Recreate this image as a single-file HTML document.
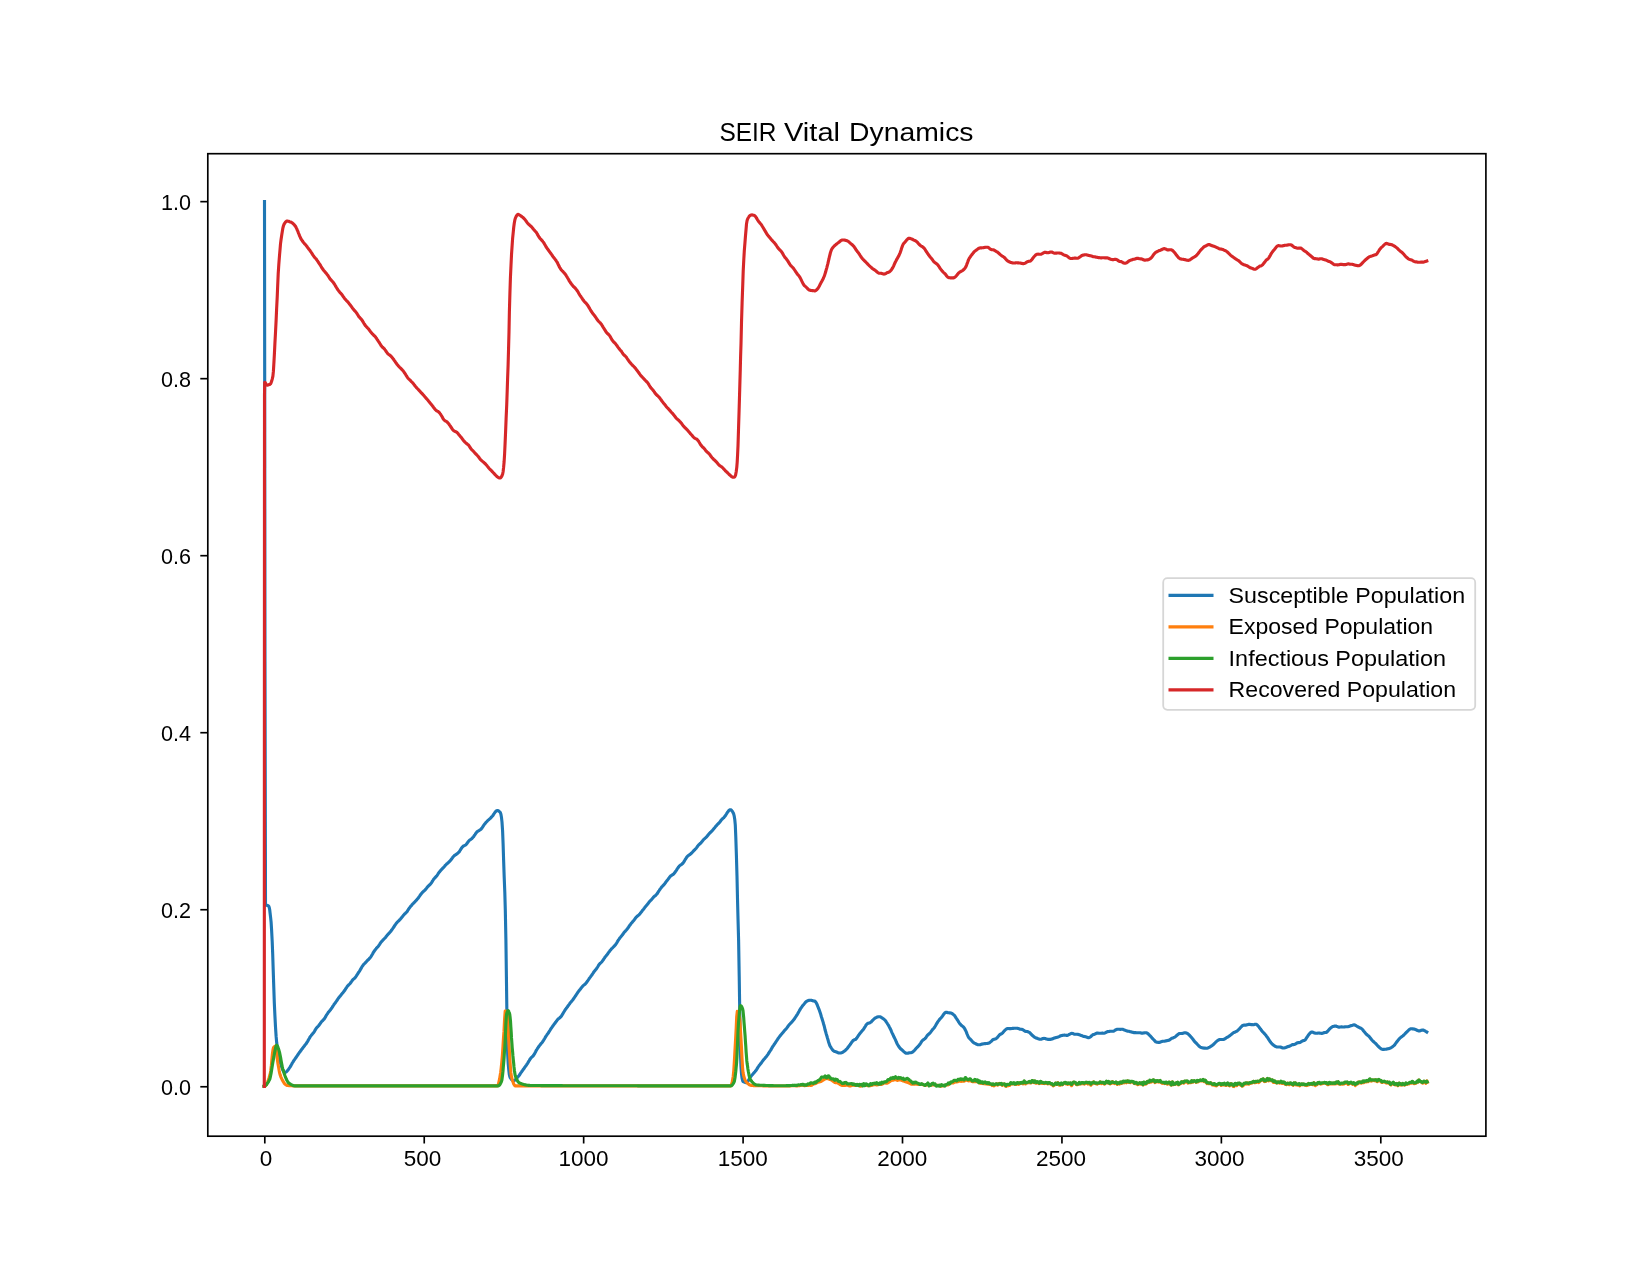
<!DOCTYPE html>
<html><head><meta charset="utf-8"><style>
html,body{margin:0;padding:0;background:#fff;}
svg{display:block;will-change:transform;}
text{font-family:"Liberation Sans",sans-serif;fill:#000;}
</style></head><body>
<svg width="1650" height="1275" viewBox="0 0 1650 1275">
<rect x="0" y="0" width="1650" height="1275" fill="#fff"/>
<g fill="none" stroke-width="3.125" stroke-linejoin="round" stroke-linecap="square">
<polyline stroke="#1f77b4" points="264.5,201.6 265.0,661.7 265.5,904.5 266.0,905.0 266.6,905.3 267.1,905.4 267.6,905.5 268.2,905.7 268.7,906.1 269.2,907.3 269.7,909.7 270.1,913.2 270.6,917.4 271.1,922.2 271.6,930.1 272.2,941.5 272.7,954.3 273.2,969.9 273.8,987.7 274.3,1002.6 274.9,1015.4 275.5,1026.8 276.1,1036.2 276.7,1042.8 277.3,1047.2 277.8,1051.1 278.4,1054.4 279.0,1057.3 279.6,1059.7 280.1,1061.8 280.7,1063.7 281.3,1065.5 281.8,1067.2 282.4,1068.8 283.0,1070.3 283.6,1071.4 284.1,1072.1 284.7,1072.4 285.3,1072.3 285.9,1072.1 286.5,1071.7 287.1,1071.1 287.6,1070.5 288.2,1069.7 288.8,1068.9 289.4,1068.0 290.0,1067.1 290.6,1066.1 291.2,1065.1 291.8,1064.0 292.3,1063.0 292.9,1062.1 293.5,1061.1 294.1,1060.2 294.7,1059.4 295.2,1058.6 295.8,1057.8 296.4,1057.0 296.9,1056.2 297.5,1055.3 298.1,1054.5 298.6,1053.7 299.2,1052.8 299.8,1052.1 300.3,1051.3 300.9,1050.6 301.4,1049.8 302.0,1049.1 302.6,1048.3 303.1,1047.5 303.7,1046.8 304.3,1046.0 304.8,1045.3 305.4,1044.6 306.0,1043.9 306.5,1043.1 307.1,1042.2 307.7,1041.3 308.2,1040.3 308.8,1039.2 309.4,1038.2 309.9,1037.2 310.5,1036.4 311.1,1035.6 311.6,1034.9 312.2,1034.3 312.8,1033.6 313.3,1032.9 313.9,1032.2 314.5,1031.3 315.0,1030.3 315.6,1029.4 316.1,1028.5 316.7,1027.8 317.3,1027.1 317.8,1026.6 318.4,1026.0 319.0,1025.3 319.5,1024.5 320.1,1023.7 320.7,1022.8 321.2,1022.1 321.8,1021.4 322.4,1020.8 322.9,1020.3 323.5,1019.7 324.1,1019.1 324.6,1018.3 325.2,1017.4 325.8,1016.4 326.3,1015.4 326.9,1014.5 327.5,1013.6 328.0,1012.8 328.6,1012.1 329.1,1011.4 329.7,1010.7 330.3,1010.0 330.8,1009.3 331.4,1008.6 332.0,1007.7 332.5,1006.9 333.1,1005.9 333.7,1005.0 334.2,1004.2 334.8,1003.4 335.4,1002.7 335.9,1001.9 336.5,1001.1 337.1,1000.3 337.6,999.4 338.2,998.5 338.8,997.8 339.3,997.0 339.9,996.4 340.5,995.7 341.0,995.0 341.6,994.3 342.1,993.6 342.7,992.9 343.3,992.2 343.8,991.6 344.4,990.8 345.0,990.0 345.5,989.1 346.1,988.2 346.7,987.3 347.2,986.4 347.8,985.7 348.4,985.2 348.9,984.6 349.5,984.1 350.1,983.5 350.6,982.8 351.2,982.0 351.8,981.1 352.3,980.3 352.9,979.7 353.5,979.1 354.0,978.7 354.6,978.2 355.2,977.6 355.7,976.9 356.3,976.1 356.8,975.2 357.4,974.3 358.0,973.4 358.5,972.5 359.1,971.7 359.7,970.8 360.2,969.9 360.8,968.9 361.4,967.9 361.9,966.9 362.5,966.0 363.1,965.2 363.6,964.5 364.2,963.9 364.8,963.4 365.3,962.8 365.9,962.2 366.5,961.5 367.0,960.9 367.6,960.3 368.2,959.8 368.7,959.3 369.3,958.7 369.8,958.1 370.4,957.4 371.0,956.6 371.5,955.7 372.1,954.7 372.7,953.7 373.2,952.7 373.8,951.8 374.4,951.0 374.9,950.2 375.5,949.4 376.1,948.7 376.6,948.0 377.2,947.4 377.8,946.8 378.3,946.2 378.9,945.4 379.5,944.6 380.0,943.7 380.6,942.8 381.2,942.1 381.7,941.4 382.3,940.8 382.8,940.2 383.4,939.6 384.0,939.0 384.5,938.5 385.1,937.9 385.7,937.2 386.2,936.5 386.8,935.8 387.4,935.1 387.9,934.4 388.5,933.8 389.1,933.2 389.6,932.6 390.2,932.0 390.8,931.3 391.3,930.5 391.9,929.7 392.5,928.9 393.0,928.2 393.6,927.3 394.2,926.5 394.7,925.6 395.3,924.7 395.9,923.9 396.4,923.2 397.0,922.5 397.5,921.9 398.1,921.4 398.7,920.8 399.2,920.3 399.8,919.7 400.4,919.1 400.9,918.5 401.5,917.8 402.1,917.1 402.6,916.4 403.2,915.6 403.8,914.9 404.3,914.3 404.9,913.7 405.5,913.2 406.0,912.7 406.6,912.1 407.2,911.4 407.7,910.5 408.3,909.6 408.9,908.7 409.4,907.9 410.0,907.2 410.5,906.5 411.1,905.9 411.7,905.2 412.2,904.5 412.8,903.9 413.4,903.3 413.9,902.7 414.5,902.2 415.1,901.6 415.6,901.0 416.2,900.4 416.8,899.7 417.3,899.1 417.9,898.4 418.5,897.7 419.0,896.9 419.6,896.1 420.2,895.2 420.7,894.5 421.3,893.7 421.9,893.0 422.4,892.4 423.0,891.8 423.5,891.3 424.1,890.9 424.7,890.4 425.2,889.8 425.8,889.2 426.4,888.4 426.9,887.7 427.5,886.9 428.1,886.3 428.6,885.8 429.2,885.3 429.8,884.8 430.3,884.2 430.9,883.5 431.5,882.8 432.0,881.9 432.6,880.9 433.2,880.0 433.7,879.2 434.3,878.5 434.9,877.9 435.4,877.3 436.0,876.8 436.6,876.1 437.1,875.4 437.7,874.5 438.2,873.6 438.8,872.8 439.4,872.1 439.9,871.3 440.5,870.7 441.1,870.0 441.6,869.4 442.2,868.8 442.8,868.2 443.3,867.7 443.9,867.1 444.5,866.4 445.0,865.7 445.6,865.1 446.2,864.5 446.7,863.9 447.3,863.5 447.9,863.0 448.4,862.5 449.0,862.0 449.6,861.4 450.1,860.8 450.7,860.2 451.2,859.5 451.8,858.7 452.4,857.9 452.9,857.1 453.5,856.5 454.1,855.9 454.6,855.4 455.2,855.0 455.8,854.7 456.3,854.3 456.9,853.9 457.5,853.5 458.0,853.0 458.6,852.4 459.2,851.8 459.7,851.0 460.3,850.1 460.9,849.2 461.4,848.3 462.0,847.5 462.6,846.8 463.1,846.3 463.7,845.9 464.2,845.7 464.8,845.4 465.4,845.1 465.9,844.7 466.5,844.1 467.1,843.3 467.6,842.5 468.2,841.7 468.8,841.0 469.3,840.4 469.9,839.9 470.5,839.6 471.0,839.2 471.6,838.8 472.2,838.2 472.7,837.6 473.3,837.0 473.9,836.2 474.4,835.4 475.0,834.6 475.6,833.7 476.1,832.9 476.7,832.2 477.2,831.7 477.8,831.2 478.4,830.9 478.9,830.6 479.5,830.2 480.1,829.9 480.6,829.5 481.2,829.0 481.8,828.3 482.3,827.5 482.9,826.6 483.5,825.7 484.0,824.9 484.6,824.1 485.2,823.4 485.7,822.8 486.3,822.1 486.9,821.5 487.4,820.9 488.0,820.4 488.6,819.9 489.1,819.4 489.7,818.9 490.3,818.4 490.8,817.8 491.4,817.2 491.9,816.6 492.5,816.0 493.1,815.2 493.6,814.4 494.2,813.5 494.8,812.6 495.3,811.9 495.9,811.3 496.5,810.8 497.0,810.5 497.6,810.5 498.2,810.7 498.7,811.0 499.3,811.5 499.8,812.0 500.4,812.6 500.9,814.2 501.5,817.6 502.0,822.2 502.6,831.1 503.1,844.0 503.6,859.7 504.2,877.1 504.8,892.2 505.3,909.6 505.9,939.5 506.4,976.4 506.9,1013.7 507.3,1038.3 507.7,1054.7 508.2,1063.5 508.8,1070.1 509.3,1074.5 509.8,1076.7 510.3,1077.8 510.9,1078.6 511.4,1079.3 511.9,1079.8 512.5,1080.3 513.0,1080.6 513.5,1080.8 514.1,1080.7 514.6,1080.4 515.2,1079.9 515.8,1079.4 516.3,1078.7 516.9,1078.1 517.4,1077.5 518.0,1076.9 518.5,1076.2 519.1,1075.5 519.7,1074.7 520.2,1073.8 520.8,1072.9 521.4,1072.1 521.9,1071.3 522.5,1070.5 523.0,1069.8 523.6,1069.0 524.2,1068.2 524.7,1067.4 525.3,1066.6 525.9,1065.8 526.4,1065.1 527.0,1064.2 527.6,1063.3 528.1,1062.4 528.7,1061.4 529.3,1060.5 529.8,1059.5 530.4,1058.7 531.0,1057.9 531.5,1057.4 532.1,1056.9 532.6,1056.4 533.2,1055.8 533.8,1055.0 534.3,1054.1 534.9,1053.1 535.5,1052.0 536.0,1050.9 536.6,1049.9 537.2,1049.0 537.7,1048.2 538.3,1047.3 538.9,1046.5 539.4,1045.7 540.0,1045.0 540.6,1044.2 541.1,1043.6 541.7,1042.9 542.3,1042.2 542.8,1041.5 543.4,1040.6 543.9,1039.7 544.5,1038.8 545.1,1037.8 545.6,1036.8 546.2,1035.9 546.8,1035.1 547.3,1034.2 547.9,1033.5 548.5,1032.7 549.0,1031.8 549.6,1030.9 550.2,1030.0 550.7,1029.1 551.3,1028.2 551.9,1027.4 552.4,1026.6 553.0,1025.8 553.5,1025.1 554.1,1024.3 554.7,1023.6 555.2,1022.8 555.8,1022.0 556.4,1021.3 556.9,1020.5 557.5,1019.8 558.1,1019.1 558.6,1018.6 559.2,1018.2 559.8,1017.7 560.3,1017.3 560.9,1016.7 561.5,1016.0 562.0,1015.1 562.6,1014.2 563.1,1013.3 563.7,1012.3 564.3,1011.3 564.8,1010.4 565.4,1009.5 566.0,1008.7 566.5,1008.0 567.1,1007.3 567.7,1006.5 568.2,1005.7 568.8,1004.9 569.4,1004.1 569.9,1003.3 570.5,1002.6 571.1,1001.9 571.6,1001.3 572.2,1000.6 572.8,999.9 573.3,999.1 573.9,998.3 574.4,997.5 575.0,996.6 575.6,995.8 576.1,995.0 576.7,994.1 577.3,993.2 577.8,992.4 578.4,991.6 579.0,990.8 579.5,990.1 580.1,989.4 580.7,988.7 581.2,987.9 581.8,987.2 582.4,986.5 582.9,985.9 583.5,985.4 584.0,985.0 584.6,984.5 585.2,984.1 585.7,983.5 586.3,982.8 586.9,982.0 587.4,981.2 588.0,980.4 588.6,979.5 589.1,978.7 589.7,977.9 590.3,977.1 590.8,976.4 591.4,975.6 592.0,974.8 592.5,974.0 593.1,973.1 593.6,972.3 594.2,971.5 594.8,970.8 595.3,970.1 595.9,969.4 596.5,968.7 597.0,967.9 597.6,967.0 598.2,966.0 598.7,965.1 599.3,964.3 599.9,963.7 600.4,963.1 601.0,962.6 601.6,962.0 602.1,961.4 602.7,960.6 603.3,959.8 603.8,959.0 604.4,958.1 604.9,957.3 605.5,956.6 606.1,955.9 606.6,955.2 607.2,954.5 607.8,953.7 608.3,952.9 608.9,952.1 609.5,951.4 610.0,950.6 610.6,949.9 611.2,949.2 611.7,948.6 612.3,948.1 612.9,947.5 613.4,947.0 614.0,946.4 614.5,945.8 615.1,945.2 615.7,944.5 616.2,943.7 616.8,942.8 617.4,941.8 617.9,940.8 618.5,939.9 619.1,939.1 619.6,938.3 620.2,937.6 620.8,936.9 621.3,936.2 621.9,935.5 622.5,934.8 623.0,934.0 623.6,933.2 624.1,932.4 624.7,931.7 625.3,931.2 625.8,930.6 626.4,930.0 627.0,929.3 627.5,928.6 628.1,927.8 628.7,926.9 629.2,926.1 629.8,925.3 630.4,924.5 630.9,923.8 631.5,923.1 632.1,922.4 632.6,921.8 633.2,921.1 633.8,920.5 634.3,919.7 634.9,919.0 635.4,918.2 636.0,917.4 636.6,916.8 637.1,916.3 637.7,915.9 638.3,915.5 638.8,915.0 639.4,914.4 640.0,913.7 640.5,913.0 641.1,912.3 641.7,911.5 642.2,910.8 642.8,910.1 643.4,909.4 643.9,908.7 644.5,907.9 645.0,907.2 645.6,906.5 646.2,905.8 646.7,905.2 647.3,904.5 647.9,903.8 648.4,903.1 649.0,902.3 649.6,901.6 650.1,901.0 650.7,900.4 651.3,899.8 651.8,899.2 652.4,898.5 653.0,897.9 653.5,897.2 654.1,896.6 654.6,896.1 655.2,895.7 655.8,895.2 656.3,894.6 656.9,894.0 657.5,893.2 658.0,892.3 658.6,891.4 659.2,890.5 659.7,889.7 660.3,888.9 660.9,888.1 661.4,887.3 662.0,886.7 662.6,886.1 663.1,885.5 663.7,885.0 664.3,884.3 664.8,883.6 665.4,882.8 665.9,882.0 666.5,881.3 667.1,880.6 667.6,879.9 668.2,879.1 668.8,878.3 669.3,877.6 669.9,876.8 670.5,876.2 671.0,875.7 671.6,875.3 672.2,875.0 672.7,874.7 673.3,874.2 673.9,873.7 674.4,873.1 675.0,872.3 675.5,871.5 676.1,870.7 676.7,869.8 677.2,868.9 677.8,868.1 678.4,867.3 678.9,866.5 679.5,865.9 680.1,865.4 680.6,865.0 681.2,864.6 681.8,864.2 682.3,863.8 682.9,863.2 683.5,862.4 684.0,861.6 684.6,860.6 685.1,859.7 685.7,858.8 686.3,857.9 686.8,857.1 687.4,856.4 688.0,855.8 688.5,855.3 689.1,855.0 689.7,854.7 690.2,854.3 690.8,853.8 691.4,853.3 691.9,852.7 692.5,852.1 693.1,851.4 693.6,850.8 694.2,850.2 694.8,849.7 695.3,849.1 695.9,848.5 696.4,847.9 697.0,847.1 697.6,846.3 698.1,845.5 698.7,844.9 699.3,844.3 699.8,843.8 700.4,843.4 701.0,842.8 701.5,842.1 702.1,841.4 702.7,840.7 703.2,840.0 703.8,839.4 704.4,838.9 704.9,838.4 705.5,837.9 706.0,837.4 706.6,836.8 707.2,836.2 707.7,835.5 708.3,834.7 708.9,834.0 709.4,833.4 710.0,832.8 710.6,832.3 711.1,831.8 711.7,831.2 712.3,830.6 712.8,830.0 713.4,829.3 714.0,828.6 714.5,827.9 715.1,827.2 715.6,826.5 716.2,825.9 716.8,825.2 717.3,824.6 717.9,824.0 718.5,823.5 719.0,822.9 719.6,822.3 720.2,821.5 720.7,820.8 721.3,820.0 721.9,819.4 722.4,818.8 723.0,818.4 723.6,817.9 724.1,817.3 724.7,816.6 725.3,815.8 725.8,815.0 726.4,814.1 726.9,813.2 727.5,812.3 728.1,811.5 728.6,810.8 729.2,810.3 729.8,809.9 730.3,809.8 730.9,809.9 731.5,810.3 732.0,810.9 732.6,811.7 733.1,812.8 733.7,814.0 734.2,816.1 734.8,819.8 735.3,825.1 735.8,837.2 736.4,855.3 737.0,876.3 737.5,899.0 738.0,918.4 738.6,940.1 739.2,975.5 739.8,1014.8 740.1,1037.5 740.5,1054.9 741.0,1067.0 741.5,1073.9 742.0,1077.8 742.6,1080.5 743.1,1081.6 743.6,1081.8 744.2,1082.0 744.7,1082.2 745.2,1082.4 745.8,1082.6 746.3,1082.7 746.9,1082.6 747.4,1082.0 748.0,1081.2 748.5,1080.3 749.1,1079.2 749.6,1078.3 750.2,1077.4 750.8,1076.6 751.4,1075.8 752.0,1075.1 752.6,1074.4 753.2,1073.7 753.7,1073.1 754.3,1072.4 754.9,1071.8 755.5,1071.1 756.1,1070.3 756.7,1069.4 757.3,1068.4 757.9,1067.4 758.5,1066.5 759.0,1065.7 759.6,1065.0 760.2,1064.3 760.8,1063.5 761.4,1062.7 762.0,1061.9 762.6,1061.0 763.2,1060.3 763.7,1059.6 764.3,1058.9 764.9,1058.3 765.5,1057.6 766.0,1056.9 766.6,1056.2 767.2,1055.4 767.8,1054.6 768.4,1053.7 768.9,1052.8 769.5,1051.9 770.1,1051.0 770.7,1050.1 771.3,1049.1 771.8,1048.1 772.4,1047.1 773.0,1046.2 773.6,1045.3 774.1,1044.5 774.7,1043.7 775.3,1042.8 775.9,1041.9 776.5,1041.0 777.1,1040.1 777.7,1039.2 778.2,1038.4 778.8,1037.6 779.4,1036.7 780.0,1036.0 780.6,1035.2 781.2,1034.5 781.8,1033.9 782.4,1033.1 783.0,1032.4 783.6,1031.7 784.1,1031.0 784.7,1030.3 785.3,1029.7 785.9,1029.1 786.5,1028.4 787.1,1027.6 787.7,1026.8 788.2,1026.0 788.8,1025.3 789.4,1024.6 789.9,1024.0 790.5,1023.4 791.0,1022.9 791.6,1022.2 792.2,1021.6 792.7,1021.0 793.3,1020.3 793.9,1019.6 794.5,1018.8 795.0,1017.9 795.6,1017.0 796.2,1016.1 796.8,1015.2 797.4,1014.3 798.0,1013.3 798.5,1012.2 799.1,1011.2 799.7,1010.1 800.3,1009.1 800.9,1008.2 801.5,1007.3 802.0,1006.6 802.6,1005.8 803.2,1005.1 803.8,1004.4 804.4,1003.6 805.0,1002.9 805.5,1002.2 806.1,1001.7 806.7,1001.2 807.3,1001.0 807.8,1000.7 808.4,1000.5 808.9,1000.4 809.5,1000.3 810.0,1000.2 810.6,1000.2 811.2,1000.3 811.7,1000.4 812.3,1000.5 812.8,1000.7 813.4,1000.9 813.9,1001.0 814.5,1001.1 815.1,1001.3 815.6,1001.9 816.2,1002.7 816.7,1003.8 817.3,1005.0 817.8,1006.4 818.4,1007.8 819.0,1009.3 819.6,1011.0 820.2,1012.8 820.8,1014.6 821.3,1016.5 821.9,1018.3 822.5,1020.2 823.1,1022.1 823.6,1024.0 824.2,1026.0 824.7,1028.1 825.2,1030.3 825.8,1032.3 826.3,1034.2 826.9,1036.0 827.4,1037.9 828.0,1039.8 828.5,1041.7 829.1,1043.5 829.6,1045.0 830.2,1046.3 830.8,1047.2 831.3,1048.1 831.9,1048.9 832.4,1049.7 833.0,1050.3 833.5,1050.8 834.1,1051.2 834.7,1051.4 835.2,1051.6 835.8,1051.8 836.4,1052.0 837.0,1052.2 837.5,1052.5 838.1,1052.7 838.7,1052.9 839.3,1053.0 839.8,1053.0 840.4,1053.0 841.0,1052.9 841.5,1052.8 842.1,1052.6 842.7,1052.3 843.2,1051.9 843.8,1051.5 844.4,1051.1 844.9,1050.7 845.5,1050.2 846.0,1049.7 846.6,1049.1 847.2,1048.5 847.7,1047.8 848.3,1047.0 848.9,1046.3 849.4,1045.5 850.0,1044.8 850.6,1044.0 851.1,1043.2 851.7,1042.3 852.3,1041.5 852.8,1040.8 853.4,1040.3 854.0,1040.0 854.5,1039.8 855.1,1039.6 855.7,1039.3 856.3,1038.7 856.8,1038.0 857.4,1037.1 858.0,1036.2 858.5,1035.4 859.1,1034.6 859.7,1033.8 860.2,1033.1 860.8,1032.4 861.4,1031.7 861.9,1031.0 862.5,1030.4 863.1,1029.7 863.7,1029.0 864.2,1028.1 864.8,1027.2 865.4,1026.2 865.9,1025.3 866.5,1024.5 867.1,1023.9 867.6,1023.5 868.2,1023.2 868.8,1023.1 869.4,1022.9 870.0,1022.7 870.6,1022.3 871.2,1021.9 871.7,1021.3 872.3,1020.7 872.9,1020.1 873.5,1019.5 874.1,1018.9 874.7,1018.4 875.3,1018.0 875.9,1017.7 876.5,1017.4 877.0,1017.1 877.6,1017.0 878.2,1016.8 878.8,1016.8 879.4,1016.8 880.0,1016.8 880.6,1017.0 881.2,1017.3 881.8,1017.7 882.3,1018.1 882.9,1018.5 883.5,1018.9 884.1,1019.4 884.7,1019.9 885.3,1020.5 885.9,1021.3 886.4,1022.1 887.0,1023.0 887.6,1024.0 888.2,1024.9 888.8,1025.8 889.3,1026.9 889.9,1028.0 890.5,1029.2 891.1,1030.5 891.6,1031.8 892.2,1033.1 892.8,1034.3 893.4,1035.6 893.9,1036.8 894.5,1037.9 895.1,1039.1 895.7,1040.4 896.2,1041.7 896.8,1043.0 897.4,1044.2 898.0,1045.2 898.6,1046.2 899.2,1047.0 899.7,1047.8 900.3,1048.5 900.9,1049.0 901.5,1049.5 902.1,1050.0 902.6,1050.5 903.2,1051.0 903.8,1051.6 904.4,1052.1 905.0,1052.6 905.6,1053.0 906.1,1053.2 906.7,1053.3 907.3,1053.3 907.9,1053.2 908.4,1053.0 909.0,1052.9 909.6,1052.8 910.2,1052.8 910.7,1052.7 911.3,1052.6 911.9,1052.4 912.5,1052.1 913.0,1051.6 913.6,1051.2 914.2,1050.6 914.8,1050.0 915.4,1049.3 916.0,1048.6 916.5,1048.0 917.1,1047.4 917.7,1046.8 918.3,1046.2 918.9,1045.5 919.5,1044.8 920.1,1044.0 920.7,1043.1 921.2,1042.2 921.8,1041.3 922.4,1040.6 923.0,1040.0 923.6,1039.6 924.2,1039.2 924.8,1038.8 925.4,1038.2 926.0,1037.5 926.5,1036.6 927.1,1035.8 927.7,1035.0 928.3,1034.5 928.9,1034.0 929.5,1033.5 930.1,1032.9 930.7,1032.1 931.2,1031.4 931.8,1030.6 932.4,1029.8 933.0,1029.1 933.6,1028.5 934.2,1027.8 934.7,1027.0 935.3,1026.1 935.8,1025.2 936.4,1024.1 937.0,1023.2 937.5,1022.2 938.1,1021.4 938.7,1020.6 939.2,1019.8 939.8,1019.2 940.3,1018.6 940.9,1018.0 941.5,1017.4 942.0,1016.7 942.6,1015.9 943.1,1015.1 943.7,1014.3 944.3,1013.5 944.8,1012.9 945.4,1012.5 946.0,1012.3 946.5,1012.3 947.1,1012.4 947.6,1012.6 948.2,1012.7 948.8,1012.8 949.4,1012.9 950.0,1012.9 950.6,1013.0 951.2,1013.1 951.8,1013.4 952.4,1013.8 953.0,1014.3 953.6,1014.7 954.1,1015.1 954.7,1015.8 955.2,1016.5 955.7,1017.3 956.2,1018.1 956.8,1019.0 957.3,1019.8 957.9,1020.6 958.4,1021.6 959.0,1022.5 959.6,1023.4 960.2,1024.1 960.7,1024.7 961.3,1025.3 961.9,1025.8 962.5,1026.2 963.0,1026.6 963.6,1027.2 964.1,1027.8 964.7,1028.7 965.2,1029.7 965.8,1030.9 966.4,1032.2 966.9,1033.6 967.5,1035.0 968.0,1036.2 968.6,1037.3 969.1,1038.0 969.7,1038.6 970.3,1039.2 970.9,1039.8 971.5,1040.5 972.0,1041.1 972.6,1041.7 973.2,1042.2 973.8,1042.7 974.4,1043.1 975.0,1043.4 975.6,1043.7 976.2,1044.0 976.7,1044.3 977.3,1044.5 977.9,1044.7 978.5,1044.8 979.1,1044.8 979.7,1044.8 980.2,1044.7 980.8,1044.5 981.4,1044.3 982.0,1044.1 982.5,1044.0 983.1,1043.9 983.7,1043.8 984.3,1043.7 984.8,1043.6 985.4,1043.6 986.0,1043.5 986.6,1043.5 987.1,1043.5 987.7,1043.4 988.3,1043.3 988.9,1043.1 989.4,1042.8 990.0,1042.4 990.6,1041.9 991.2,1041.4 991.8,1040.8 992.4,1040.2 992.9,1039.7 993.5,1039.4 994.1,1039.2 994.7,1039.1 995.3,1038.9 995.9,1038.7 996.5,1038.3 997.1,1037.8 997.6,1037.2 998.2,1036.4 998.8,1035.7 999.4,1035.0 1000.0,1034.5 1000.6,1034.2 1001.1,1034.0 1001.7,1033.6 1002.3,1033.2 1002.9,1032.6 1003.4,1031.9 1004.0,1031.2 1004.6,1030.6 1005.2,1030.0 1005.7,1029.5 1006.3,1029.1 1006.9,1028.7 1007.5,1028.5 1008.0,1028.5 1008.6,1028.5 1009.2,1028.6 1009.8,1028.6 1010.3,1028.7 1010.9,1028.6 1011.5,1028.5 1012.1,1028.5 1012.6,1028.4 1013.2,1028.4 1013.8,1028.3 1014.4,1028.3 1014.9,1028.3 1015.5,1028.3 1016.1,1028.3 1016.7,1028.3 1017.2,1028.3 1017.8,1028.4 1018.4,1028.6 1019.0,1028.8 1019.6,1029.0 1020.1,1029.2 1020.7,1029.3 1021.3,1029.3 1021.9,1029.4 1022.4,1029.5 1023.0,1029.8 1023.6,1030.2 1024.2,1030.6 1024.7,1031.0 1025.2,1031.3 1025.8,1031.4 1026.3,1031.5 1026.9,1031.5 1027.5,1031.6 1028.0,1031.8 1028.5,1032.0 1029.1,1032.2 1029.7,1032.6 1030.2,1033.2 1030.8,1033.8 1031.4,1034.4 1031.9,1035.0 1032.5,1035.5 1033.1,1036.0 1033.7,1036.5 1034.2,1037.0 1034.8,1037.4 1035.4,1037.7 1035.9,1038.0 1036.5,1038.1 1037.1,1038.3 1037.6,1038.5 1038.2,1038.7 1038.8,1038.9 1039.4,1039.2 1039.9,1039.3 1040.5,1039.3 1041.1,1039.2 1041.7,1039.0 1042.2,1038.8 1042.8,1038.6 1043.4,1038.5 1044.0,1038.4 1044.6,1038.5 1045.1,1038.5 1045.7,1038.7 1046.3,1038.9 1046.9,1039.1 1047.4,1039.3 1048.0,1039.4 1048.6,1039.4 1049.2,1039.4 1049.7,1039.4 1050.3,1039.4 1050.9,1039.3 1051.5,1039.1 1052.1,1039.0 1052.6,1038.8 1053.2,1038.5 1053.8,1038.3 1054.4,1038.1 1054.9,1037.8 1055.5,1037.7 1056.1,1037.5 1056.7,1037.4 1057.2,1037.3 1057.8,1037.2 1058.4,1036.9 1059.0,1036.6 1059.6,1036.3 1060.1,1036.0 1060.7,1035.7 1061.3,1035.6 1061.9,1035.5 1062.4,1035.4 1063.0,1035.3 1063.6,1035.2 1064.2,1035.1 1064.7,1035.1 1065.3,1035.2 1065.9,1035.3 1066.5,1035.4 1067.0,1035.4 1067.6,1035.2 1068.2,1035.0 1068.8,1034.7 1069.3,1034.4 1069.9,1034.1 1070.5,1033.8 1071.1,1033.6 1071.6,1033.4 1072.2,1033.4 1072.8,1033.6 1073.4,1033.8 1073.9,1034.0 1074.5,1034.2 1075.1,1034.2 1075.7,1034.2 1076.2,1034.2 1076.8,1034.2 1077.4,1034.3 1078.0,1034.4 1078.6,1034.5 1079.2,1034.7 1079.7,1034.9 1080.3,1035.1 1080.9,1035.4 1081.5,1035.6 1082.1,1035.8 1082.6,1036.0 1083.2,1036.2 1083.8,1036.4 1084.4,1036.5 1085.0,1036.6 1085.6,1036.7 1086.1,1036.9 1086.7,1037.1 1087.3,1037.4 1087.9,1037.6 1088.4,1037.7 1089.0,1037.6 1089.5,1037.4 1090.1,1037.1 1090.6,1036.7 1091.2,1036.2 1091.7,1035.6 1092.3,1035.2 1092.8,1034.8 1093.4,1034.6 1093.9,1034.4 1094.5,1034.2 1095.1,1033.9 1095.7,1033.7 1096.2,1033.4 1096.8,1033.1 1097.4,1033.0 1098.0,1033.1 1098.6,1033.2 1099.2,1033.3 1099.7,1033.3 1100.3,1033.3 1100.9,1033.2 1101.5,1033.2 1102.1,1033.1 1102.6,1033.1 1103.2,1033.2 1103.8,1033.2 1104.4,1033.1 1105.0,1032.9 1105.6,1032.6 1106.1,1032.3 1106.7,1032.0 1107.3,1031.8 1107.9,1031.6 1108.5,1031.5 1109.0,1031.5 1109.6,1031.4 1110.2,1031.3 1110.8,1031.3 1111.4,1031.3 1111.9,1031.3 1112.5,1031.3 1113.1,1031.2 1113.7,1031.1 1114.3,1030.8 1114.8,1030.4 1115.4,1030.0 1116.0,1029.7 1116.6,1029.5 1117.2,1029.3 1117.7,1029.2 1118.3,1029.2 1118.9,1029.3 1119.5,1029.3 1120.1,1029.4 1120.6,1029.4 1121.2,1029.3 1121.8,1029.3 1122.4,1029.3 1123.0,1029.4 1123.5,1029.6 1124.1,1029.9 1124.7,1030.1 1125.3,1030.4 1125.8,1030.6 1126.4,1030.8 1127.0,1031.0 1127.6,1031.1 1128.2,1031.2 1128.7,1031.3 1129.3,1031.4 1129.9,1031.6 1130.5,1031.7 1131.0,1031.9 1131.6,1032.0 1132.2,1032.2 1132.8,1032.3 1133.3,1032.5 1133.9,1032.6 1134.5,1032.6 1135.1,1032.6 1135.7,1032.6 1136.3,1032.7 1136.9,1032.7 1137.5,1032.8 1138.0,1032.8 1138.6,1032.8 1139.2,1032.8 1139.8,1032.8 1140.4,1032.8 1141.0,1033.0 1141.6,1033.1 1142.2,1033.2 1142.8,1033.1 1143.4,1033.0 1143.9,1032.9 1144.5,1032.7 1145.1,1032.7 1145.7,1032.7 1146.3,1032.8 1146.9,1033.0 1147.4,1033.2 1148.0,1033.7 1148.5,1034.2 1149.1,1034.7 1149.6,1035.3 1150.2,1035.9 1150.7,1036.4 1151.3,1037.1 1151.8,1037.7 1152.4,1038.4 1152.9,1038.9 1153.5,1039.5 1154.1,1040.1 1154.6,1040.7 1155.2,1041.3 1155.7,1041.8 1156.3,1042.0 1156.9,1042.2 1157.5,1042.3 1158.1,1042.4 1158.7,1042.5 1159.3,1042.4 1159.9,1042.3 1160.5,1042.0 1161.1,1041.8 1161.7,1041.6 1162.2,1041.4 1162.8,1041.3 1163.4,1041.3 1164.0,1041.3 1164.6,1041.2 1165.2,1041.0 1165.8,1040.9 1166.4,1040.7 1167.0,1040.6 1167.6,1040.5 1168.2,1040.4 1168.8,1040.3 1169.4,1040.0 1170.0,1039.6 1170.5,1039.2 1171.1,1038.8 1171.7,1038.4 1172.3,1038.1 1172.9,1037.9 1173.5,1037.7 1174.1,1037.4 1174.7,1037.1 1175.3,1036.7 1175.9,1036.3 1176.4,1035.7 1177.0,1035.2 1177.6,1034.7 1178.2,1034.2 1178.8,1033.8 1179.4,1033.6 1180.0,1033.5 1180.6,1033.5 1181.1,1033.5 1181.7,1033.5 1182.3,1033.4 1182.9,1033.2 1183.5,1033.1 1184.1,1032.9 1184.6,1032.8 1185.2,1032.8 1185.8,1032.9 1186.4,1033.0 1187.0,1033.2 1187.6,1033.6 1188.2,1034.0 1188.8,1034.6 1189.3,1035.1 1189.9,1035.7 1190.5,1036.4 1191.1,1037.0 1191.7,1037.7 1192.3,1038.4 1192.9,1039.2 1193.5,1040.0 1194.0,1040.8 1194.6,1041.6 1195.2,1042.2 1195.8,1042.8 1196.4,1043.3 1197.0,1043.9 1197.5,1044.5 1198.1,1045.1 1198.7,1045.8 1199.3,1046.4 1199.9,1046.8 1200.4,1047.1 1201.0,1047.4 1201.6,1047.6 1202.2,1047.7 1202.8,1047.9 1203.4,1048.0 1203.9,1048.1 1204.5,1048.1 1205.1,1048.1 1205.7,1048.2 1206.2,1048.2 1206.8,1048.2 1207.4,1048.1 1208.0,1047.9 1208.5,1047.7 1209.1,1047.4 1209.7,1047.1 1210.3,1046.7 1210.8,1046.3 1211.4,1046.0 1212.0,1045.6 1212.6,1045.2 1213.1,1044.7 1213.7,1044.2 1214.3,1043.6 1214.9,1043.0 1215.4,1042.5 1216.0,1041.9 1216.6,1041.4 1217.2,1040.9 1217.7,1040.5 1218.3,1040.1 1218.9,1039.8 1219.5,1039.6 1220.0,1039.5 1220.6,1039.5 1221.2,1039.5 1221.8,1039.5 1222.3,1039.5 1222.9,1039.5 1223.5,1039.4 1224.1,1039.3 1224.6,1039.0 1225.2,1038.6 1225.8,1038.2 1226.4,1037.8 1227.0,1037.4 1227.6,1037.1 1228.2,1036.8 1228.7,1036.4 1229.3,1036.0 1229.9,1035.6 1230.5,1035.1 1231.1,1034.6 1231.7,1034.1 1232.3,1033.7 1232.8,1033.2 1233.4,1032.8 1234.0,1032.4 1234.6,1032.2 1235.2,1032.0 1235.8,1031.7 1236.4,1031.4 1237.0,1031.1 1237.5,1030.6 1238.1,1030.1 1238.7,1029.5 1239.3,1028.9 1239.9,1028.3 1240.5,1027.6 1241.1,1027.0 1241.7,1026.4 1242.2,1025.8 1242.8,1025.4 1243.4,1025.2 1244.0,1025.1 1244.6,1025.1 1245.2,1025.1 1245.8,1025.1 1246.4,1025.0 1246.9,1024.8 1247.5,1024.7 1248.1,1024.5 1248.7,1024.4 1249.3,1024.4 1249.9,1024.4 1250.5,1024.5 1251.1,1024.6 1251.7,1024.6 1252.2,1024.6 1252.8,1024.7 1253.4,1024.7 1254.0,1024.6 1254.6,1024.4 1255.2,1024.3 1255.8,1024.3 1256.3,1024.4 1256.9,1024.7 1257.5,1025.2 1258.1,1025.9 1258.7,1026.6 1259.3,1027.5 1259.9,1028.3 1260.5,1029.1 1261.1,1029.8 1261.6,1030.6 1262.2,1031.3 1262.8,1031.9 1263.4,1032.5 1264.0,1033.2 1264.6,1033.8 1265.2,1034.5 1265.8,1035.2 1266.3,1035.9 1266.9,1036.7 1267.5,1037.5 1268.1,1038.4 1268.7,1039.4 1269.3,1040.3 1269.9,1041.2 1270.5,1042.0 1271.0,1042.7 1271.6,1043.4 1272.2,1044.0 1272.8,1044.6 1273.4,1045.0 1274.0,1045.5 1274.6,1045.9 1275.2,1046.3 1275.7,1046.6 1276.3,1046.8 1276.9,1047.0 1277.5,1047.0 1278.1,1047.0 1278.7,1047.0 1279.3,1047.0 1279.9,1047.0 1280.5,1047.1 1281.1,1047.3 1281.6,1047.5 1282.2,1047.8 1282.8,1048.0 1283.4,1048.0 1284.0,1048.0 1284.6,1047.8 1285.2,1047.7 1285.8,1047.5 1286.3,1047.3 1286.9,1047.0 1287.5,1046.8 1288.1,1046.5 1288.7,1046.4 1289.3,1046.2 1289.9,1046.0 1290.5,1045.6 1291.1,1045.3 1291.6,1045.0 1292.2,1044.8 1292.8,1044.6 1293.4,1044.6 1294.0,1044.5 1294.6,1044.4 1295.2,1044.1 1295.8,1043.8 1296.4,1043.4 1297.0,1043.0 1297.6,1042.7 1298.2,1042.6 1298.8,1042.6 1299.3,1042.6 1299.9,1042.4 1300.5,1042.2 1301.1,1041.8 1301.7,1041.4 1302.3,1041.0 1302.9,1040.8 1303.5,1040.6 1304.1,1040.5 1304.7,1040.2 1305.3,1039.7 1305.9,1038.9 1306.4,1038.1 1307.0,1037.2 1307.6,1036.3 1308.2,1035.4 1308.7,1034.7 1309.3,1033.9 1309.9,1033.2 1310.5,1032.7 1311.0,1032.2 1311.6,1032.0 1312.2,1032.0 1312.8,1032.2 1313.3,1032.5 1313.9,1032.7 1314.5,1033.0 1315.1,1033.1 1315.6,1033.2 1316.2,1033.3 1316.8,1033.2 1317.4,1033.2 1317.9,1033.1 1318.5,1033.0 1319.1,1033.0 1319.7,1033.1 1320.2,1033.2 1320.8,1033.3 1321.4,1033.4 1322.0,1033.4 1322.5,1033.3 1323.1,1033.1 1323.7,1032.8 1324.3,1032.6 1324.8,1032.5 1325.4,1032.5 1326.0,1032.4 1326.6,1032.2 1327.1,1031.8 1327.7,1031.2 1328.3,1030.5 1328.9,1029.8 1329.4,1029.2 1330.0,1028.6 1330.6,1028.0 1331.2,1027.6 1331.7,1027.2 1332.3,1026.8 1332.9,1026.6 1333.5,1026.4 1334.1,1026.2 1334.7,1026.0 1335.3,1026.0 1335.9,1026.1 1336.5,1026.3 1337.1,1026.6 1337.7,1026.8 1338.3,1027.0 1338.8,1027.1 1339.4,1027.1 1340.0,1027.0 1340.6,1027.0 1341.2,1026.9 1341.8,1026.9 1342.4,1027.0 1343.0,1027.0 1343.6,1027.0 1344.2,1027.0 1344.8,1026.9 1345.4,1026.8 1346.0,1026.8 1346.6,1026.8 1347.1,1026.7 1347.7,1026.7 1348.3,1026.6 1348.9,1026.4 1349.5,1026.2 1350.1,1026.0 1350.7,1025.8 1351.3,1025.6 1351.9,1025.5 1352.5,1025.3 1353.0,1025.1 1353.6,1024.9 1354.2,1024.9 1354.8,1025.0 1355.4,1025.3 1356.0,1025.6 1356.6,1026.0 1357.1,1026.3 1357.7,1026.6 1358.3,1027.0 1358.9,1027.3 1359.5,1027.6 1360.0,1027.9 1360.6,1028.1 1361.2,1028.4 1361.8,1028.9 1362.4,1029.4 1363.0,1030.1 1363.5,1030.9 1364.1,1031.6 1364.7,1032.3 1365.3,1033.0 1365.9,1033.7 1366.4,1034.3 1367.0,1034.8 1367.6,1035.3 1368.2,1035.7 1368.8,1036.1 1369.3,1036.7 1369.9,1037.4 1370.5,1038.2 1371.1,1039.0 1371.7,1039.8 1372.3,1040.5 1372.8,1041.0 1373.4,1041.5 1374.0,1042.0 1374.6,1042.6 1375.2,1043.1 1375.8,1043.7 1376.4,1044.3 1377.0,1045.0 1377.5,1045.6 1378.1,1046.2 1378.7,1046.8 1379.3,1047.3 1379.9,1047.9 1380.5,1048.4 1381.1,1048.8 1381.7,1049.1 1382.2,1049.3 1382.8,1049.4 1383.4,1049.4 1384.0,1049.4 1384.6,1049.3 1385.2,1049.3 1385.7,1049.2 1386.3,1049.1 1386.8,1049.0 1387.4,1048.9 1388.0,1048.8 1388.5,1048.7 1389.1,1048.5 1389.6,1048.4 1390.2,1048.1 1390.8,1047.8 1391.3,1047.5 1391.9,1047.1 1392.4,1046.8 1393.0,1046.4 1393.6,1045.9 1394.2,1045.4 1394.8,1044.7 1395.3,1043.9 1395.9,1043.1 1396.5,1042.3 1397.1,1041.5 1397.7,1040.7 1398.3,1040.0 1398.9,1039.3 1399.5,1038.6 1400.1,1038.0 1400.6,1037.5 1401.2,1037.1 1401.8,1036.6 1402.4,1036.2 1403.0,1035.8 1403.6,1035.3 1404.2,1034.6 1404.8,1034.0 1405.3,1033.4 1405.9,1032.8 1406.5,1032.2 1407.1,1031.7 1407.7,1031.1 1408.3,1030.5 1408.9,1029.9 1409.5,1029.4 1410.0,1029.1 1410.6,1028.8 1411.2,1028.7 1411.8,1028.8 1412.4,1028.9 1413.0,1028.9 1413.6,1029.0 1414.2,1029.1 1414.8,1029.3 1415.4,1029.5 1416.0,1029.7 1416.6,1030.0 1417.2,1030.4 1417.8,1030.6 1418.4,1030.9 1419.0,1030.9 1419.6,1030.9 1420.2,1030.7 1420.8,1030.5 1421.4,1030.2 1422.0,1030.1 1422.6,1030.0 1423.2,1030.1 1423.8,1030.3 1424.4,1030.6 1425.0,1030.9 1425.6,1031.3 1426.2,1031.6 1426.8,1032.0"/>
<polyline stroke="#ff7f0e" points="264.7,1086.2 265.3,1086.0 265.8,1085.5 266.4,1084.8 266.9,1083.7 267.5,1082.4 268.1,1080.9 268.6,1079.3 269.2,1077.4 269.7,1075.5 270.3,1073.4 270.8,1070.2 271.4,1065.2 271.9,1059.5 272.4,1054.0 273.0,1049.7 273.5,1047.6 274.1,1047.0 274.7,1046.4 275.3,1046.1 275.9,1046.0 276.4,1049.0 277.0,1055.2 277.5,1060.5 278.0,1064.0 278.6,1067.3 279.1,1070.3 279.6,1072.9 280.2,1075.1 280.7,1076.6 281.3,1077.9 281.9,1079.2 282.5,1080.3 283.1,1081.4 283.7,1082.3 284.2,1083.2 284.8,1083.9 285.4,1084.5 286.0,1084.9 286.6,1085.2 287.2,1085.4 287.8,1085.5 288.3,1085.5 288.9,1085.6 289.4,1085.6 290.0,1085.7 290.5,1085.7 291.1,1085.8 291.7,1085.8 292.2,1085.8 292.8,1085.9 293.3,1085.9 293.9,1085.9 294.4,1085.9 295.0,1085.9 295.6,1085.9 296.2,1085.9 296.8,1085.9 297.4,1085.9 298.0,1085.9 298.6,1085.9 299.2,1085.9 299.8,1085.9 300.4,1085.9 301.0,1085.9 301.6,1085.9 302.2,1085.9 302.8,1085.9 303.4,1085.9 304.0,1085.9 304.6,1085.9 305.2,1085.9 305.8,1085.9 306.4,1085.9 307.0,1085.9 307.6,1085.9 308.2,1085.9 308.8,1085.9 309.4,1085.9 310.0,1085.9 310.6,1085.9 311.2,1085.9 311.8,1085.9 312.4,1085.9 313.0,1085.9 313.6,1085.9 314.2,1085.9 314.8,1085.9 315.4,1085.9 316.0,1085.9 316.6,1085.9 317.2,1085.9 317.8,1085.9 318.4,1085.9 319.0,1085.9 319.6,1085.9 320.2,1085.9 320.7,1085.9 321.3,1085.9 321.9,1085.9 322.5,1085.9 323.1,1085.9 323.7,1085.9 324.3,1085.9 324.9,1085.9 325.5,1085.9 326.1,1085.9 326.7,1085.9 327.3,1085.9 327.9,1085.9 328.5,1085.9 329.1,1085.9 329.7,1085.9 330.3,1085.9 330.9,1085.9 331.5,1085.9 332.1,1085.9 332.7,1085.9 333.3,1085.9 333.9,1085.9 334.5,1085.9 335.1,1085.9 335.7,1085.9 336.3,1085.9 336.9,1085.9 337.5,1085.9 338.1,1085.9 338.7,1085.9 339.3,1085.9 339.9,1085.9 340.5,1085.9 341.1,1085.9 341.7,1085.9 342.3,1085.9 342.9,1085.9 343.5,1085.9 344.1,1085.9 344.7,1085.9 345.3,1085.9 345.9,1085.9 346.5,1085.9 347.1,1085.9 347.7,1085.9 348.3,1085.9 348.9,1085.9 349.5,1085.9 350.1,1085.9 350.7,1085.9 351.3,1085.9 351.9,1085.9 352.5,1085.9 353.1,1085.9 353.7,1085.9 354.3,1085.9 354.9,1085.9 355.5,1085.9 356.1,1085.9 356.7,1085.9 357.3,1085.9 357.9,1085.9 358.5,1085.9 359.1,1085.9 359.7,1085.9 360.3,1085.9 360.9,1085.9 361.5,1085.9 362.1,1085.9 362.7,1085.9 363.3,1085.9 363.9,1085.9 364.5,1085.9 365.1,1085.9 365.7,1085.9 366.3,1085.9 366.9,1085.9 367.5,1085.9 368.1,1085.9 368.7,1085.9 369.3,1085.9 369.9,1085.9 370.5,1085.9 371.0,1085.9 371.6,1085.9 372.2,1085.9 372.8,1085.9 373.4,1085.9 374.0,1085.9 374.6,1085.9 375.2,1085.9 375.8,1085.9 376.4,1085.9 377.0,1085.9 377.6,1085.9 378.2,1085.9 378.8,1085.9 379.4,1085.9 380.0,1085.9 380.6,1085.9 381.2,1085.9 381.8,1085.9 382.4,1085.9 383.0,1085.9 383.6,1085.9 384.2,1085.9 384.8,1085.9 385.4,1085.9 386.0,1085.9 386.6,1085.9 387.2,1085.9 387.8,1085.9 388.4,1085.9 389.0,1085.9 389.6,1085.9 390.2,1085.9 390.8,1085.9 391.4,1085.9 392.0,1085.9 392.6,1085.9 393.2,1085.9 393.8,1085.9 394.4,1085.9 395.0,1085.9 395.6,1085.9 396.2,1085.9 396.8,1085.9 397.4,1085.9 398.0,1085.9 398.6,1085.9 399.2,1085.9 399.8,1085.9 400.4,1085.9 401.0,1085.9 401.6,1085.9 402.2,1085.9 402.8,1085.9 403.4,1085.9 404.0,1085.9 404.6,1085.9 405.2,1085.9 405.8,1085.9 406.4,1085.9 407.0,1085.9 407.6,1085.9 408.2,1085.9 408.8,1085.9 409.4,1085.9 410.0,1085.9 410.6,1085.9 411.2,1085.9 411.8,1085.9 412.4,1085.9 413.0,1085.9 413.6,1085.9 414.2,1085.9 414.8,1085.9 415.4,1085.9 416.0,1085.9 416.6,1085.9 417.2,1085.9 417.8,1085.9 418.4,1085.9 419.0,1085.9 419.6,1085.9 420.2,1085.9 420.8,1085.9 421.4,1085.9 421.9,1085.9 422.5,1085.9 423.1,1085.9 423.7,1085.9 424.3,1085.9 424.9,1085.9 425.5,1085.9 426.1,1085.9 426.7,1085.9 427.3,1085.9 427.9,1085.9 428.5,1085.9 429.1,1085.9 429.7,1085.9 430.3,1085.9 430.9,1085.9 431.5,1085.9 432.1,1085.9 432.7,1085.9 433.3,1085.9 433.9,1085.9 434.5,1085.9 435.1,1085.9 435.7,1085.9 436.3,1085.9 436.9,1085.9 437.5,1085.9 438.1,1085.9 438.7,1085.9 439.3,1085.9 439.9,1085.9 440.5,1085.9 441.1,1085.9 441.7,1085.9 442.3,1085.9 442.9,1085.9 443.5,1085.9 444.1,1085.9 444.7,1085.9 445.3,1085.9 445.9,1085.9 446.5,1085.9 447.1,1085.9 447.7,1085.9 448.3,1085.9 448.9,1085.9 449.5,1085.9 450.1,1085.9 450.7,1085.9 451.3,1085.9 451.9,1085.9 452.5,1085.9 453.1,1085.9 453.7,1085.9 454.3,1085.9 454.9,1085.9 455.5,1085.9 456.1,1085.9 456.7,1085.9 457.3,1085.9 457.9,1085.9 458.5,1085.9 459.1,1085.9 459.7,1085.9 460.3,1085.9 460.9,1085.9 461.5,1085.9 462.1,1085.9 462.7,1085.9 463.3,1085.9 463.9,1085.9 464.5,1085.9 465.1,1085.9 465.7,1085.9 466.3,1085.9 466.9,1085.9 467.5,1085.9 468.1,1085.9 468.7,1085.9 469.3,1085.9 469.9,1085.9 470.5,1085.9 471.1,1085.9 471.7,1085.9 472.2,1085.9 472.8,1085.9 473.4,1085.9 474.0,1085.9 474.6,1085.9 475.2,1085.9 475.8,1085.9 476.4,1085.9 477.0,1085.9 477.6,1085.9 478.2,1085.9 478.8,1085.9 479.4,1085.9 480.0,1085.9 480.6,1085.9 481.2,1085.9 481.8,1085.9 482.4,1085.9 483.0,1085.9 483.6,1085.9 484.2,1085.9 484.8,1085.9 485.4,1085.9 486.0,1085.9 486.6,1085.9 487.2,1085.9 487.8,1085.9 488.4,1085.9 489.0,1085.9 489.6,1085.9 490.2,1085.9 490.8,1085.9 491.4,1085.9 492.0,1085.9 492.6,1085.9 493.2,1085.9 493.8,1085.9 494.4,1085.9 495.0,1085.9 495.6,1085.9 496.2,1085.9 496.8,1085.9 497.4,1085.9 497.9,1085.4 498.5,1083.9 499.0,1081.7 499.6,1078.9 500.1,1075.7 500.7,1072.3 501.2,1068.0 501.8,1062.2 502.4,1055.2 502.9,1047.5 503.4,1039.4 504.0,1031.2 504.6,1018.9 505.2,1011.0 505.7,1011.1 506.2,1011.3 506.8,1011.7 507.3,1012.2 507.8,1018.7 508.4,1031.7 508.9,1043.5 509.4,1051.7 509.9,1059.8 510.4,1067.1 510.9,1072.9 511.4,1076.4 512.0,1078.7 512.6,1080.8 513.2,1082.5 513.7,1084.0 514.3,1085.0 514.9,1085.7 515.5,1085.9 516.1,1085.9 516.7,1085.9 517.3,1085.9 517.9,1085.9 518.5,1085.9 519.1,1085.9 519.7,1085.9 520.3,1085.9 520.9,1085.9 521.5,1085.9 522.1,1085.9 522.7,1085.9 523.3,1085.9 523.9,1085.9 524.5,1085.9 525.1,1085.9 525.7,1085.9 526.3,1085.9 526.9,1085.9 527.5,1085.9 528.1,1085.9 528.7,1085.9 529.3,1085.9 529.9,1085.9 530.5,1085.9 531.1,1085.9 531.7,1085.9 532.3,1085.9 532.9,1085.9 533.5,1085.9 534.1,1085.9 534.7,1085.9 535.3,1085.9 535.9,1085.9 536.5,1085.9 537.1,1085.9 537.7,1085.9 538.3,1085.9 538.9,1085.9 539.5,1085.9 540.1,1085.9 540.7,1085.9 541.3,1085.9 541.9,1085.9 542.5,1085.9 543.1,1085.9 543.7,1085.9 544.3,1085.9 544.9,1085.9 545.5,1085.9 546.1,1085.9 546.7,1085.9 547.3,1085.9 547.9,1085.9 548.5,1085.9 549.1,1085.9 549.7,1085.9 550.3,1085.9 550.9,1085.9 551.5,1085.9 552.1,1085.9 552.7,1085.9 553.3,1085.9 553.9,1085.9 554.5,1085.9 555.1,1085.9 555.7,1085.9 556.3,1085.9 556.9,1085.9 557.5,1085.9 558.1,1085.9 558.7,1085.9 559.3,1085.9 559.9,1085.9 560.5,1085.9 561.1,1085.9 561.7,1085.9 562.3,1085.9 562.9,1085.9 563.5,1085.9 564.1,1085.9 564.7,1085.9 565.3,1085.9 565.9,1085.9 566.5,1085.9 567.1,1085.9 567.7,1085.9 568.3,1085.9 568.9,1085.9 569.4,1085.9 570.0,1085.9 570.6,1085.9 571.2,1085.9 571.8,1085.9 572.4,1085.9 573.0,1085.9 573.6,1085.9 574.2,1085.9 574.8,1085.9 575.4,1085.9 576.0,1085.9 576.6,1085.9 577.2,1085.9 577.8,1085.9 578.4,1085.9 579.0,1085.9 579.6,1085.9 580.2,1085.9 580.8,1085.9 581.4,1085.9 582.0,1085.9 582.6,1085.9 583.2,1085.9 583.8,1085.9 584.4,1085.9 585.0,1085.9 585.6,1085.9 586.2,1085.9 586.8,1085.9 587.4,1085.9 588.0,1085.9 588.6,1085.9 589.2,1085.9 589.8,1085.9 590.4,1085.9 591.0,1085.9 591.6,1085.9 592.2,1085.9 592.8,1085.9 593.4,1085.9 594.0,1085.9 594.6,1085.9 595.2,1085.9 595.8,1085.9 596.4,1085.9 597.0,1085.9 597.6,1085.9 598.2,1085.9 598.8,1085.9 599.4,1085.9 600.0,1085.9 600.6,1085.9 601.2,1085.9 601.8,1085.9 602.4,1085.9 603.0,1085.9 603.6,1085.9 604.2,1085.9 604.8,1085.9 605.4,1085.9 606.0,1085.9 606.6,1085.9 607.2,1085.9 607.8,1085.9 608.4,1085.9 609.0,1085.9 609.6,1085.9 610.2,1085.9 610.8,1085.9 611.4,1085.9 612.0,1085.9 612.6,1085.9 613.2,1085.9 613.8,1085.9 614.4,1085.9 615.0,1085.9 615.6,1085.9 616.2,1085.9 616.8,1085.9 617.4,1085.9 618.0,1085.9 618.6,1085.9 619.2,1085.9 619.8,1085.9 620.4,1085.9 621.0,1085.9 621.6,1085.9 622.2,1085.9 622.8,1085.9 623.4,1085.9 624.0,1085.9 624.6,1085.9 625.2,1085.9 625.8,1085.9 626.4,1085.9 627.0,1085.9 627.6,1085.9 628.2,1085.9 628.8,1085.9 629.4,1085.9 630.0,1085.9 630.6,1085.9 631.2,1085.9 631.8,1085.9 632.4,1085.9 633.0,1085.9 633.6,1085.9 634.2,1085.9 634.8,1085.9 635.4,1085.9 636.0,1085.9 636.6,1085.9 637.2,1085.9 637.8,1085.9 638.4,1085.9 639.0,1085.9 639.6,1085.9 640.2,1085.9 640.8,1085.9 641.4,1085.9 642.0,1085.9 642.6,1085.9 643.2,1085.9 643.8,1085.9 644.4,1085.9 645.0,1085.9 645.6,1085.9 646.2,1085.9 646.8,1085.9 647.4,1085.9 648.0,1085.9 648.6,1085.9 649.2,1085.9 649.8,1085.9 650.4,1085.9 651.0,1085.9 651.6,1085.9 652.2,1085.9 652.8,1085.9 653.4,1085.9 654.0,1085.9 654.6,1085.9 655.2,1085.9 655.8,1085.9 656.4,1085.9 657.0,1085.9 657.6,1085.9 658.2,1085.9 658.8,1085.9 659.4,1085.9 660.0,1085.9 660.6,1085.9 661.2,1085.9 661.8,1085.9 662.4,1085.9 663.0,1085.9 663.6,1085.9 664.2,1085.9 664.8,1085.9 665.4,1085.9 666.0,1085.9 666.6,1085.9 667.2,1085.9 667.8,1085.9 668.4,1085.9 669.0,1085.9 669.6,1085.9 670.2,1085.9 670.8,1085.9 671.4,1085.9 672.0,1085.9 672.6,1085.9 673.2,1085.9 673.8,1085.9 674.4,1085.9 675.0,1085.9 675.6,1085.9 676.2,1085.9 676.8,1085.9 677.3,1085.9 677.9,1085.9 678.5,1085.9 679.1,1085.9 679.7,1085.9 680.3,1085.9 680.9,1085.9 681.5,1085.9 682.1,1085.9 682.7,1085.9 683.3,1085.9 683.9,1085.9 684.5,1085.9 685.1,1085.9 685.7,1085.9 686.3,1085.9 686.9,1085.9 687.5,1085.9 688.1,1085.9 688.7,1085.9 689.3,1085.9 689.9,1085.9 690.5,1085.9 691.1,1085.9 691.7,1085.9 692.3,1085.9 692.9,1085.9 693.5,1085.9 694.1,1085.9 694.7,1085.9 695.3,1085.9 695.9,1085.9 696.5,1085.9 697.1,1085.9 697.7,1085.9 698.3,1085.9 698.9,1085.9 699.5,1085.9 700.1,1085.9 700.7,1085.9 701.3,1085.9 701.9,1085.9 702.5,1085.9 703.1,1085.9 703.7,1085.9 704.3,1085.9 704.9,1085.9 705.5,1085.9 706.1,1085.9 706.7,1085.9 707.3,1085.9 707.9,1085.9 708.5,1085.9 709.1,1085.9 709.7,1085.9 710.3,1085.9 710.9,1085.9 711.5,1085.9 712.1,1085.9 712.7,1085.9 713.3,1085.9 713.9,1085.9 714.5,1085.9 715.1,1085.9 715.7,1085.9 716.3,1085.9 716.9,1085.9 717.5,1085.9 718.1,1085.9 718.7,1085.9 719.3,1085.9 719.9,1085.9 720.5,1085.9 721.1,1085.9 721.7,1085.9 722.3,1085.9 722.9,1085.9 723.5,1085.9 724.1,1085.9 724.7,1085.9 725.3,1085.9 725.9,1085.9 726.5,1085.9 727.1,1085.9 727.7,1085.9 728.3,1085.9 728.9,1085.9 729.5,1085.9 730.1,1085.9 730.7,1085.9 731.2,1085.4 731.7,1084.0 732.2,1081.9 732.7,1079.3 733.2,1076.4 733.8,1070.3 734.4,1060.9 735.0,1049.9 735.6,1039.4 736.2,1028.1 736.7,1016.6 737.3,1011.4 737.8,1011.6 738.3,1012.3 738.8,1013.3 739.3,1014.7 739.9,1019.9 740.4,1029.5 741.0,1039.4 741.5,1048.4 742.0,1058.4 742.5,1067.1 743.0,1072.3 743.5,1075.0 744.1,1077.1 744.6,1078.9 745.2,1080.2 745.8,1081.3 746.3,1082.0 746.8,1082.6 747.4,1083.1 747.9,1083.6 748.5,1084.1 749.0,1084.5 749.6,1084.8 750.1,1085.1 750.7,1085.3 751.2,1085.4 751.8,1085.5 752.4,1085.5 753.0,1085.5 753.6,1085.6 754.1,1085.6 754.7,1085.6 755.3,1085.6 755.9,1085.7 756.5,1085.7 757.1,1085.7 757.7,1085.7 758.3,1085.7 758.8,1085.8 759.4,1085.8 760.0,1085.8 760.6,1085.8 761.2,1085.8 761.8,1085.8 762.4,1085.8 763.0,1085.9 763.5,1085.9 764.1,1085.9 764.7,1085.9 765.3,1085.9 765.9,1085.9 766.5,1085.9 767.1,1085.9 767.7,1085.9 768.2,1085.9 768.8,1085.9 769.4,1086.0 770.0,1086.0 770.6,1086.0 771.2,1086.0 771.8,1086.0 772.4,1086.0 773.0,1086.0 773.5,1086.0 774.1,1086.0 774.7,1086.0 775.3,1086.0 775.9,1086.0 776.5,1086.0 777.1,1086.0 777.6,1086.0 778.2,1086.0 778.8,1086.0 779.4,1086.0 780.0,1086.0 780.6,1086.0 781.2,1086.0 781.8,1086.0 782.4,1086.0 783.0,1086.0 783.6,1086.0 784.2,1086.0 784.7,1086.0 785.3,1086.0 785.9,1086.0 786.5,1086.0 787.1,1085.9 787.7,1085.9 788.3,1085.9 788.9,1085.9 789.5,1085.9 790.1,1085.9 790.7,1085.9 791.3,1085.8 791.9,1085.8 792.5,1085.8 793.1,1085.8 793.6,1085.8 794.2,1085.8 794.8,1085.8 795.4,1085.8 796.0,1085.9 796.6,1085.9 797.2,1085.9 797.8,1085.8 798.4,1085.7 799.0,1085.7 799.6,1085.6 800.2,1085.5 800.8,1085.3 801.4,1085.2 802.0,1085.2 802.5,1085.3 803.1,1085.4 803.7,1085.5 804.3,1085.6 804.9,1085.6 805.5,1085.5 806.1,1085.4 806.7,1085.5 807.3,1085.5 807.8,1085.5 808.4,1085.4 809.0,1085.2 809.6,1085.2 810.1,1085.3 810.7,1085.4 811.3,1085.4 811.8,1085.2 812.4,1084.8 813.0,1084.4 813.6,1084.1 814.1,1083.9 814.7,1083.8 815.3,1083.7 815.9,1083.4 816.5,1083.0 817.1,1082.6 817.7,1082.3 818.3,1082.1 818.9,1082.0 819.5,1081.9 820.1,1081.8 820.7,1081.6 821.3,1081.3 821.9,1080.9 822.5,1080.5 823.1,1080.1 823.7,1079.8 824.3,1079.4 824.9,1079.0 825.5,1078.7 826.1,1078.6 826.7,1078.5 827.3,1078.5 827.9,1078.6 828.4,1078.9 829.0,1079.1 829.6,1079.4 830.2,1079.5 830.8,1079.7 831.4,1079.9 831.9,1080.2 832.5,1080.7 833.1,1081.2 833.7,1081.6 834.3,1082.1 834.8,1082.4 835.4,1082.6 836.0,1082.7 836.6,1082.7 837.2,1082.8 837.8,1083.0 838.4,1083.4 839.0,1083.8 839.6,1084.2 840.2,1084.6 840.8,1084.9 841.4,1085.2 841.9,1085.4 842.5,1085.5 843.1,1085.5 843.7,1085.5 844.3,1085.5 844.9,1085.4 845.5,1085.2 846.1,1085.1 846.7,1085.1 847.3,1085.2 847.9,1085.3 848.4,1085.5 849.0,1085.7 849.6,1086.0 850.2,1086.0 850.7,1085.9 851.3,1085.6 851.9,1085.3 852.5,1085.0 853.1,1085.0 853.6,1085.1 854.2,1085.4 854.8,1085.5 855.4,1085.4 856.0,1085.2 856.5,1085.0 857.1,1084.9 857.7,1084.9 858.3,1085.2 858.8,1085.5 859.4,1085.9 860.0,1086.2 860.6,1086.2 861.2,1086.0 861.8,1085.8 862.4,1085.6 862.9,1085.5 863.5,1085.4 864.1,1085.3 864.7,1085.2 865.3,1085.2 865.9,1085.3 866.5,1085.4 867.1,1085.5 867.6,1085.6 868.2,1085.6 868.8,1085.5 869.4,1085.6 870.0,1085.7 870.6,1085.6 871.2,1085.4 871.8,1085.2 872.4,1085.1 872.9,1085.0 873.5,1084.8 874.1,1084.6 874.7,1084.5 875.3,1084.6 875.9,1084.8 876.5,1084.9 877.1,1084.9 877.6,1084.8 878.2,1084.6 878.8,1084.5 879.4,1084.5 880.0,1084.5 880.6,1084.4 881.2,1084.4 881.8,1084.3 882.4,1084.0 883.0,1083.6 883.6,1083.2 884.2,1083.0 884.8,1083.0 885.4,1083.0 886.0,1083.1 886.6,1083.2 887.2,1083.1 887.8,1082.8 888.4,1082.5 888.9,1082.2 889.5,1081.8 890.1,1081.4 890.7,1080.9 891.3,1080.6 891.9,1080.4 892.5,1080.3 893.1,1080.2 893.7,1080.0 894.3,1079.7 894.9,1079.5 895.5,1079.5 896.1,1079.8 896.7,1080.1 897.3,1080.4 897.9,1080.3 898.5,1080.1 899.1,1079.9 899.6,1079.8 900.2,1079.9 900.8,1080.0 901.4,1080.2 902.0,1080.4 902.6,1080.7 903.2,1080.9 903.8,1081.1 904.3,1081.3 904.9,1081.6 905.5,1081.8 906.1,1082.0 906.7,1082.1 907.3,1082.3 907.9,1082.5 908.5,1082.7 909.1,1083.0 909.7,1083.3 910.3,1083.6 910.9,1084.0 911.5,1084.2 912.1,1084.2 912.7,1084.2 913.3,1084.3 913.9,1084.3 914.5,1084.2 915.0,1084.1 915.6,1084.0 916.2,1084.0 916.8,1084.1 917.4,1084.3 918.0,1084.4 918.5,1084.5 919.1,1084.5 919.7,1084.5 920.3,1084.5 920.9,1084.5 921.5,1084.4 922.0,1084.3 922.6,1084.4 923.2,1084.8 923.8,1085.1 924.4,1085.3 925.0,1085.4 925.5,1085.3 926.1,1085.2 926.7,1085.0 927.3,1084.8 927.9,1084.7 928.5,1084.8 929.1,1085.0 929.6,1085.1 930.2,1085.1 930.8,1085.1 931.4,1085.1 932.0,1085.1 932.6,1084.9 933.2,1084.7 933.8,1084.7 934.3,1084.9 934.9,1085.1 935.5,1085.2 936.1,1085.2 936.7,1085.3 937.3,1085.3 937.9,1085.4 938.5,1085.5 939.1,1085.7 939.6,1085.8 940.2,1086.0 940.8,1086.1 941.4,1086.1 942.0,1086.0 942.6,1085.9 943.2,1085.8 943.8,1085.7 944.3,1085.5 944.9,1085.4 945.5,1085.2 946.1,1085.0 946.7,1085.0 947.3,1085.0 947.9,1085.0 948.5,1084.6 949.1,1084.0 949.7,1083.4 950.3,1083.1 950.9,1083.0 951.5,1083.0 952.1,1083.0 952.7,1083.0 953.3,1082.9 953.9,1082.5 954.5,1082.2 955.1,1082.0 955.7,1081.9 956.3,1081.9 956.9,1081.9 957.5,1081.8 958.1,1081.5 958.7,1081.2 959.3,1081.1 959.9,1081.2 960.5,1081.3 961.1,1081.4 961.7,1081.3 962.3,1081.2 962.9,1081.3 963.5,1081.3 964.1,1081.2 964.7,1080.9 965.3,1080.5 965.9,1080.3 966.5,1080.2 967.1,1080.3 967.7,1080.6 968.2,1080.8 968.8,1080.9 969.4,1080.8 970.0,1080.6 970.6,1080.7 971.2,1081.0 971.8,1081.4 972.4,1081.6 972.9,1081.7 973.5,1081.7 974.1,1081.8 974.7,1081.8 975.3,1081.7 975.9,1081.7 976.5,1081.7 977.1,1081.8 977.6,1081.9 978.2,1082.1 978.8,1082.4 979.4,1082.9 980.0,1083.3 990.4,1084.5 990.8,1084.6 991.2,1084.4 991.6,1084.9 992.0,1085.5 992.4,1084.8 992.8,1084.4 993.2,1084.4 993.6,1084.9 994.0,1085.9 994.4,1084.9 994.8,1085.2 995.2,1084.7 995.6,1084.3 996.0,1084.5 996.4,1083.8 996.8,1084.1 997.2,1084.8 997.6,1085.2 998.0,1084.8 998.4,1084.4 998.8,1083.7 999.2,1084.1 999.6,1084.1 1000.0,1083.5 1000.4,1084.4 1000.8,1083.8 1001.2,1084.0 1001.6,1084.5 1002.0,1085.2 1002.4,1085.4 1002.8,1084.2 1003.2,1084.6 1003.6,1084.7 1004.0,1084.1 1004.4,1084.0 1004.8,1084.9 1005.2,1085.3 1005.5,1086.1 1005.9,1085.6 1006.3,1086.4 1006.7,1084.9 1007.1,1084.8 1007.5,1085.5 1007.9,1084.8 1008.3,1085.7 1008.7,1084.8 1009.1,1084.4 1009.5,1085.5 1009.9,1084.6 1010.3,1083.6 1010.7,1083.1 1011.1,1083.5 1011.5,1083.6 1011.9,1084.1 1012.3,1083.7 1012.7,1083.6 1013.1,1083.4 1013.5,1083.9 1013.9,1083.3 1014.3,1083.6 1014.7,1084.1 1015.1,1084.1 1015.5,1083.9 1015.9,1084.1 1016.3,1084.4 1016.6,1084.3 1017.0,1083.2 1017.4,1083.1 1017.8,1083.6 1018.2,1083.3 1018.6,1084.4 1019.0,1083.7 1019.4,1083.4 1019.8,1083.9 1020.2,1082.6 1020.6,1082.7 1021.0,1083.3 1021.4,1083.1 1021.8,1082.8 1022.2,1083.2 1022.6,1083.1 1023.0,1083.8 1023.4,1083.5 1023.8,1082.2 1024.2,1081.3 1024.6,1082.0 1025.0,1082.7 1025.4,1084.0 1025.8,1082.7 1026.2,1083.0 1026.6,1082.7 1027.0,1083.0 1027.4,1082.9 1027.7,1082.7 1028.1,1082.7 1028.5,1082.4 1028.9,1082.1 1029.3,1081.9 1029.7,1082.0 1030.1,1082.8 1030.5,1083.0 1030.9,1082.9 1031.3,1082.8 1031.7,1081.9 1032.1,1081.0 1032.5,1080.8 1032.9,1081.1 1033.3,1082.4 1033.7,1082.1 1034.1,1082.7 1034.5,1082.1 1034.9,1081.2 1035.3,1081.7 1035.7,1082.4 1036.1,1083.1 1036.5,1082.9 1036.8,1083.1 1037.2,1082.4 1037.6,1082.5 1038.0,1082.8 1038.4,1082.8 1038.8,1082.5 1039.2,1083.6 1039.6,1083.4 1040.0,1083.1 1040.4,1081.9 1040.8,1081.8 1041.2,1082.0 1041.6,1082.5 1042.0,1083.5 1042.4,1082.8 1042.8,1083.3 1043.2,1083.1 1043.6,1083.3 1044.0,1083.0 1044.4,1083.5 1044.8,1083.1 1045.2,1083.4 1045.6,1082.9 1046.0,1082.6 1046.4,1083.4 1046.8,1082.8 1047.2,1083.5 1047.6,1083.9 1048.0,1083.9 1048.4,1083.2 1048.8,1083.5 1049.2,1083.1 1049.6,1082.8 1050.0,1083.2 1050.4,1084.0 1050.8,1084.1 1051.2,1084.5 1051.6,1084.3 1052.0,1084.1 1052.4,1084.2 1052.8,1085.5 1053.2,1085.9 1053.6,1085.7 1054.0,1084.8 1054.4,1085.0 1054.8,1084.2 1055.2,1084.1 1055.6,1083.1 1056.0,1083.9 1056.4,1084.0 1056.8,1084.5 1057.2,1084.4 1057.6,1083.7 1058.0,1082.7 1058.4,1084.1 1058.8,1084.3 1059.2,1085.1 1059.6,1084.5 1060.0,1084.7 1060.4,1085.2 1060.8,1083.7 1061.2,1083.5 1061.6,1083.9 1062.0,1084.6 1062.4,1084.8 1062.8,1084.5 1063.2,1083.4 1063.6,1083.4 1064.0,1083.4 1064.4,1083.5 1064.8,1083.0 1065.2,1083.2 1065.6,1082.9 1066.0,1083.9 1066.4,1083.5 1066.8,1083.4 1067.2,1083.4 1067.6,1084.3 1068.0,1083.9 1068.4,1083.4 1068.8,1084.2 1069.2,1084.1 1069.6,1083.8 1070.0,1083.8 1070.4,1083.1 1070.8,1083.8 1071.2,1084.9 1071.6,1085.6 1072.0,1085.2 1072.4,1084.1 1072.8,1083.5 1073.2,1082.3 1073.6,1082.5 1074.0,1082.3 1074.4,1083.1 1074.8,1082.8 1075.2,1082.6 1075.6,1083.2 1076.0,1084.1 1076.4,1084.6 1076.8,1084.6 1077.2,1084.6 1077.6,1084.7 1078.0,1084.6 1078.4,1083.8 1078.8,1083.5 1079.2,1082.8 1079.6,1083.7 1080.0,1084.1 1080.4,1084.0 1080.8,1083.9 1081.2,1083.5 1081.6,1083.6 1082.0,1082.9 1082.4,1082.9 1082.8,1083.6 1083.2,1083.2 1083.6,1083.3 1084.0,1083.9 1084.4,1084.1 1084.8,1083.5 1085.2,1083.2 1085.6,1082.9 1086.0,1082.6 1086.4,1082.4 1086.8,1083.5 1087.2,1083.0 1087.6,1083.5 1088.0,1084.0 1088.4,1082.9 1088.8,1082.6 1089.2,1083.1 1089.6,1082.9 1090.0,1083.4 1090.4,1084.1 1090.8,1085.2 1091.2,1083.9 1091.6,1083.0 1092.0,1083.4 1092.4,1083.8 1092.8,1083.2 1093.2,1082.9 1093.6,1081.9 1094.0,1082.3 1094.4,1083.0 1094.8,1083.3 1095.2,1083.6 1095.6,1083.7 1096.0,1083.3 1096.4,1083.8 1096.8,1083.7 1097.2,1084.1 1097.6,1083.4 1098.0,1083.6 1098.4,1083.3 1098.8,1083.4 1099.2,1083.5 1099.6,1083.2 1100.0,1082.2 1100.4,1081.9 1100.8,1083.1 1101.2,1083.7 1101.6,1083.4 1102.0,1083.0 1102.4,1082.8 1102.8,1082.9 1103.2,1083.5 1103.6,1083.4 1104.0,1083.2 1104.4,1084.2 1104.8,1083.7 1105.2,1083.7 1105.6,1082.8 1106.0,1082.5 1106.4,1081.7 1106.8,1081.3 1107.2,1082.7 1107.6,1082.9 1108.0,1082.6 1108.4,1082.2 1108.8,1081.9 1109.2,1083.2 1109.6,1083.7 1110.0,1083.9 1110.4,1083.2 1110.8,1082.7 1111.2,1083.1 1111.6,1083.3 1112.0,1083.0 1112.4,1081.6 1112.8,1082.0 1113.2,1082.8 1113.6,1082.5 1114.0,1083.2 1114.4,1083.5 1114.8,1082.9 1115.2,1083.2 1115.6,1082.8 1116.0,1082.7 1116.4,1082.5 1116.8,1083.5 1117.2,1084.5 1117.6,1084.0 1118.0,1083.3 1118.4,1083.7 1118.8,1083.1 1119.2,1083.6 1119.6,1084.1 1120.0,1082.7 1120.4,1082.8 1120.8,1082.2 1121.2,1082.3 1121.6,1083.5 1122.0,1082.9 1122.4,1082.2 1122.8,1082.0 1123.2,1081.7 1123.6,1082.6 1124.0,1082.8 1124.4,1081.6 1124.8,1082.3 1125.2,1081.8 1125.6,1081.8 1126.0,1082.2 1126.4,1082.8 1126.8,1082.4 1127.2,1081.1 1127.6,1080.9 1128.0,1081.9 1128.4,1081.9 1128.8,1082.2 1129.2,1081.9 1129.6,1082.4 1130.0,1081.6 1130.4,1082.6 1130.8,1082.3 1131.2,1082.0 1131.6,1081.6 1132.0,1081.8 1132.4,1082.2 1132.8,1082.2 1133.2,1081.9 1133.6,1082.3 1134.0,1083.3 1134.4,1083.4 1134.8,1083.4 1135.2,1083.7 1135.6,1083.0 1136.0,1083.1 1136.4,1082.6 1136.8,1083.5 1137.2,1083.6 1137.6,1084.7 1138.0,1084.6 1138.4,1084.5 1138.8,1083.7 1139.2,1083.8 1139.6,1083.0 1140.0,1083.1 1140.4,1084.0 1140.8,1083.7 1141.2,1084.1 1141.6,1083.4 1142.0,1083.1 1142.3,1083.2 1142.7,1084.4 1143.1,1085.0 1143.5,1083.7 1143.9,1082.3 1144.3,1082.9 1144.7,1083.1 1145.1,1084.1 1145.5,1084.2 1145.9,1083.9 1146.3,1083.9 1146.7,1083.3 1147.0,1081.9 1147.4,1081.3 1147.8,1082.3 1148.2,1082.0 1148.6,1082.1 1149.0,1082.6 1149.4,1081.5 1149.8,1080.8 1150.2,1081.3 1150.6,1082.2 1151.0,1082.0 1151.3,1082.0 1151.7,1081.2 1152.1,1081.4 1152.5,1080.9 1152.9,1080.3 1153.3,1080.2 1153.7,1080.0 1154.1,1080.6 1154.5,1081.7 1154.9,1082.6 1155.3,1081.6 1155.7,1081.7 1156.1,1081.2 1156.5,1081.8 1156.9,1081.9 1157.3,1081.0 1157.7,1081.2 1158.1,1081.2 1158.5,1081.3 1158.9,1082.0 1159.3,1081.7 1159.7,1081.2 1160.1,1080.7 1160.5,1082.0 1160.9,1082.6 1161.3,1082.7 1161.7,1082.7 1162.1,1082.9 1162.5,1083.4 1162.9,1082.8 1163.3,1083.1 1163.7,1082.8 1164.1,1083.0 1164.5,1083.6 1164.9,1083.5 1165.3,1083.3 1165.7,1082.5 1166.1,1082.4 1166.5,1082.8 1166.9,1083.2 1167.3,1084.2 1167.7,1083.6 1168.1,1083.8 1168.5,1083.0 1168.9,1082.4 1169.3,1083.2 1169.7,1082.1 1170.1,1082.8 1170.5,1084.4 1170.9,1084.9 1171.3,1085.1 1171.7,1085.0 1172.1,1083.2 1172.5,1081.9 1172.9,1082.5 1173.3,1083.7 1173.7,1084.6 1174.1,1084.3 1174.5,1084.2 1174.9,1084.4 1175.3,1084.1 1175.7,1084.2 1176.1,1082.9 1176.5,1082.8 1176.9,1083.7 1177.3,1083.1 1177.7,1082.4 1178.1,1083.8 1178.5,1084.9 1178.9,1084.6 1179.3,1083.6 1179.7,1084.0 1180.1,1083.9 1180.5,1083.7 1180.9,1082.9 1181.3,1082.8 1181.7,1082.3 1182.1,1081.6 1182.5,1082.3 1182.9,1082.8 1183.3,1082.7 1183.7,1083.2 1184.1,1081.5 1184.5,1081.3 1184.9,1081.3 1185.3,1081.5 1185.7,1082.2 1186.1,1081.3 1186.5,1081.9 1186.9,1081.4 1187.3,1081.7 1187.7,1082.0 1188.1,1083.1 1188.5,1082.6 1188.9,1082.8 1189.3,1082.7 1189.7,1082.5 1190.1,1082.2 1190.5,1081.9 1190.9,1082.7 1191.3,1082.2 1191.7,1081.2 1192.1,1081.4 1192.5,1082.1 1192.8,1082.2 1193.2,1080.9 1193.6,1081.7 1194.0,1081.3 1194.4,1081.1 1194.8,1081.0 1195.2,1081.4 1195.6,1081.5 1196.0,1082.3 1196.4,1082.2 1196.8,1081.5 1197.2,1080.9 1197.6,1081.2 1198.0,1081.8 1198.4,1081.6 1198.8,1080.9 1199.2,1080.7 1199.5,1080.7 1199.9,1080.2 1200.3,1080.2 1200.7,1080.9 1201.1,1080.9 1201.5,1080.9 1201.9,1081.0 1202.3,1080.9 1202.7,1079.9 1203.1,1079.6 1203.5,1081.2 1203.9,1081.4 1204.3,1081.7 1204.7,1081.1 1205.1,1080.4 1205.4,1081.2 1205.8,1081.5 1206.2,1081.6 1206.6,1082.8 1207.0,1083.6 1207.4,1082.8 1207.8,1083.1 1208.2,1083.4 1208.6,1083.2 1209.0,1083.8 1209.4,1083.8 1209.8,1083.5 1210.2,1083.2 1210.6,1083.2 1210.9,1082.8 1211.3,1083.7 1211.7,1084.1 1212.1,1084.8 1212.5,1084.6 1212.9,1084.2 1213.3,1085.1 1213.7,1084.5 1214.1,1084.0 1214.5,1084.2 1214.9,1084.6 1215.3,1085.7 1215.7,1085.5 1216.1,1085.5 1216.5,1085.8 1216.8,1085.4 1217.2,1084.9 1217.6,1084.9 1218.0,1084.7 1218.4,1084.5 1218.8,1084.3 1219.2,1084.1 1219.6,1083.8 1220.0,1084.3 1220.4,1084.2 1220.8,1084.7 1221.2,1085.4 1221.6,1084.9 1222.0,1084.1 1222.4,1084.2 1222.8,1084.9 1223.2,1084.9 1223.6,1084.9 1224.0,1083.8 1224.4,1083.7 1224.8,1084.4 1225.2,1085.1 1225.6,1084.8 1226.0,1085.0 1226.4,1085.4 1226.8,1084.9 1227.2,1083.8 1227.6,1083.3 1228.0,1083.7 1228.4,1084.2 1228.8,1084.6 1229.2,1085.7 1229.6,1085.9 1230.0,1084.8 1230.4,1085.1 1230.8,1083.6 1231.2,1084.6 1231.6,1084.6 1232.0,1085.0 1232.4,1084.4 1232.8,1084.5 1233.2,1086.3 1233.6,1086.2 1234.0,1086.5 1234.4,1085.9 1234.8,1084.5 1235.2,1083.7 1235.6,1083.8 1236.0,1083.8 1236.4,1084.7 1236.8,1085.6 1237.2,1084.6 1237.6,1083.7 1238.0,1083.5 1238.4,1084.3 1238.8,1083.9 1239.2,1084.0 1239.6,1083.4 1240.0,1084.6 1240.4,1085.0 1240.8,1084.1 1241.2,1084.4 1241.6,1085.8 1242.0,1086.1 1242.3,1086.2 1242.7,1085.7 1243.1,1085.3 1243.5,1085.2 1243.9,1083.8 1244.3,1083.7 1244.7,1084.1 1245.1,1084.2 1245.5,1084.0 1245.9,1083.2 1246.3,1083.4 1246.7,1083.2 1247.0,1084.1 1247.4,1083.5 1247.8,1082.9 1248.2,1083.1 1248.6,1084.1 1249.0,1084.1 1249.4,1083.3 1249.8,1083.5 1250.2,1083.4 1250.6,1083.0 1251.0,1082.8 1251.3,1082.5 1251.7,1083.1 1252.1,1083.0 1252.5,1082.4 1252.9,1082.3 1253.3,1082.0 1253.7,1081.4 1254.1,1082.6 1254.5,1082.6 1254.9,1082.7 1255.3,1082.2 1255.7,1081.9 1256.1,1081.4 1256.5,1082.5 1256.9,1081.9 1257.3,1081.6 1257.7,1081.4 1258.0,1081.7 1258.4,1081.8 1258.8,1082.5 1259.2,1082.2 1259.6,1081.2 1260.0,1081.4 1260.4,1081.0 1260.8,1080.1 1261.2,1079.7 1261.6,1080.4 1262.0,1080.1 1262.4,1079.5 1262.8,1079.3 1263.2,1079.0 1263.6,1079.8 1264.0,1081.0 1264.4,1081.6 1264.8,1081.5 1265.2,1081.4 1265.6,1081.0 1266.0,1081.2 1266.3,1080.0 1266.7,1080.2 1267.1,1078.8 1267.5,1078.9 1267.9,1079.8 1268.3,1080.6 1268.7,1080.8 1269.1,1079.9 1269.5,1079.0 1269.9,1079.4 1270.3,1080.3 1270.7,1080.6 1271.1,1080.4 1271.5,1080.4 1271.9,1080.4 1272.3,1080.0 1272.6,1081.1 1273.0,1081.4 1273.4,1082.5 1273.8,1081.6 1274.2,1081.1 1274.6,1081.1 1275.0,1081.4 1275.4,1082.5 1275.7,1082.1 1276.1,1082.7 1276.5,1083.0 1276.9,1082.9 1277.3,1083.0 1277.7,1082.6 1278.1,1081.9 1278.5,1082.7 1278.9,1082.7 1279.3,1083.0 1279.7,1082.4 1280.1,1083.0 1280.5,1082.1 1280.9,1081.8 1281.3,1082.4 1281.7,1082.7 1282.1,1083.4 1282.5,1083.5 1282.9,1082.3 1283.3,1082.2 1283.7,1082.7 1284.1,1082.8 1284.5,1082.5 1284.8,1083.9 1285.2,1084.3 1285.6,1084.3 1286.0,1084.4 1286.4,1084.6 1286.8,1083.7 1287.2,1084.3 1287.6,1083.2 1288.0,1083.7 1288.4,1084.0 1288.8,1084.2 1289.2,1084.6 1289.6,1084.0 1290.0,1083.1 1290.4,1083.7 1290.8,1083.4 1291.2,1084.1 1291.6,1084.1 1292.0,1084.6 1292.4,1084.6 1292.8,1084.4 1293.2,1085.3 1293.6,1084.5 1294.0,1083.1 1294.4,1083.7 1294.8,1083.8 1295.2,1083.0 1295.6,1083.9 1296.0,1084.8 1296.4,1085.0 1296.8,1084.3 1297.2,1084.4 1297.6,1084.8 1298.0,1085.2 1298.4,1084.2 1298.8,1084.3 1299.2,1084.2 1299.5,1084.2 1299.9,1085.8 1300.3,1085.3 1300.7,1084.4 1301.1,1084.6 1301.5,1084.5 1301.9,1084.0 1302.3,1084.2 1302.7,1084.8 1303.1,1084.5 1303.5,1084.4 1303.9,1084.8 1304.3,1084.6 1304.7,1084.4 1305.1,1085.1 1305.5,1084.8 1305.9,1084.9 1306.3,1085.5 1306.7,1084.8 1307.1,1085.4 1307.5,1084.8 1307.9,1085.0 1308.3,1083.7 1308.7,1083.8 1309.0,1084.4 1309.4,1084.6 1309.8,1084.4 1310.2,1084.1 1310.6,1084.4 1311.0,1084.1 1311.4,1084.2 1311.8,1084.1 1312.2,1084.5 1312.6,1084.7 1313.0,1083.9 1313.3,1083.5 1313.7,1084.0 1314.1,1082.7 1314.5,1084.4 1314.9,1085.1 1315.3,1085.7 1315.7,1084.7 1316.1,1084.2 1316.5,1084.4 1316.9,1084.1 1317.3,1084.5 1317.7,1083.2 1318.0,1083.3 1318.4,1083.5 1318.8,1083.2 1319.2,1082.5 1319.6,1083.5 1320.0,1083.8 1320.4,1084.1 1320.8,1083.9 1321.2,1083.5 1321.6,1083.8 1322.0,1083.5 1322.4,1083.6 1322.8,1083.1 1323.2,1083.1 1323.6,1083.3 1324.0,1083.0 1324.4,1082.9 1324.8,1082.8 1325.2,1083.2 1325.5,1083.2 1325.9,1083.4 1326.3,1082.8 1326.7,1083.2 1327.1,1084.3 1327.5,1084.7 1327.9,1084.7 1328.3,1084.7 1328.7,1084.3 1329.1,1083.0 1329.5,1083.2 1329.9,1083.3 1330.3,1083.8 1330.7,1084.0 1331.1,1083.8 1331.5,1083.1 1331.9,1083.6 1332.3,1083.7 1332.7,1084.0 1333.1,1083.6 1333.5,1083.8 1333.9,1083.1 1334.3,1084.0 1334.7,1083.9 1335.1,1084.0 1335.5,1082.6 1335.9,1082.9 1336.3,1082.4 1336.7,1083.1 1337.0,1083.7 1337.4,1082.9 1337.8,1082.1 1338.2,1082.0 1338.6,1083.1 1339.0,1083.9 1339.4,1084.2 1339.8,1084.0 1340.2,1084.2 1340.6,1083.7 1341.0,1083.9 1341.4,1083.8 1341.8,1083.7 1342.2,1084.3 1342.6,1084.3 1343.0,1083.5 1343.4,1084.0 1343.8,1084.0 1344.2,1083.8 1344.6,1082.5 1345.0,1082.8 1345.4,1082.7 1345.8,1083.3 1346.2,1082.9 1346.6,1082.7 1347.0,1082.7 1347.4,1082.5 1347.8,1083.9 1348.1,1084.4 1348.5,1083.9 1348.9,1084.0 1349.3,1083.7 1349.7,1082.9 1350.1,1083.2 1350.5,1082.9 1350.9,1083.2 1351.3,1083.1 1351.7,1083.6 1352.1,1083.8 1352.5,1084.3 1352.9,1084.1 1353.3,1083.4 1353.7,1083.1 1354.1,1083.2 1354.5,1083.9 1354.9,1084.8 1355.3,1085.6 1355.7,1084.4 1356.1,1083.6 1356.5,1083.8 1356.9,1084.1 1357.3,1084.1 1357.7,1083.3 1358.1,1082.2 1358.5,1083.3 1358.8,1082.2 1359.2,1082.1 1359.6,1082.2 1360.0,1082.1 1360.4,1082.4 1360.8,1082.8 1361.2,1083.2 1361.6,1082.3 1362.0,1082.7 1362.4,1082.2 1362.8,1081.4 1363.2,1081.5 1363.6,1082.7 1364.0,1082.3 1364.4,1081.7 1364.8,1081.4 1365.2,1081.9 1365.6,1081.8 1366.0,1081.6 1366.4,1081.8 1366.8,1081.2 1367.2,1080.7 1367.6,1081.2 1368.0,1081.7 1368.4,1080.8 1368.8,1081.0 1369.2,1080.7 1369.6,1079.4 1370.0,1079.3 1370.4,1080.0 1370.8,1080.9 1371.2,1081.1 1371.6,1080.5 1372.0,1080.8 1372.4,1080.2 1372.8,1080.3 1373.2,1080.5 1373.6,1080.1 1374.0,1080.7 1374.4,1080.5 1374.8,1079.9 1375.2,1080.4 1375.6,1080.8 1376.0,1080.0 1376.4,1080.1 1376.8,1080.2 1377.2,1081.7 1377.6,1081.1 1378.0,1080.2 1378.4,1080.3 1378.8,1080.0 1379.2,1080.9 1379.6,1080.4 1380.0,1080.9 1380.4,1080.6 1380.8,1081.1 1381.2,1080.9 1381.5,1082.3 1381.9,1082.4 1382.3,1082.5 1382.7,1082.2 1383.1,1081.9 1383.5,1081.9 1383.9,1081.6 1384.3,1081.6 1384.7,1082.1 1385.1,1082.3 1385.5,1082.6 1385.9,1082.5 1386.3,1083.0 1386.7,1082.3 1387.1,1082.8 1387.5,1082.0 1387.9,1082.5 1388.3,1083.1 1388.7,1083.3 1389.0,1083.3 1389.4,1082.5 1389.8,1083.8 1390.2,1084.5 1390.6,1084.6 1391.0,1085.0 1391.4,1084.3 1391.8,1083.7 1392.2,1083.5 1392.6,1083.3 1393.0,1083.0 1393.3,1082.7 1393.7,1083.0 1394.1,1084.5 1394.5,1084.7 1394.9,1084.8 1395.3,1084.9 1395.7,1084.0 1396.1,1084.9 1396.5,1084.2 1396.9,1083.5 1397.3,1084.4 1397.7,1085.1 1398.0,1085.7 1398.4,1084.8 1398.8,1084.2 1399.2,1083.1 1399.6,1083.8 1400.0,1084.6 1400.4,1084.6 1400.8,1085.0 1401.2,1083.9 1401.6,1084.4 1402.0,1085.0 1402.3,1084.7 1402.7,1083.7 1403.1,1084.3 1403.5,1084.6 1403.9,1084.5 1404.3,1085.1 1404.7,1084.9 1405.1,1084.8 1405.5,1084.3 1405.9,1083.3 1406.3,1083.4 1406.7,1084.0 1407.0,1084.4 1407.4,1084.2 1407.8,1083.8 1408.2,1083.6 1408.6,1083.9 1409.0,1083.9 1409.4,1083.0 1409.8,1083.3 1410.2,1083.1 1410.6,1083.3 1411.0,1083.3 1411.3,1083.0 1411.7,1082.7 1412.1,1081.7 1412.5,1081.7 1412.9,1082.7 1413.3,1083.1 1413.7,1082.8 1414.1,1083.7 1414.5,1083.5 1414.9,1083.2 1415.3,1083.3 1415.7,1083.4 1416.1,1082.8 1416.5,1082.8 1416.8,1082.5 1417.2,1082.0 1417.6,1082.2 1418.0,1082.1 1418.4,1081.5 1418.8,1080.0 1419.2,1080.6 1419.6,1081.3 1420.0,1081.7 1420.4,1081.5 1420.8,1081.9 1421.2,1081.7 1421.5,1082.1 1421.9,1082.7 1422.3,1082.8 1422.7,1083.2 1423.1,1082.8 1423.5,1082.2 1423.8,1081.9 1424.2,1081.8 1424.6,1081.3 1425.0,1081.9 1425.4,1082.6 1425.8,1083.3 1426.1,1082.3 1426.5,1081.6 1426.9,1080.9 1427.3,1082.3"/>
<polyline stroke="#2ca02c" points="263.8,1086.2 264.2,1086.2 264.6,1086.1 264.9,1085.9 265.3,1085.6 265.7,1085.4 266.1,1085.0 266.5,1084.6 266.8,1084.1 267.2,1083.6 267.6,1083.1 268.0,1082.5 268.4,1081.9 268.7,1081.2 269.1,1080.5 269.5,1079.8 269.9,1078.8 270.3,1077.2 270.7,1075.3 271.1,1073.1 271.5,1070.7 271.9,1068.2 272.3,1065.7 272.7,1063.2 273.1,1060.9 273.5,1058.9 273.9,1056.9 274.3,1054.6 274.7,1052.4 275.1,1050.2 275.5,1048.2 275.9,1046.6 276.3,1045.6 276.7,1045.2 277.0,1045.4 277.4,1045.9 277.7,1046.6 278.1,1047.6 278.4,1048.6 278.8,1049.7 279.1,1050.8 279.5,1052.2 279.9,1054.0 280.3,1056.0 280.7,1058.1 281.1,1060.4 281.5,1062.7 281.9,1064.9 282.3,1066.9 282.7,1068.6 283.1,1070.1 283.5,1071.3 283.9,1072.5 284.2,1073.6 284.6,1074.7 285.0,1075.8 285.4,1076.8 285.8,1077.8 286.1,1078.7 286.5,1079.6 286.9,1080.3 287.3,1081.0 287.7,1081.7 288.0,1082.2 288.4,1082.7 288.8,1083.0 289.2,1083.3 289.6,1083.6 290.0,1083.9 290.4,1084.1 290.8,1084.4 291.2,1084.6 291.6,1084.9 292.0,1085.1 292.4,1085.2 292.8,1085.4 293.2,1085.6 293.6,1085.7 294.0,1085.8 294.4,1085.8 294.8,1085.9 295.2,1085.9 295.6,1085.9 296.0,1085.9 296.4,1085.9 296.8,1085.9 297.2,1085.9 297.6,1085.9 298.0,1085.9 298.4,1085.9 298.8,1085.9 299.2,1085.9 299.6,1085.9 300.0,1085.9 300.4,1085.9 300.8,1085.9 301.2,1085.9 301.6,1085.9 302.0,1085.9 302.4,1085.9 302.8,1085.9 303.2,1085.9 303.6,1085.9 304.0,1085.9 304.4,1085.9 304.8,1085.9 305.2,1085.9 305.6,1085.9 306.0,1085.9 306.4,1085.9 306.8,1085.9 307.2,1085.9 307.6,1085.9 308.0,1085.9 308.4,1085.9 308.8,1085.9 309.2,1085.9 309.6,1085.9 310.0,1085.9 310.4,1085.9 310.8,1085.9 311.2,1085.9 311.6,1085.9 312.0,1085.9 312.4,1085.9 312.8,1085.9 313.2,1085.9 313.6,1085.9 314.0,1085.9 314.4,1085.9 314.8,1085.9 315.2,1085.9 315.6,1085.9 316.0,1085.9 316.4,1085.9 316.8,1085.9 317.2,1085.9 317.6,1085.9 318.0,1085.9 318.4,1085.9 318.8,1085.9 319.2,1085.9 319.6,1085.9 320.0,1085.9 320.4,1085.9 320.8,1085.9 321.2,1085.9 321.6,1085.9 322.0,1085.9 322.4,1085.9 322.8,1085.9 323.2,1085.9 323.6,1085.9 324.0,1085.9 324.4,1085.9 324.8,1085.9 325.2,1085.9 325.6,1085.9 326.0,1085.9 326.4,1085.9 326.8,1085.9 327.2,1085.9 327.6,1085.9 328.0,1085.9 328.4,1085.9 328.8,1085.9 329.2,1085.9 329.6,1085.9 330.0,1085.9 330.4,1085.9 330.8,1085.9 331.2,1085.9 331.6,1085.9 332.0,1085.9 332.4,1085.9 332.8,1085.9 333.2,1085.9 333.6,1085.9 334.0,1085.9 334.4,1085.9 334.8,1085.9 335.2,1085.9 335.6,1085.9 336.0,1085.9 336.4,1085.9 336.8,1085.9 337.2,1085.9 337.6,1085.9 338.0,1085.9 338.4,1085.9 338.8,1085.9 339.2,1085.9 339.6,1085.9 340.0,1085.9 340.4,1085.9 340.8,1085.9 341.2,1085.9 341.6,1085.9 342.0,1085.9 342.4,1085.9 342.8,1085.9 343.2,1085.9 343.6,1085.9 344.0,1085.9 344.4,1085.9 344.8,1085.9 345.2,1085.9 345.6,1085.9 345.9,1085.9 346.3,1085.9 346.7,1085.9 347.1,1085.9 347.5,1085.9 347.9,1085.9 348.3,1085.9 348.7,1085.9 349.1,1085.9 349.5,1085.9 349.9,1085.9 350.3,1085.9 350.7,1085.9 351.1,1085.9 351.5,1085.9 351.9,1085.9 352.3,1085.9 352.7,1085.9 353.1,1085.9 353.5,1085.9 353.9,1085.9 354.3,1085.9 354.7,1085.9 355.1,1085.9 355.5,1085.9 355.9,1085.9 356.3,1085.9 356.7,1085.9 357.1,1085.9 357.5,1085.9 357.9,1085.9 358.3,1085.9 358.7,1085.9 359.1,1085.9 359.5,1085.9 359.9,1085.9 360.3,1085.9 360.7,1085.9 361.1,1085.9 361.5,1085.9 361.9,1085.9 362.3,1085.9 362.7,1085.9 363.1,1085.9 363.5,1085.9 363.9,1085.9 364.3,1085.9 364.7,1085.9 365.1,1085.9 365.5,1085.9 365.9,1085.9 366.3,1085.9 366.7,1085.9 367.1,1085.9 367.5,1085.9 367.9,1085.9 368.3,1085.9 368.7,1085.9 369.1,1085.9 369.5,1085.9 369.9,1085.9 370.3,1085.9 370.7,1085.9 371.1,1085.9 371.5,1085.9 371.9,1085.9 372.3,1085.9 372.7,1085.9 373.1,1085.9 373.5,1085.9 373.9,1085.9 374.3,1085.9 374.7,1085.9 375.1,1085.9 375.5,1085.9 375.9,1085.9 376.3,1085.9 376.7,1085.9 377.1,1085.9 377.5,1085.9 377.9,1085.9 378.3,1085.9 378.7,1085.9 379.1,1085.9 379.5,1085.9 379.9,1085.9 380.3,1085.9 380.7,1085.9 381.1,1085.9 381.5,1085.9 381.9,1085.9 382.3,1085.9 382.7,1085.9 383.1,1085.9 383.5,1085.9 383.9,1085.9 384.3,1085.9 384.7,1085.9 385.1,1085.9 385.5,1085.9 385.9,1085.9 386.3,1085.9 386.7,1085.9 387.1,1085.9 387.5,1085.9 387.9,1085.9 388.3,1085.9 388.7,1085.9 389.1,1085.9 389.5,1085.9 389.9,1085.9 390.3,1085.9 390.7,1085.9 391.1,1085.9 391.5,1085.9 391.9,1085.9 392.3,1085.9 392.7,1085.9 393.1,1085.9 393.5,1085.9 393.9,1085.9 394.3,1085.9 394.7,1085.9 395.1,1085.9 395.5,1085.9 395.9,1085.9 396.3,1085.9 396.7,1085.9 397.1,1085.9 397.5,1085.9 397.9,1085.9 398.3,1085.9 398.7,1085.9 399.1,1085.9 399.5,1085.9 399.9,1085.9 400.3,1085.9 400.7,1085.9 401.1,1085.9 401.5,1085.9 401.9,1085.9 402.3,1085.9 402.7,1085.9 403.1,1085.9 403.5,1085.9 403.9,1085.9 404.3,1085.9 404.7,1085.9 405.1,1085.9 405.5,1085.9 405.9,1085.9 406.3,1085.9 406.7,1085.9 407.1,1085.9 407.5,1085.9 407.9,1085.9 408.3,1085.9 408.7,1085.9 409.1,1085.9 409.5,1085.9 409.9,1085.9 410.3,1085.9 410.7,1085.9 411.1,1085.9 411.5,1085.9 411.9,1085.9 412.3,1085.9 412.7,1085.9 413.1,1085.9 413.5,1085.9 413.9,1085.9 414.3,1085.9 414.7,1085.9 415.1,1085.9 415.5,1085.9 415.9,1085.9 416.3,1085.9 416.7,1085.9 417.1,1085.9 417.5,1085.9 417.9,1085.9 418.3,1085.9 418.7,1085.9 419.1,1085.9 419.5,1085.9 419.9,1085.9 420.3,1085.9 420.7,1085.9 421.1,1085.9 421.5,1085.9 421.9,1085.9 422.3,1085.9 422.7,1085.9 423.1,1085.9 423.5,1085.9 423.9,1085.9 424.3,1085.9 424.7,1085.9 425.1,1085.9 425.5,1085.9 425.9,1085.9 426.3,1085.9 426.7,1085.9 427.1,1085.9 427.5,1085.9 427.9,1085.9 428.3,1085.9 428.7,1085.9 429.1,1085.9 429.5,1085.9 429.9,1085.9 430.3,1085.9 430.7,1085.9 431.1,1085.9 431.5,1085.9 431.9,1085.9 432.3,1085.9 432.7,1085.9 433.1,1085.9 433.5,1085.9 433.9,1085.9 434.3,1085.9 434.7,1085.9 435.1,1085.9 435.5,1085.9 435.9,1085.9 436.3,1085.9 436.7,1085.9 437.1,1085.9 437.5,1085.9 437.9,1085.9 438.3,1085.9 438.7,1085.9 439.1,1085.9 439.5,1085.9 439.9,1085.9 440.3,1085.9 440.7,1085.9 441.1,1085.9 441.5,1085.9 441.9,1085.9 442.3,1085.9 442.7,1085.9 443.1,1085.9 443.5,1085.9 443.9,1085.9 444.3,1085.9 444.7,1085.9 445.1,1085.9 445.5,1085.9 445.9,1085.9 446.3,1085.9 446.7,1085.9 447.1,1085.9 447.4,1085.9 447.8,1085.9 448.2,1085.9 448.6,1085.9 449.0,1085.9 449.4,1085.9 449.8,1085.9 450.2,1085.9 450.6,1085.9 451.0,1085.9 451.4,1085.9 451.8,1085.9 452.2,1085.9 452.6,1085.9 453.0,1085.9 453.4,1085.9 453.8,1085.9 454.2,1085.9 454.6,1085.9 455.0,1085.9 455.4,1085.9 455.8,1085.9 456.2,1085.9 456.6,1085.9 457.0,1085.9 457.4,1085.9 457.8,1085.9 458.2,1085.9 458.6,1085.9 459.0,1085.9 459.4,1085.9 459.8,1085.9 460.2,1085.9 460.6,1085.9 461.0,1085.9 461.4,1085.9 461.8,1085.9 462.2,1085.9 462.6,1085.9 463.0,1085.9 463.4,1085.9 463.8,1085.9 464.2,1085.9 464.6,1085.9 465.0,1085.9 465.4,1085.9 465.8,1085.9 466.2,1085.9 466.6,1085.9 467.0,1085.9 467.4,1085.9 467.8,1085.9 468.2,1085.9 468.6,1085.9 469.0,1085.9 469.4,1085.9 469.8,1085.9 470.2,1085.9 470.6,1085.9 471.0,1085.9 471.4,1085.9 471.8,1085.9 472.2,1085.9 472.6,1085.9 473.0,1085.9 473.4,1085.9 473.8,1085.9 474.2,1085.9 474.6,1085.9 475.0,1085.9 475.4,1085.9 475.8,1085.9 476.2,1085.9 476.6,1085.9 477.0,1085.9 477.4,1085.9 477.8,1085.9 478.2,1085.9 478.6,1085.9 479.0,1085.9 479.4,1085.9 479.8,1085.9 480.2,1085.9 480.6,1085.9 481.0,1085.9 481.4,1085.9 481.8,1085.9 482.2,1085.9 482.6,1085.9 483.0,1085.9 483.4,1085.9 483.8,1085.9 484.2,1085.9 484.6,1085.9 485.0,1085.9 485.4,1085.9 485.8,1085.9 486.2,1085.9 486.6,1085.9 487.0,1085.9 487.4,1085.9 487.8,1085.9 488.2,1085.9 488.6,1085.9 489.0,1085.9 489.4,1085.9 489.8,1085.9 490.2,1085.9 490.6,1085.9 491.0,1085.9 491.4,1085.9 491.8,1085.9 492.2,1085.9 492.6,1085.9 493.0,1085.9 493.4,1085.9 493.8,1085.9 494.2,1085.9 494.6,1085.9 495.0,1085.9 495.4,1085.9 495.8,1085.9 496.2,1085.9 496.6,1085.9 497.0,1085.9 497.4,1085.9 497.8,1085.9 498.2,1085.9 498.6,1085.8 498.9,1085.6 499.3,1085.3 499.7,1084.9 500.0,1084.4 500.4,1083.7 500.8,1083.0 501.1,1082.3 501.5,1081.4 501.9,1080.0 502.2,1077.8 502.6,1074.8 503.0,1071.2 503.3,1067.1 503.7,1062.5 504.1,1057.7 504.4,1052.7 504.8,1047.6 505.1,1041.4 505.5,1033.4 505.8,1025.1 506.2,1018.3 506.5,1014.7 506.8,1013.4 507.1,1012.2 507.5,1011.4 507.8,1010.8 508.1,1010.6 508.4,1010.8 508.8,1011.4 509.1,1012.3 509.5,1013.4 509.8,1014.7 510.1,1017.1 510.5,1021.1 510.8,1026.3 511.2,1032.0 511.5,1037.9 511.9,1043.2 512.2,1047.6 512.6,1051.6 512.9,1055.7 513.3,1059.7 513.7,1063.5 514.0,1067.0 514.4,1070.2 514.8,1072.9 515.1,1075.0 515.5,1076.4 515.9,1077.4 516.2,1078.3 516.6,1079.2 517.0,1079.9 517.4,1080.6 517.7,1081.2 518.1,1081.7 518.5,1082.2 518.9,1082.5 519.2,1082.8 519.6,1083.0 520.0,1083.2 520.4,1083.3 520.8,1083.5 521.1,1083.6 521.5,1083.8 521.9,1083.9 522.3,1084.0 522.7,1084.2 523.1,1084.3 523.5,1084.4 523.9,1084.5 524.2,1084.6 524.6,1084.7 525.0,1084.8 525.4,1084.9 525.8,1084.9 526.2,1085.0 526.6,1085.1 526.9,1085.2 527.3,1085.2 527.7,1085.3 528.1,1085.3 528.5,1085.4 528.9,1085.4 529.3,1085.4 529.7,1085.4 530.0,1085.5 530.4,1085.5 530.8,1085.5 531.2,1085.5 531.6,1085.5 532.0,1085.5 532.4,1085.5 532.8,1085.5 533.2,1085.5 533.6,1085.5 534.0,1085.5 534.4,1085.5 534.8,1085.5 535.2,1085.5 535.6,1085.5 536.0,1085.5 536.4,1085.5 536.8,1085.5 537.2,1085.5 537.6,1085.5 538.0,1085.5 538.4,1085.5 538.8,1085.5 539.2,1085.5 539.6,1085.5 540.0,1085.5 540.4,1085.5 540.8,1085.6 541.2,1085.6 541.6,1085.6 542.0,1085.6 542.4,1085.6 542.8,1085.6 543.2,1085.6 543.6,1085.6 544.0,1085.6 544.4,1085.6 544.8,1085.6 545.2,1085.6 545.6,1085.6 546.0,1085.6 546.4,1085.6 546.8,1085.6 547.2,1085.6 547.6,1085.6 548.0,1085.6 548.4,1085.6 548.8,1085.6 549.2,1085.6 549.6,1085.6 550.0,1085.6 550.4,1085.6 550.8,1085.6 551.2,1085.6 551.6,1085.6 552.0,1085.6 552.4,1085.6 552.8,1085.6 553.2,1085.6 553.6,1085.6 554.0,1085.6 554.4,1085.6 554.8,1085.6 555.2,1085.6 555.6,1085.6 556.0,1085.6 556.4,1085.6 556.8,1085.6 557.2,1085.6 557.6,1085.6 558.0,1085.6 558.4,1085.6 558.8,1085.6 559.2,1085.6 559.6,1085.6 560.0,1085.6 560.4,1085.6 560.8,1085.6 561.2,1085.6 561.6,1085.6 562.0,1085.6 562.4,1085.7 562.8,1085.7 563.2,1085.7 563.6,1085.7 564.0,1085.7 564.4,1085.7 564.8,1085.7 565.2,1085.7 565.6,1085.7 566.0,1085.7 566.4,1085.7 566.8,1085.7 567.2,1085.7 567.6,1085.7 568.0,1085.7 568.4,1085.7 568.8,1085.7 569.2,1085.7 569.6,1085.7 570.0,1085.7 570.4,1085.7 570.8,1085.7 571.2,1085.7 571.6,1085.7 572.0,1085.7 572.4,1085.7 572.8,1085.7 573.2,1085.7 573.6,1085.7 574.0,1085.7 574.4,1085.7 574.8,1085.7 575.2,1085.7 575.6,1085.7 576.0,1085.7 576.4,1085.7 576.8,1085.7 577.2,1085.7 577.6,1085.7 578.0,1085.7 578.4,1085.7 578.8,1085.7 579.2,1085.7 579.6,1085.7 580.0,1085.7 580.4,1085.7 580.8,1085.7 581.2,1085.7 581.6,1085.7 582.0,1085.7 582.4,1085.7 582.8,1085.7 583.2,1085.7 583.6,1085.7 584.0,1085.7 584.4,1085.7 584.8,1085.7 585.2,1085.7 585.6,1085.7 586.0,1085.7 586.4,1085.7 586.8,1085.7 587.2,1085.7 587.6,1085.7 588.0,1085.7 588.4,1085.7 588.8,1085.7 589.2,1085.7 589.6,1085.7 590.0,1085.7 590.4,1085.7 590.8,1085.7 591.2,1085.8 591.6,1085.8 592.0,1085.8 592.4,1085.8 592.8,1085.8 593.2,1085.8 593.6,1085.8 594.0,1085.8 594.4,1085.8 594.8,1085.8 595.2,1085.8 595.6,1085.8 596.0,1085.8 596.4,1085.8 596.8,1085.8 597.2,1085.8 597.6,1085.8 598.0,1085.8 598.4,1085.8 598.8,1085.8 599.2,1085.8 599.6,1085.8 600.0,1085.8 600.4,1085.8 600.8,1085.8 601.2,1085.8 601.6,1085.8 602.0,1085.8 602.4,1085.8 602.8,1085.8 603.2,1085.8 603.6,1085.8 604.0,1085.8 604.4,1085.8 604.8,1085.8 605.2,1085.8 605.6,1085.8 606.0,1085.8 606.4,1085.8 606.8,1085.8 607.2,1085.8 607.6,1085.8 608.0,1085.8 608.4,1085.8 608.8,1085.8 609.2,1085.8 609.6,1085.8 610.0,1085.8 610.4,1085.8 610.8,1085.8 611.2,1085.8 611.6,1085.8 612.0,1085.8 612.4,1085.8 612.8,1085.8 613.2,1085.8 613.6,1085.8 614.0,1085.8 614.4,1085.8 614.8,1085.8 615.2,1085.8 615.6,1085.8 616.0,1085.8 616.4,1085.8 616.8,1085.8 617.2,1085.8 617.6,1085.8 618.0,1085.8 618.4,1085.8 618.8,1085.8 619.2,1085.8 619.6,1085.8 620.0,1085.8 620.4,1085.8 620.8,1085.8 621.2,1085.8 621.6,1085.8 622.0,1085.8 622.4,1085.8 622.8,1085.8 623.2,1085.8 623.6,1085.8 624.0,1085.8 624.4,1085.8 624.8,1085.8 625.2,1085.8 625.6,1085.8 626.0,1085.8 626.4,1085.8 626.8,1085.8 627.2,1085.8 627.6,1085.8 628.0,1085.8 628.4,1085.8 628.8,1085.8 629.2,1085.8 629.6,1085.8 630.0,1085.8 630.4,1085.8 630.8,1085.8 631.1,1085.8 631.5,1085.8 631.9,1085.8 632.3,1085.8 632.7,1085.8 633.1,1085.8 633.5,1085.8 633.9,1085.8 634.3,1085.8 634.7,1085.8 635.1,1085.8 635.5,1085.8 635.9,1085.8 636.3,1085.8 636.7,1085.8 637.1,1085.8 637.5,1085.8 637.9,1085.9 638.3,1085.9 638.7,1085.9 639.1,1085.9 639.5,1085.9 639.9,1085.9 640.3,1085.9 640.7,1085.9 641.1,1085.9 641.5,1085.9 641.9,1085.9 642.3,1085.9 642.7,1085.9 643.1,1085.9 643.5,1085.9 643.9,1085.9 644.3,1085.9 644.7,1085.9 645.1,1085.9 645.5,1085.9 645.9,1085.9 646.3,1085.9 646.7,1085.9 647.1,1085.9 647.5,1085.9 647.9,1085.9 648.3,1085.9 648.7,1085.9 649.1,1085.9 649.5,1085.9 649.9,1085.9 650.3,1085.9 650.7,1085.9 651.1,1085.9 651.5,1085.9 651.9,1085.9 652.3,1085.9 652.7,1085.9 653.1,1085.9 653.5,1085.9 653.9,1085.9 654.3,1085.9 654.7,1085.9 655.1,1085.9 655.5,1085.9 655.9,1085.9 656.3,1085.9 656.7,1085.9 657.1,1085.9 657.5,1085.9 657.9,1085.9 658.3,1085.9 658.7,1085.9 659.1,1085.9 659.5,1085.9 659.9,1085.9 660.3,1085.9 660.7,1085.9 661.1,1085.9 661.5,1085.9 661.9,1085.9 662.3,1085.9 662.7,1085.9 663.1,1085.9 663.5,1085.9 663.9,1085.9 664.3,1085.9 664.7,1085.9 665.1,1085.9 665.5,1085.9 665.9,1085.9 666.3,1085.9 666.7,1085.9 667.1,1085.9 667.5,1085.9 667.9,1085.9 668.3,1085.9 668.7,1085.9 669.1,1085.9 669.5,1085.9 669.9,1085.9 670.3,1085.9 670.7,1085.9 671.1,1085.9 671.5,1085.9 671.9,1085.9 672.3,1085.9 672.7,1085.9 673.1,1085.9 673.5,1085.9 673.9,1085.9 674.3,1085.9 674.7,1085.9 675.1,1085.9 675.5,1085.9 675.9,1085.9 676.3,1085.9 676.7,1085.9 677.1,1085.9 677.5,1085.9 677.9,1085.9 678.3,1085.9 678.7,1085.9 679.1,1085.9 679.5,1085.9 679.9,1085.9 680.3,1085.9 680.7,1085.9 681.1,1085.9 681.5,1085.9 681.9,1085.9 682.3,1085.9 682.7,1085.9 683.1,1085.9 683.5,1085.9 683.9,1085.9 684.3,1085.9 684.7,1085.9 685.1,1085.9 685.5,1085.9 685.9,1085.9 686.3,1085.9 686.7,1085.9 687.1,1085.9 687.5,1085.9 687.9,1085.9 688.3,1085.9 688.7,1085.9 689.1,1085.9 689.5,1085.9 689.9,1085.9 690.3,1085.9 690.7,1085.9 691.1,1085.9 691.5,1085.9 691.9,1085.9 692.3,1085.9 692.7,1085.9 693.1,1085.9 693.5,1085.9 693.9,1085.9 694.3,1085.9 694.7,1085.9 695.1,1085.9 695.5,1085.9 695.9,1085.9 696.3,1085.9 696.7,1085.9 697.1,1085.9 697.5,1085.9 697.9,1085.9 698.3,1085.9 698.7,1085.9 699.1,1085.9 699.5,1085.9 699.9,1085.9 700.3,1085.9 700.7,1085.9 701.1,1085.9 701.5,1085.9 701.9,1085.9 702.3,1085.9 702.7,1085.9 703.1,1085.9 703.5,1085.9 703.9,1085.9 704.3,1085.9 704.7,1085.9 705.1,1085.9 705.5,1085.9 705.9,1085.9 706.3,1085.9 706.7,1085.9 707.1,1085.9 707.5,1085.9 707.9,1085.9 708.3,1085.9 708.7,1085.9 709.1,1085.9 709.5,1085.9 709.9,1085.9 710.3,1085.9 710.7,1085.9 711.1,1085.9 711.5,1085.9 711.9,1085.9 712.3,1085.9 712.7,1085.9 713.1,1085.9 713.5,1085.9 713.9,1085.9 714.3,1085.9 714.7,1085.9 715.1,1085.9 715.5,1085.9 715.9,1085.9 716.3,1085.9 716.7,1085.9 717.1,1085.9 717.5,1085.9 717.9,1085.9 718.3,1085.9 718.7,1085.9 719.1,1085.9 719.5,1085.9 719.9,1085.9 720.3,1085.9 720.7,1085.9 721.1,1085.9 721.5,1085.9 721.9,1085.9 722.3,1085.9 722.7,1085.9 723.1,1085.9 723.5,1085.9 723.9,1085.9 724.3,1085.9 724.7,1085.9 725.1,1085.9 725.5,1085.9 725.9,1085.9 726.3,1085.9 726.7,1085.9 727.1,1085.9 727.5,1085.9 727.9,1085.9 728.3,1085.9 728.7,1085.9 729.1,1085.9 729.5,1085.9 729.9,1085.9 730.3,1085.9 730.7,1085.9 731.1,1085.8 731.4,1085.7 731.8,1085.4 732.2,1085.1 732.5,1084.7 732.9,1084.1 733.3,1083.6 733.6,1082.9 734.0,1082.2 734.4,1081.1 734.7,1079.5 735.1,1077.2 735.4,1074.5 735.8,1071.4 736.1,1067.9 736.5,1064.1 736.9,1057.8 737.3,1048.7 737.7,1038.7 738.1,1029.5 738.5,1022.9 738.9,1018.7 739.2,1014.7 739.5,1011.1 739.9,1008.2 740.2,1006.3 740.6,1005.6 741.0,1005.8 741.4,1006.2 741.8,1006.9 742.2,1007.8 742.6,1008.9 743.0,1010.7 743.3,1013.7 743.7,1017.7 744.0,1022.2 744.4,1026.8 744.7,1031.2 745.1,1035.8 745.4,1041.0 745.8,1046.4 746.1,1051.7 746.5,1056.7 746.8,1060.9 747.2,1064.1 747.6,1066.6 747.9,1069.0 748.3,1071.3 748.7,1073.3 749.0,1075.1 749.4,1076.7 749.8,1078.0 750.1,1079.0 750.5,1079.7 750.9,1080.3 751.3,1080.8 751.6,1081.3 752.0,1081.8 752.4,1082.2 752.8,1082.6 753.2,1083.0 753.6,1083.4 753.9,1083.7 754.3,1084.0 754.7,1084.2 755.1,1084.4 755.5,1084.6 755.9,1084.8 756.2,1084.9 756.6,1085.0 757.0,1085.0 757.4,1085.0 757.8,1085.1 758.2,1085.1 758.6,1085.1 759.0,1085.1 759.4,1085.2 759.8,1085.2 760.2,1085.2 760.6,1085.2 761.0,1085.2 761.4,1085.3 761.8,1085.3 762.2,1085.3 762.6,1085.3 762.9,1085.3 763.3,1085.4 763.7,1085.4 764.1,1085.4 764.5,1085.4 764.9,1085.4 765.3,1085.4 765.7,1085.5 766.1,1085.5 766.5,1085.5 766.9,1085.5 767.3,1085.5 767.7,1085.5 768.1,1085.5 768.5,1085.6 768.9,1085.6 769.3,1085.6 769.7,1085.6 770.1,1085.6 770.5,1085.6 770.9,1085.6 771.3,1085.6 771.7,1085.6 772.1,1085.6 772.5,1085.6 772.9,1085.6 773.3,1085.7 773.7,1085.7 774.1,1085.7 774.4,1085.7 774.8,1085.7 775.2,1085.7 775.6,1085.7 776.0,1085.7 776.4,1085.7 776.8,1085.7 777.2,1085.7 777.6,1085.7 778.0,1085.7 778.4,1085.7 778.8,1085.7 779.2,1085.7 779.6,1085.7 780.0,1085.7 780.4,1085.7 780.8,1085.7 781.2,1085.7 781.6,1085.7 782.0,1085.7 782.4,1085.7 782.8,1085.7 783.2,1085.7 783.6,1085.7 784.0,1085.7 784.4,1085.7 784.8,1085.7 785.2,1085.7 785.6,1085.7 786.0,1085.7 786.4,1085.6 786.8,1085.6 787.2,1085.6 787.6,1085.6 788.0,1085.6 788.4,1085.6 788.8,1085.6 789.2,1085.6 789.6,1085.6 790.0,1085.6 790.4,1085.5 790.8,1085.5 791.2,1085.5 791.6,1085.5 792.0,1085.4 792.4,1085.4 792.8,1085.4 793.2,1085.3 793.5,1085.3 793.9,1085.3 794.3,1085.4 794.7,1085.4 795.1,1085.4 795.5,1085.3 795.9,1085.2 796.3,1085.3 796.7,1085.5 797.1,1085.4 797.5,1085.2 797.9,1085.0 798.3,1084.9 798.7,1084.8 799.1,1084.9 799.5,1085.0 799.9,1085.0 800.3,1084.8 800.7,1084.6 801.1,1084.6 801.5,1084.9 801.9,1084.9 802.3,1084.4 802.7,1084.2 803.1,1084.4 803.5,1084.7 803.9,1084.9 804.3,1085.3 804.7,1085.2 805.1,1084.7 805.5,1085.0 805.9,1085.3 806.3,1085.3 806.7,1085.0 807.1,1084.5 807.5,1084.1 807.9,1083.9 808.3,1083.9 808.7,1084.1 809.1,1084.2 809.5,1084.0 809.9,1083.6 810.3,1083.0 810.7,1082.9 811.1,1082.7 811.5,1082.7 811.9,1083.0 812.3,1083.2 812.7,1083.1 813.1,1083.2 813.5,1083.4 813.9,1083.1 814.3,1082.5 814.7,1082.1 815.1,1082.1 815.5,1082.2 815.9,1082.6 816.3,1082.3 816.7,1081.4 817.1,1081.0 817.5,1081.0 817.9,1080.8 818.3,1080.3 818.7,1080.4 819.1,1080.3 819.5,1079.8 819.9,1079.4 820.3,1078.9 820.7,1078.5 821.1,1077.8 821.5,1077.2 821.9,1077.0 822.3,1077.2 822.7,1077.3 823.1,1077.2 823.5,1077.3 823.9,1077.2 824.3,1076.8 824.7,1076.3 825.1,1075.9 825.5,1076.3 825.9,1077.0 826.3,1077.7 826.7,1077.8 827.1,1076.9 827.5,1076.2 827.9,1076.1 828.2,1075.9 828.6,1075.9 829.0,1076.0 829.4,1077.0 829.8,1077.9 830.2,1077.8 830.6,1078.0 831.0,1078.6 831.4,1078.9 831.7,1078.7 832.1,1078.7 832.5,1079.0 832.9,1078.9 833.3,1078.8 833.7,1079.3 834.1,1079.8 834.5,1080.2 834.8,1080.3 835.2,1079.8 835.6,1079.1 836.0,1079.2 836.4,1079.8 836.8,1079.8 837.2,1079.6 837.6,1080.1 838.0,1081.0 838.4,1081.4 838.8,1081.3 839.2,1081.4 839.6,1081.5 840.0,1081.4 840.4,1081.8 840.8,1082.4 841.2,1082.6 841.5,1082.7 841.9,1083.1 842.3,1083.6 842.7,1083.5 843.1,1083.3 843.5,1083.5 843.9,1083.3 844.3,1082.7 844.7,1082.5 845.1,1082.7 845.5,1082.7 845.9,1082.4 846.3,1082.6 846.7,1083.4 847.1,1084.0 847.5,1084.0 847.9,1083.7 848.3,1083.8 848.7,1083.9 849.0,1083.8 849.4,1083.7 849.8,1083.8 850.2,1083.8 850.6,1083.7 851.0,1083.7 851.4,1083.5 851.8,1083.6 852.2,1084.1 852.6,1084.5 853.0,1084.7 853.4,1084.3 853.7,1083.9 854.1,1084.0 854.5,1084.4 854.9,1084.3 855.3,1084.5 855.7,1085.2 856.1,1085.3 856.5,1084.7 856.9,1084.4 857.3,1084.4 857.7,1084.8 858.0,1085.3 858.4,1085.5 858.8,1085.6 859.2,1085.1 859.6,1084.3 860.0,1084.4 860.4,1084.9 860.8,1084.7 861.2,1084.3 861.6,1084.5 862.0,1085.1 862.4,1085.6 862.8,1085.9 863.2,1084.9 863.6,1083.7 864.0,1083.8 864.4,1084.9 864.8,1085.7 865.2,1085.4 865.6,1084.5 866.0,1083.9 866.4,1083.9 866.8,1084.2 867.2,1084.3 867.6,1084.8 868.0,1085.3 868.4,1085.4 868.8,1085.7 869.2,1085.7 869.6,1085.1 870.0,1084.5 870.4,1083.7 870.8,1083.6 871.2,1084.0 871.6,1084.4 872.0,1084.6 872.4,1084.1 872.8,1083.5 873.2,1083.3 873.6,1083.6 874.0,1083.7 874.4,1083.4 874.8,1083.2 875.2,1083.5 875.6,1083.8 876.0,1083.6 876.4,1082.9 876.8,1082.7 877.2,1083.0 877.6,1083.8 878.0,1084.1 878.4,1083.8 878.8,1083.8 879.2,1084.2 879.6,1083.6 880.0,1082.8 880.4,1083.3 880.8,1083.9 881.2,1083.6 881.6,1082.6 882.0,1082.1 882.4,1082.5 882.8,1082.9 883.2,1082.9 883.6,1082.4 884.0,1081.9 884.4,1081.8 884.8,1081.7 885.2,1081.8 885.6,1082.0 886.0,1081.5 886.4,1081.4 886.8,1081.4 887.2,1080.8 887.6,1080.1 888.0,1079.7 888.4,1079.5 888.7,1079.6 889.1,1079.6 889.5,1079.6 889.9,1079.5 890.3,1078.8 890.7,1078.1 891.1,1077.9 891.5,1078.2 891.9,1078.4 892.3,1078.3 892.7,1077.9 893.1,1077.4 893.5,1077.5 893.9,1078.1 894.3,1078.3 894.7,1078.0 895.1,1077.2 895.5,1076.7 895.9,1077.0 896.3,1077.6 896.7,1078.0 897.1,1078.2 897.5,1078.4 897.9,1078.4 898.3,1078.0 898.7,1077.3 899.1,1077.6 899.5,1078.1 899.9,1078.1 900.3,1077.8 900.7,1077.6 901.1,1078.0 901.5,1078.4 901.9,1078.6 902.3,1078.8 902.7,1078.5 903.1,1078.2 903.5,1078.8 903.9,1079.2 904.3,1079.7 904.7,1079.5 905.1,1079.0 905.5,1079.0 905.9,1079.2 906.3,1079.0 906.7,1078.6 907.1,1078.3 907.5,1078.3 907.9,1078.9 908.3,1079.2 908.6,1079.3 909.0,1079.6 909.4,1080.1 909.8,1080.5 910.2,1080.7 910.6,1080.9 911.0,1081.1 911.4,1081.7 911.7,1082.3 912.1,1082.4 912.5,1082.7 912.9,1083.2 913.3,1083.1 913.7,1082.4 914.1,1082.2 914.5,1082.4 914.9,1082.8 915.3,1082.6 915.7,1082.1 916.1,1082.2 916.5,1082.7 916.8,1082.9 917.2,1082.8 917.6,1083.2 918.0,1083.4 918.4,1083.4 918.8,1083.5 919.2,1083.9 919.6,1084.5 920.0,1084.3 920.4,1084.1 920.8,1084.3 921.2,1084.0 921.6,1083.7 922.0,1083.9 922.4,1084.2 922.8,1084.4 923.2,1084.5 923.5,1084.6 923.9,1084.7 924.3,1085.0 924.7,1085.4 925.1,1085.4 925.5,1085.1 925.9,1084.6 926.3,1084.2 926.7,1084.2 927.1,1084.1 927.5,1083.4 927.9,1082.9 928.3,1083.8 928.7,1085.2 929.1,1085.9 929.5,1085.6 929.9,1084.9 930.3,1084.9 930.7,1085.4 931.1,1085.0 931.5,1084.0 931.9,1083.6 932.3,1083.5 932.7,1083.3 933.1,1083.1 933.5,1083.5 933.9,1084.2 934.3,1084.6 934.7,1084.2 935.1,1084.0 935.5,1084.8 935.9,1085.7 936.3,1086.1 936.7,1086.1 937.1,1086.0 937.5,1085.7 937.9,1085.4 938.3,1085.9 938.7,1086.0 939.1,1085.4 939.5,1085.1 939.9,1085.4 940.3,1086.1 940.7,1085.9 941.1,1085.1 941.5,1084.6 941.9,1084.9 942.3,1085.3 942.7,1085.5 943.1,1085.6 943.5,1085.3 943.9,1085.3 944.3,1086.0 944.7,1086.1 945.1,1085.0 945.5,1084.8 945.9,1085.1 946.3,1084.6 946.7,1084.2 947.1,1084.2 947.5,1084.2 947.9,1083.6 948.3,1083.0 948.6,1083.2 949.0,1083.7 949.4,1083.9 949.8,1083.9 950.2,1083.2 950.6,1082.2 951.0,1081.8 951.4,1081.9 951.7,1082.1 952.1,1081.9 952.5,1081.7 952.9,1081.6 953.3,1081.3 953.7,1080.6 954.1,1080.2 954.5,1080.3 954.9,1080.5 955.3,1080.4 955.7,1080.4 956.1,1080.7 956.5,1080.9 956.9,1080.9 957.3,1080.5 957.7,1079.8 958.1,1079.3 958.5,1079.2 958.9,1079.5 959.3,1079.8 959.7,1079.4 960.1,1079.0 960.5,1078.7 960.9,1078.8 961.3,1079.5 961.7,1079.7 962.1,1079.1 962.5,1079.0 962.9,1079.3 963.3,1079.2 963.7,1079.4 964.1,1080.0 964.5,1079.4 964.9,1078.2 965.3,1077.5 965.7,1077.7 966.1,1078.4 966.5,1078.9 966.9,1078.9 967.3,1079.1 967.7,1079.7 968.1,1079.8 968.5,1079.5 968.9,1079.4 969.3,1079.2 969.7,1078.8 970.1,1078.7 970.5,1079.1 970.9,1079.6 971.3,1079.9 971.7,1080.3 972.1,1080.8 972.5,1081.0 972.8,1080.8 973.2,1081.0 973.6,1081.0 974.0,1080.4 974.4,1079.7 974.8,1079.4 975.2,1079.5 975.6,1079.5 976.0,1080.2 976.4,1081.1 976.8,1081.2 977.2,1080.4 977.6,1079.9 978.0,1080.5 978.4,1081.9 978.8,1082.6 979.2,1081.8 979.6,1080.9 980.0,1081.3 980.4,1082.3 980.8,1082.7 981.2,1082.6 981.6,1082.3 982.0,1081.8 982.4,1081.8 982.8,1082.7 983.2,1083.2 983.6,1082.6 984.0,1082.2 984.4,1082.2 984.8,1082.1 985.2,1081.9 985.6,1082.2 986.0,1083.0 986.4,1083.3 986.8,1082.8 987.2,1082.6 987.6,1083.3 988.0,1083.6 988.4,1083.0 988.8,1082.6 989.2,1082.9 989.6,1083.5 990.0,1083.9 990.4,1083.7 990.8,1083.8 991.2,1084.0 991.6,1084.3 992.0,1084.7 992.4,1084.5 992.8,1083.9 993.2,1083.9 993.6,1084.4 994.0,1084.8 994.4,1084.7 994.8,1084.6 995.2,1084.3 995.6,1084.0 996.0,1083.8 996.4,1083.7 996.8,1083.8 997.2,1084.2 997.6,1084.5 998.0,1084.3 998.4,1084.0 998.8,1083.9 999.2,1084.0 999.6,1083.9 1000.0,1083.6 1000.4,1083.6 1000.8,1083.5 1001.2,1083.4 1001.6,1084.2 1002.0,1084.6 1002.4,1084.2 1002.8,1084.1 1003.2,1084.1 1003.6,1084.0 1004.0,1083.9 1004.4,1083.9 1004.8,1084.1 1005.2,1084.4 1005.5,1085.2 1005.9,1085.7 1006.3,1085.1 1006.7,1084.6 1007.1,1084.3 1007.5,1084.3 1007.9,1084.5 1008.3,1084.5 1008.7,1084.3 1009.1,1084.4 1009.5,1084.4 1009.9,1084.3 1010.3,1083.4 1010.7,1082.6 1011.1,1082.6 1011.5,1083.0 1011.9,1083.4 1012.3,1083.6 1012.7,1083.2 1013.1,1083.0 1013.5,1082.9 1013.9,1082.7 1014.3,1083.2 1014.7,1084.1 1015.1,1084.1 1015.5,1083.4 1015.9,1083.2 1016.3,1083.7 1016.6,1083.7 1017.0,1083.0 1017.4,1082.5 1017.8,1082.7 1018.2,1083.3 1018.6,1083.3 1019.0,1083.1 1019.4,1083.2 1019.8,1082.8 1020.2,1082.7 1020.6,1083.1 1021.0,1083.1 1021.4,1082.5 1021.8,1082.3 1022.2,1082.5 1022.6,1082.8 1023.0,1083.0 1023.4,1082.7 1023.8,1081.6 1024.2,1080.9 1024.6,1081.5 1025.0,1082.5 1025.4,1082.8 1025.8,1082.2 1026.2,1082.2 1026.6,1082.6 1027.0,1082.6 1027.4,1082.5 1027.7,1082.3 1028.1,1082.1 1028.5,1082.0 1028.9,1081.6 1029.3,1081.4 1029.7,1081.7 1030.1,1081.9 1030.5,1082.3 1030.9,1082.6 1031.3,1082.1 1031.7,1081.1 1032.1,1080.6 1032.5,1080.5 1032.9,1080.8 1033.3,1081.3 1033.7,1082.0 1034.1,1082.3 1034.5,1081.6 1034.9,1080.9 1035.3,1081.1 1035.7,1081.9 1036.1,1082.5 1036.5,1082.5 1036.8,1082.3 1037.2,1081.8 1037.6,1081.5 1038.0,1081.9 1038.4,1082.2 1038.8,1082.4 1039.2,1083.1 1039.6,1083.2 1040.0,1082.1 1040.4,1081.4 1040.8,1081.4 1041.2,1081.8 1041.6,1082.3 1042.0,1082.6 1042.4,1082.5 1042.8,1082.4 1043.2,1082.6 1043.6,1082.9 1044.0,1083.1 1044.4,1083.0 1044.8,1082.9 1045.2,1082.7 1045.6,1082.3 1046.0,1082.4 1046.4,1082.5 1046.8,1082.6 1047.2,1082.9 1047.6,1083.5 1048.0,1083.5 1048.4,1083.1 1048.8,1082.6 1049.2,1082.5 1049.6,1082.7 1050.0,1083.0 1050.4,1083.3 1050.8,1083.7 1051.2,1083.9 1051.6,1083.7 1052.0,1083.6 1052.4,1084.0 1052.8,1084.5 1053.2,1085.1 1053.6,1085.0 1054.0,1084.5 1054.4,1084.4 1054.8,1084.2 1055.2,1083.5 1055.6,1083.0 1056.0,1083.1 1056.4,1083.8 1056.8,1084.4 1057.2,1084.2 1057.6,1083.3 1058.0,1082.9 1058.4,1083.3 1058.8,1083.7 1059.2,1084.0 1059.6,1084.1 1060.0,1084.6 1060.4,1084.4 1060.8,1083.4 1061.2,1083.0 1061.6,1083.4 1062.0,1084.0 1062.4,1084.3 1062.8,1083.9 1063.2,1083.2 1063.6,1082.9 1064.0,1083.0 1064.4,1082.8 1064.8,1082.4 1065.2,1082.3 1065.6,1082.8 1066.0,1083.3 1066.4,1083.1 1066.8,1082.8 1067.2,1083.2 1067.6,1083.6 1068.0,1083.4 1068.4,1082.9 1068.8,1083.1 1069.2,1083.4 1069.6,1083.3 1070.0,1083.1 1070.4,1082.8 1070.8,1083.3 1071.2,1084.3 1071.6,1084.5 1072.0,1084.0 1072.4,1083.5 1072.8,1082.8 1073.2,1082.3 1073.6,1082.1 1074.0,1082.1 1074.4,1082.1 1074.8,1082.3 1075.2,1082.4 1075.6,1082.6 1076.0,1083.2 1076.4,1084.1 1076.8,1084.1 1077.2,1083.8 1077.6,1084.1 1078.0,1084.1 1078.4,1083.8 1078.8,1083.0 1079.2,1082.4 1079.6,1082.9 1080.0,1083.6 1080.4,1083.6 1080.8,1083.3 1081.2,1082.8 1081.6,1082.5 1082.0,1082.7 1082.4,1082.7 1082.8,1082.5 1083.2,1082.7 1083.6,1083.1 1084.0,1083.3 1084.4,1083.1 1084.8,1082.9 1085.2,1082.6 1085.6,1082.3 1086.0,1082.2 1086.4,1082.2 1086.8,1082.3 1087.2,1082.6 1087.6,1083.0 1088.0,1083.0 1088.4,1082.7 1088.8,1082.4 1089.2,1082.3 1089.6,1082.4 1090.0,1082.8 1090.4,1083.5 1090.8,1084.1 1091.2,1083.6 1091.6,1082.8 1092.0,1082.7 1092.4,1082.9 1092.8,1082.8 1093.2,1082.5 1093.6,1082.0 1094.0,1082.1 1094.4,1082.5 1094.8,1082.8 1095.2,1083.2 1095.6,1083.2 1096.0,1082.7 1096.4,1082.8 1096.8,1083.3 1097.2,1083.3 1097.6,1083.2 1098.0,1083.1 1098.4,1083.0 1098.8,1083.1 1099.2,1083.0 1099.6,1082.5 1100.0,1081.9 1100.4,1082.0 1100.8,1082.3 1101.2,1082.6 1101.6,1082.7 1102.0,1082.4 1102.4,1082.4 1102.8,1082.2 1103.2,1082.3 1103.6,1082.7 1104.0,1082.9 1104.4,1083.4 1104.8,1083.4 1105.2,1082.9 1105.6,1082.3 1106.0,1081.7 1106.4,1081.2 1106.8,1081.5 1107.2,1082.1 1107.6,1082.5 1108.0,1082.1 1108.4,1081.3 1108.8,1081.8 1109.2,1082.9 1109.6,1083.5 1110.0,1083.4 1110.4,1082.6 1110.8,1082.1 1111.2,1082.5 1111.6,1082.6 1112.0,1082.1 1112.4,1081.8 1112.8,1082.0 1113.2,1082.3 1113.6,1082.3 1114.0,1082.5 1114.4,1082.6 1114.8,1082.7 1115.2,1082.7 1115.6,1082.4 1116.0,1081.9 1116.4,1082.2 1116.8,1083.1 1117.2,1083.7 1117.6,1083.6 1118.0,1083.1 1118.4,1082.7 1118.8,1082.8 1119.2,1083.3 1119.6,1083.0 1120.0,1082.2 1120.4,1082.0 1120.8,1082.0 1121.2,1082.4 1121.6,1082.8 1122.0,1082.4 1122.4,1082.0 1122.8,1081.4 1123.2,1081.2 1123.6,1082.1 1124.0,1082.0 1124.4,1081.3 1124.8,1081.6 1125.2,1081.4 1125.6,1081.1 1126.0,1081.4 1126.4,1081.8 1126.8,1081.6 1127.2,1081.0 1127.6,1080.8 1128.0,1081.0 1128.4,1081.6 1128.8,1081.9 1129.2,1081.6 1129.6,1081.2 1130.0,1081.6 1130.4,1082.1 1130.8,1081.7 1131.2,1081.4 1131.6,1081.2 1132.0,1081.3 1132.4,1081.6 1132.8,1081.6 1133.2,1081.5 1133.6,1081.8 1134.0,1082.7 1134.4,1083.3 1134.8,1083.2 1135.2,1082.8 1135.6,1082.4 1136.0,1082.3 1136.4,1082.4 1136.8,1082.8 1137.2,1083.4 1137.6,1084.0 1138.0,1084.0 1138.4,1083.6 1138.8,1083.4 1139.2,1083.0 1139.6,1082.6 1140.0,1082.8 1140.4,1083.3 1140.8,1083.6 1141.2,1083.4 1141.6,1082.9 1142.0,1082.5 1142.3,1082.6 1142.7,1083.9 1143.1,1084.6 1143.5,1083.4 1143.9,1082.1 1144.3,1082.2 1144.7,1082.7 1145.1,1083.1 1145.5,1083.3 1145.9,1083.5 1146.3,1083.2 1146.7,1082.4 1147.0,1081.7 1147.4,1081.4 1147.8,1081.5 1148.2,1081.7 1148.6,1082.1 1149.0,1082.0 1149.4,1081.2 1149.8,1080.1 1150.2,1080.4 1150.6,1081.2 1151.0,1081.3 1151.3,1081.2 1151.7,1081.0 1152.1,1080.5 1152.5,1080.2 1152.9,1080.0 1153.3,1079.8 1153.7,1079.8 1154.1,1080.2 1154.5,1081.4 1154.9,1082.0 1155.3,1081.6 1155.7,1080.8 1156.1,1080.7 1156.5,1081.5 1156.9,1081.5 1157.3,1080.8 1157.7,1080.5 1158.1,1080.8 1158.5,1081.0 1158.9,1081.5 1159.3,1081.4 1159.7,1080.7 1160.1,1080.4 1160.5,1081.1 1160.9,1081.9 1161.3,1082.1 1161.7,1082.1 1162.1,1082.2 1162.5,1082.3 1162.9,1082.3 1163.3,1082.4 1163.7,1082.2 1164.1,1082.3 1164.5,1082.9 1164.9,1083.2 1165.3,1082.8 1165.7,1082.2 1166.1,1082.1 1166.5,1082.4 1166.9,1083.0 1167.3,1083.3 1167.7,1083.3 1168.1,1083.0 1168.5,1082.4 1168.9,1082.1 1169.3,1082.4 1169.7,1082.5 1170.1,1082.6 1170.5,1083.4 1170.9,1084.4 1171.3,1084.8 1171.7,1084.3 1172.1,1083.1 1172.5,1081.9 1172.9,1082.2 1173.3,1083.6 1173.7,1084.3 1174.1,1083.9 1174.5,1083.8 1174.9,1084.1 1175.3,1084.1 1175.7,1083.8 1176.1,1083.0 1176.5,1082.5 1176.9,1082.7 1177.3,1082.5 1177.7,1082.2 1178.1,1083.3 1178.5,1084.5 1178.9,1084.2 1179.3,1083.6 1179.7,1083.5 1180.1,1083.4 1180.5,1082.9 1180.9,1082.2 1181.3,1081.7 1181.7,1081.8 1182.1,1082.1 1182.5,1082.1 1182.9,1082.2 1183.3,1082.5 1183.7,1082.4 1184.1,1081.6 1184.5,1081.0 1184.9,1081.0 1185.3,1081.2 1185.7,1081.3 1186.1,1081.1 1186.5,1081.2 1186.9,1081.2 1187.3,1080.8 1187.7,1081.3 1188.1,1082.0 1188.5,1082.4 1188.9,1082.3 1189.3,1082.1 1189.7,1082.0 1190.1,1082.0 1190.5,1081.9 1190.9,1082.1 1191.3,1081.7 1191.7,1080.7 1192.1,1080.9 1192.5,1081.8 1192.8,1081.8 1193.2,1081.3 1193.6,1081.0 1194.0,1080.8 1194.4,1080.5 1194.8,1080.9 1195.2,1081.2 1195.6,1081.2 1196.0,1081.8 1196.4,1081.9 1196.8,1080.9 1197.2,1080.3 1197.6,1080.6 1198.0,1081.1 1198.4,1081.2 1198.8,1080.6 1199.2,1080.5 1199.5,1080.7 1199.9,1080.3 1200.3,1079.9 1200.7,1080.1 1201.1,1080.5 1201.5,1080.5 1201.9,1080.5 1202.3,1080.5 1202.7,1079.8 1203.1,1079.4 1203.5,1080.3 1203.9,1081.0 1204.3,1080.9 1204.7,1080.4 1205.1,1080.1 1205.4,1080.3 1205.8,1080.8 1206.2,1081.7 1206.6,1082.5 1207.0,1082.9 1207.4,1082.8 1207.8,1082.6 1208.2,1082.7 1208.6,1082.7 1209.0,1083.2 1209.4,1083.3 1209.8,1082.8 1210.2,1082.6 1210.6,1082.8 1210.9,1083.0 1211.3,1083.4 1211.7,1083.8 1212.1,1083.9 1212.5,1084.1 1212.9,1084.3 1213.3,1084.5 1213.7,1084.2 1214.1,1083.6 1214.5,1083.5 1214.9,1083.9 1215.3,1084.3 1215.7,1084.7 1216.1,1085.0 1216.5,1085.0 1216.8,1084.8 1217.2,1084.7 1217.6,1084.5 1218.0,1083.9 1218.4,1083.7 1218.8,1083.6 1219.2,1083.2 1219.6,1083.2 1220.0,1083.5 1220.4,1083.9 1220.8,1084.5 1221.2,1084.7 1221.6,1084.1 1222.0,1083.5 1222.4,1083.5 1222.8,1083.9 1223.2,1084.4 1223.6,1084.2 1224.0,1083.4 1224.4,1083.2 1224.8,1083.7 1225.2,1084.0 1225.6,1084.4 1226.0,1084.8 1226.4,1084.5 1226.8,1084.0 1227.2,1083.2 1227.6,1082.9 1228.0,1083.1 1228.4,1083.7 1228.8,1084.6 1229.2,1085.1 1229.6,1085.1 1230.0,1084.5 1230.4,1084.1 1230.8,1083.7 1231.2,1083.8 1231.6,1084.6 1232.0,1084.6 1232.4,1084.1 1232.8,1084.3 1233.2,1085.1 1233.6,1085.7 1234.0,1085.5 1234.4,1084.8 1234.8,1083.8 1235.2,1083.3 1235.6,1083.4 1236.0,1083.6 1236.4,1084.1 1236.8,1084.7 1237.2,1084.4 1237.6,1083.4 1238.0,1083.0 1238.4,1083.3 1238.8,1083.5 1239.2,1083.0 1239.6,1083.2 1240.0,1083.9 1240.4,1084.0 1240.8,1083.9 1241.2,1084.1 1241.6,1085.0 1242.0,1085.7 1242.3,1085.5 1242.7,1085.0 1243.1,1084.5 1243.5,1084.1 1243.9,1083.6 1244.3,1083.1 1244.7,1083.3 1245.1,1083.4 1245.5,1083.2 1245.9,1082.8 1246.3,1082.7 1246.7,1083.0 1247.0,1083.1 1247.4,1083.1 1247.8,1083.2 1248.2,1083.4 1248.6,1083.4 1249.0,1083.0 1249.4,1082.7 1249.8,1082.9 1250.2,1082.9 1250.6,1082.5 1251.0,1082.4 1251.3,1082.5 1251.7,1082.6 1252.1,1082.4 1252.5,1082.1 1252.9,1081.7 1253.3,1081.3 1253.7,1081.4 1254.1,1082.0 1254.5,1082.2 1254.9,1081.9 1255.3,1081.5 1255.7,1081.3 1256.1,1081.4 1256.5,1081.7 1256.9,1081.7 1257.3,1081.3 1257.7,1081.0 1258.0,1081.0 1258.4,1081.4 1258.8,1081.4 1259.2,1081.2 1259.6,1080.9 1260.0,1080.9 1260.4,1080.7 1260.8,1080.0 1261.2,1079.5 1261.6,1079.6 1262.0,1079.6 1262.4,1079.2 1262.8,1079.0 1263.2,1078.8 1263.6,1079.4 1264.0,1080.4 1264.4,1080.7 1264.8,1080.8 1265.2,1081.0 1265.6,1080.7 1266.0,1079.9 1266.3,1079.7 1266.7,1079.7 1267.1,1078.8 1267.5,1078.5 1267.9,1079.4 1268.3,1080.1 1268.7,1079.9 1269.1,1079.2 1269.5,1078.8 1269.9,1079.3 1270.3,1079.8 1270.7,1080.0 1271.1,1080.1 1271.5,1080.0 1271.9,1079.8 1272.3,1079.8 1272.6,1080.4 1273.0,1081.2 1273.4,1081.4 1273.8,1081.2 1274.2,1080.7 1274.6,1080.7 1275.0,1081.3 1275.4,1081.9 1275.7,1082.0 1276.1,1081.9 1276.5,1082.6 1276.9,1082.8 1277.3,1082.3 1277.7,1082.0 1278.1,1081.8 1278.5,1082.0 1278.9,1082.3 1279.3,1082.4 1279.7,1082.3 1280.1,1082.2 1280.5,1081.8 1280.9,1081.2 1281.3,1081.4 1281.7,1082.2 1282.1,1082.6 1282.5,1082.6 1282.9,1082.1 1283.3,1081.9 1283.7,1082.1 1284.1,1082.1 1284.5,1082.2 1284.8,1083.0 1285.2,1083.5 1285.6,1083.9 1286.0,1084.1 1286.4,1083.6 1286.8,1083.4 1287.2,1083.6 1287.6,1083.4 1288.0,1083.2 1288.4,1083.4 1288.8,1083.8 1289.2,1083.8 1289.6,1083.3 1290.0,1083.0 1290.4,1082.9 1290.8,1082.9 1291.2,1083.1 1291.6,1083.7 1292.0,1084.2 1292.4,1083.9 1292.8,1084.1 1293.2,1084.7 1293.6,1084.0 1294.0,1082.9 1294.4,1083.0 1294.8,1083.1 1295.2,1082.8 1295.6,1083.1 1296.0,1083.9 1296.4,1084.2 1296.8,1084.0 1297.2,1084.0 1297.6,1084.5 1298.0,1084.5 1298.4,1084.2 1298.8,1083.7 1299.2,1083.6 1299.5,1084.3 1299.9,1084.9 1300.3,1084.7 1300.7,1084.4 1301.1,1084.2 1301.5,1083.8 1301.9,1083.8 1302.3,1084.3 1302.7,1084.5 1303.1,1084.2 1303.5,1083.8 1303.9,1084.1 1304.3,1084.4 1304.7,1084.5 1305.1,1084.8 1305.5,1084.6 1305.9,1084.4 1306.3,1084.6 1306.7,1084.7 1307.1,1084.4 1307.5,1084.2 1307.9,1084.1 1308.3,1083.9 1308.7,1083.4 1309.0,1083.7 1309.4,1084.3 1309.8,1083.9 1310.2,1083.7 1310.6,1084.0 1311.0,1083.7 1311.4,1083.4 1311.8,1083.8 1312.2,1084.2 1312.6,1083.8 1313.0,1083.4 1313.3,1083.1 1313.7,1082.8 1314.1,1082.9 1314.5,1083.8 1314.9,1084.5 1315.3,1084.5 1315.7,1084.1 1316.1,1083.9 1316.5,1083.9 1316.9,1083.9 1317.3,1083.4 1317.7,1082.7 1318.0,1082.8 1318.4,1083.0 1318.8,1082.5 1319.2,1082.3 1319.6,1083.0 1320.0,1083.4 1320.4,1083.5 1320.8,1083.4 1321.2,1082.9 1321.6,1082.9 1322.0,1083.0 1322.4,1082.8 1322.8,1082.8 1323.2,1082.8 1323.6,1082.8 1324.0,1082.6 1324.4,1082.4 1324.8,1082.4 1325.2,1082.8 1325.5,1083.1 1325.9,1082.7 1326.3,1082.5 1326.7,1082.8 1327.1,1083.4 1327.5,1083.6 1327.9,1083.8 1328.3,1083.9 1328.7,1083.3 1329.1,1082.6 1329.5,1082.3 1329.9,1082.6 1330.3,1083.3 1330.7,1083.4 1331.1,1083.2 1331.5,1083.0 1331.9,1082.8 1332.3,1083.1 1332.7,1083.5 1333.1,1083.5 1333.5,1083.1 1333.9,1082.8 1334.3,1083.1 1334.7,1083.5 1335.1,1083.4 1335.5,1082.8 1335.9,1082.2 1336.3,1081.9 1336.7,1082.3 1337.0,1082.8 1337.4,1082.7 1337.8,1082.0 1338.2,1081.7 1338.6,1082.4 1339.0,1083.4 1339.4,1083.6 1339.8,1083.6 1340.2,1083.8 1340.6,1083.5 1341.0,1083.0 1341.4,1083.0 1341.8,1083.0 1342.2,1083.1 1342.6,1083.3 1343.0,1083.2 1343.4,1083.2 1343.8,1083.3 1344.2,1083.0 1344.6,1082.3 1345.0,1082.0 1345.4,1082.2 1345.8,1082.3 1346.2,1082.3 1346.6,1082.0 1347.0,1081.9 1347.4,1082.1 1347.8,1082.9 1348.1,1083.3 1348.5,1083.3 1348.9,1083.6 1349.3,1083.3 1349.7,1082.5 1350.1,1082.5 1350.5,1082.5 1350.9,1082.1 1351.3,1082.4 1351.7,1082.9 1352.1,1083.3 1352.5,1083.6 1352.9,1083.4 1353.3,1082.9 1353.7,1082.7 1354.1,1083.2 1354.5,1083.7 1354.9,1084.3 1355.3,1084.5 1355.7,1083.8 1356.1,1083.2 1356.5,1083.1 1356.9,1083.4 1357.3,1083.5 1357.7,1082.7 1358.1,1082.2 1358.5,1082.3 1358.8,1082.1 1359.2,1082.0 1359.6,1082.0 1360.0,1081.9 1360.4,1082.1 1360.8,1082.4 1361.2,1082.3 1361.6,1082.1 1362.0,1082.3 1362.4,1081.8 1362.8,1081.0 1363.2,1080.9 1363.6,1081.6 1364.0,1081.8 1364.4,1081.2 1364.8,1080.8 1365.2,1081.0 1365.6,1080.9 1366.0,1081.1 1366.4,1081.1 1366.8,1080.6 1367.2,1080.3 1367.6,1080.7 1368.0,1080.9 1368.4,1080.9 1368.8,1080.6 1369.2,1079.8 1369.6,1078.9 1370.0,1078.8 1370.4,1079.4 1370.8,1080.0 1371.2,1080.3 1371.6,1080.3 1372.0,1080.0 1372.4,1079.8 1372.8,1079.9 1373.2,1080.0 1373.6,1079.9 1374.0,1080.1 1374.4,1080.1 1374.8,1079.9 1375.2,1079.8 1375.6,1079.9 1376.0,1079.9 1376.4,1079.9 1376.8,1080.4 1377.2,1080.9 1377.6,1080.6 1378.0,1080.0 1378.4,1079.5 1378.8,1079.4 1379.2,1079.6 1379.6,1080.0 1380.0,1080.2 1380.4,1080.2 1380.8,1080.2 1381.2,1080.7 1381.5,1081.4 1381.9,1082.0 1382.3,1082.0 1382.7,1081.6 1383.1,1081.4 1383.5,1081.5 1383.9,1081.3 1384.3,1081.1 1384.7,1081.5 1385.1,1081.8 1385.5,1081.8 1385.9,1082.0 1386.3,1082.1 1386.7,1082.0 1387.1,1081.9 1387.5,1082.1 1387.9,1082.4 1388.3,1082.5 1388.7,1082.5 1389.0,1082.3 1389.4,1082.1 1389.8,1082.9 1390.2,1084.0 1390.6,1084.4 1391.0,1084.1 1391.4,1083.7 1391.8,1083.3 1392.2,1082.9 1392.6,1082.7 1393.0,1082.5 1393.3,1082.2 1393.7,1082.7 1394.1,1083.8 1394.5,1084.5 1394.9,1084.5 1395.3,1083.9 1395.7,1083.6 1396.1,1084.1 1396.5,1084.1 1396.9,1083.6 1397.3,1083.8 1397.7,1084.7 1398.0,1085.2 1398.4,1084.6 1398.8,1083.6 1399.2,1083.1 1399.6,1083.2 1400.0,1083.7 1400.4,1084.2 1400.8,1084.3 1401.2,1084.1 1401.6,1084.2 1402.0,1084.6 1402.3,1084.0 1402.7,1083.4 1403.1,1083.7 1403.5,1084.1 1403.9,1084.2 1404.3,1084.5 1404.7,1084.7 1405.1,1084.2 1405.5,1083.5 1405.9,1082.9 1406.3,1083.2 1406.7,1083.6 1407.0,1083.9 1407.4,1083.7 1407.8,1083.3 1408.2,1083.3 1408.6,1083.3 1409.0,1083.0 1409.4,1082.6 1409.8,1082.3 1410.2,1082.4 1410.6,1082.5 1411.0,1082.6 1411.3,1082.5 1411.7,1081.9 1412.1,1081.3 1412.5,1081.3 1412.9,1081.8 1413.3,1082.4 1413.7,1082.8 1414.1,1082.9 1414.5,1082.9 1414.9,1082.8 1415.3,1082.8 1415.7,1082.8 1416.1,1082.5 1416.5,1082.0 1416.8,1081.4 1417.2,1081.1 1417.6,1081.5 1418.0,1081.9 1418.4,1081.1 1418.8,1080.0 1419.2,1080.1 1419.6,1080.8 1420.0,1081.1 1420.4,1081.4 1420.8,1081.5 1421.2,1081.6 1421.5,1082.0 1421.9,1082.2 1422.3,1082.5 1422.7,1082.3 1423.1,1081.9 1423.5,1081.5 1423.8,1081.1 1424.2,1081.2 1424.6,1081.5 1425.0,1081.6 1425.4,1082.1 1425.8,1082.2 1426.1,1082.0 1426.5,1081.5 1426.9,1081.2 1427.3,1081.9"/>
<polyline stroke="#d62728" points="264.3,1086.5 264.5,394.8 264.7,382.2 265.2,382.7 265.8,383.6 266.3,384.6 266.9,385.1 267.5,385.1 268.1,385.0 268.7,384.8 269.3,384.6 269.9,384.4 270.5,383.9 271.1,382.8 271.7,381.1 272.3,378.9 272.9,376.2 273.4,371.2 273.9,362.9 274.4,353.9 274.9,343.7 275.5,332.5 276.1,320.7 276.6,309.2 277.2,297.4 277.7,285.3 278.2,273.9 278.8,264.6 279.4,256.8 280.0,249.8 280.5,243.9 281.1,239.2 281.7,235.2 282.3,231.5 282.8,228.4 283.4,226.0 284.0,224.4 284.6,223.4 285.2,222.5 285.8,221.7 286.4,221.3 287.0,221.1 287.5,221.1 288.1,221.2 288.6,221.3 289.1,221.5 289.6,221.7 290.2,221.9 290.7,222.1 291.3,222.3 291.8,222.7 292.4,223.0 292.9,223.5 293.5,224.0 294.1,224.6 294.6,225.2 295.2,226.0 295.8,226.8 296.3,227.9 296.9,229.1 297.4,230.4 298.0,231.7 298.5,233.1 299.1,234.5 299.6,235.9 300.2,237.2 300.7,238.3 301.3,239.4 301.9,240.2 302.4,241.0 303.0,241.8 303.5,242.5 304.1,243.1 304.6,243.8 305.2,244.4 305.8,245.0 306.3,245.7 306.9,246.4 307.4,247.2 308.0,247.9 308.5,248.7 309.1,249.4 309.7,250.1 310.2,250.9 310.8,251.7 311.3,252.5 311.9,253.4 312.5,254.3 313.0,255.1 313.6,256.0 314.1,256.7 314.7,257.4 315.2,258.0 315.8,258.6 316.4,259.3 316.9,260.1 317.5,260.9 318.0,261.7 318.6,262.6 319.1,263.4 319.7,264.2 320.3,265.1 320.8,266.0 321.4,267.0 321.9,267.9 322.5,268.7 323.0,269.5 323.6,270.3 324.2,271.0 324.7,271.6 325.3,272.3 325.8,272.9 326.4,273.5 326.9,274.2 327.5,274.9 328.1,275.7 328.6,276.6 329.2,277.5 329.7,278.4 330.3,279.2 330.9,279.8 331.4,280.4 332.0,281.0 332.5,281.6 333.1,282.2 333.6,283.0 334.2,283.8 334.8,284.7 335.3,285.6 335.9,286.6 336.4,287.5 337.0,288.4 337.5,289.3 338.1,290.1 338.7,290.9 339.2,291.6 339.8,292.3 340.3,292.8 340.9,293.4 341.4,294.1 342.0,294.8 342.6,295.6 343.1,296.4 343.7,297.2 344.2,297.9 344.8,298.7 345.3,299.3 345.9,300.0 346.5,300.6 347.0,301.1 347.6,301.7 348.1,302.3 348.7,303.0 349.2,303.7 349.8,304.4 350.4,305.2 350.9,305.9 351.5,306.6 352.0,307.4 352.6,308.2 353.2,308.9 353.7,309.7 354.3,310.3 354.8,310.9 355.4,311.5 355.9,312.1 356.5,312.9 357.1,313.7 357.6,314.6 358.2,315.5 358.7,316.4 359.3,317.1 359.8,317.7 360.4,318.3 361.0,318.9 361.5,319.5 362.1,320.3 362.6,321.2 363.2,322.1 363.7,323.0 364.3,324.0 364.9,324.8 365.4,325.6 366.0,326.2 366.5,326.8 367.1,327.4 367.6,328.0 368.2,328.6 368.8,329.3 369.3,330.0 369.9,330.8 370.4,331.5 371.0,332.2 371.6,332.9 372.1,333.6 372.7,334.2 373.2,334.7 373.8,335.3 374.3,335.8 374.9,336.3 375.5,337.0 376.0,337.7 376.6,338.5 377.1,339.3 377.7,340.2 378.2,341.1 378.8,341.9 379.4,342.7 379.9,343.6 380.5,344.5 381.0,345.4 381.6,346.1 382.1,346.8 382.7,347.4 383.3,347.8 383.8,348.3 384.4,348.9 384.9,349.6 385.5,350.4 386.0,351.3 386.6,352.1 387.2,352.9 387.7,353.6 388.3,354.1 388.8,354.5 389.4,354.9 390.0,355.3 390.5,355.8 391.1,356.3 391.6,356.9 392.2,357.6 392.7,358.3 393.3,359.0 393.9,359.8 394.4,360.6 395.0,361.4 395.5,362.2 396.1,362.9 396.6,363.7 397.2,364.5 397.8,365.2 398.3,365.9 398.9,366.5 399.4,367.1 400.0,367.6 400.5,368.1 401.1,368.7 401.7,369.3 402.2,369.9 402.8,370.5 403.3,371.1 403.9,371.9 404.4,372.7 405.0,373.5 405.6,374.4 406.1,375.3 406.7,376.2 407.2,377.1 407.8,377.9 408.3,378.5 408.9,379.1 409.5,379.6 410.0,380.1 410.6,380.7 411.1,381.3 411.7,381.9 412.3,382.4 412.8,383.0 413.4,383.7 413.9,384.4 414.5,385.1 415.0,385.9 415.6,386.6 416.2,387.3 416.7,387.9 417.3,388.5 417.8,389.0 418.4,389.6 418.9,390.2 419.5,390.8 420.1,391.4 420.6,392.1 421.2,392.7 421.7,393.3 422.3,393.8 422.8,394.4 423.4,395.0 424.0,395.7 424.5,396.4 425.1,397.0 425.6,397.7 426.2,398.3 426.7,398.9 427.3,399.5 427.9,400.2 428.4,400.9 429.0,401.6 429.5,402.3 430.1,403.0 430.7,403.7 431.2,404.4 431.8,405.0 432.3,405.7 432.9,406.4 433.4,407.2 434.0,407.9 434.6,408.7 435.1,409.4 435.7,410.0 436.2,410.5 436.8,410.8 437.3,411.1 437.9,411.4 438.5,411.8 439.0,412.3 439.6,412.9 440.1,413.6 440.7,414.4 441.2,415.3 441.8,416.3 442.4,417.3 442.9,418.3 443.5,419.2 444.0,419.8 444.6,420.4 445.1,420.8 445.7,421.1 446.3,421.4 446.8,421.8 447.4,422.3 447.9,422.9 448.5,423.6 449.1,424.3 449.6,425.1 450.2,425.9 450.7,426.7 451.3,427.5 451.8,428.4 452.4,429.2 453.0,429.9 453.5,430.5 454.1,430.9 454.6,431.2 455.2,431.4 455.7,431.7 456.3,432.0 456.9,432.4 457.4,432.9 458.0,433.5 458.5,434.2 459.1,434.9 459.6,435.6 460.2,436.3 460.8,436.9 461.3,437.6 461.9,438.3 462.4,439.0 463.0,439.8 463.5,440.5 464.1,441.2 464.7,441.8 465.2,442.4 465.8,442.9 466.3,443.4 466.9,443.8 467.4,444.2 468.0,444.6 468.6,445.2 469.1,445.9 469.7,446.8 470.2,447.7 470.8,448.6 471.4,449.3 471.9,449.9 472.5,450.4 473.0,450.9 473.6,451.5 474.1,452.1 474.7,452.8 475.3,453.4 475.8,454.0 476.4,454.5 476.9,455.1 477.5,455.6 478.0,456.3 478.6,457.0 479.2,457.8 479.7,458.5 480.3,459.3 480.8,459.9 481.4,460.4 481.9,460.9 482.5,461.4 483.1,461.9 483.6,462.3 484.2,462.8 484.7,463.3 485.3,463.8 485.8,464.4 486.4,465.0 487.0,465.7 487.5,466.4 488.1,467.1 488.6,467.8 489.2,468.5 489.8,469.1 490.3,469.6 490.9,470.2 491.4,470.7 492.0,471.3 492.5,471.9 493.1,472.5 493.7,473.1 494.2,473.7 494.8,474.3 495.3,474.9 495.9,475.5 496.4,476.0 497.0,476.5 497.6,477.0 498.2,477.4 498.8,477.8 499.4,478.0 500.0,478.0 500.5,477.8 501.0,477.3 501.6,476.5 502.1,475.5 502.6,474.2 503.1,471.7 503.6,467.4 504.1,462.0 504.6,454.0 505.1,443.1 505.6,431.5 506.1,418.9 506.7,405.4 507.2,391.0 507.6,378.6 508.1,365.3 508.5,350.8 509.0,331.9 509.4,311.2 509.9,293.6 510.4,278.3 511.0,265.2 511.5,254.8 512.1,245.9 512.6,238.6 513.2,232.6 513.7,227.5 514.3,223.0 514.8,220.2 515.3,218.4 515.9,217.0 516.5,215.8 517.0,215.0 517.5,214.5 518.1,214.4 518.7,214.5 519.2,214.8 519.8,215.1 520.3,215.5 520.9,215.9 521.4,216.4 522.0,216.8 522.6,217.2 523.2,217.8 523.8,218.3 524.4,218.9 525.0,219.6 525.6,220.4 526.2,221.2 526.8,222.1 527.4,223.0 528.0,223.6 528.6,224.2 529.2,224.7 529.7,225.2 530.3,225.7 530.9,226.2 531.5,226.8 532.1,227.5 532.7,228.2 533.3,229.0 533.9,229.7 534.4,230.3 535.0,231.0 535.6,231.6 536.2,232.3 536.8,233.1 537.3,234.1 537.9,235.1 538.4,236.1 539.0,237.0 539.6,237.8 540.1,238.5 540.7,239.1 541.2,239.7 541.8,240.3 542.4,240.9 542.9,241.6 543.5,242.4 544.0,243.2 544.6,244.2 545.2,245.2 545.7,246.1 546.3,247.1 546.8,247.9 547.4,248.7 548.0,249.5 548.5,250.3 549.1,251.1 549.6,251.8 550.2,252.6 550.7,253.3 551.3,254.1 551.9,254.9 552.4,255.8 553.0,256.6 553.5,257.3 554.1,258.0 554.7,258.7 555.2,259.4 555.8,260.2 556.3,261.0 556.9,261.9 557.5,262.9 558.0,264.0 558.6,265.2 559.1,266.3 559.7,267.5 560.3,268.4 560.8,269.2 561.4,269.9 561.9,270.5 562.5,271.1 563.1,271.7 563.6,272.3 564.2,272.9 564.7,273.5 565.3,274.3 565.9,275.1 566.4,276.0 567.0,276.9 567.5,277.8 568.1,278.8 568.7,279.8 569.2,280.8 569.8,281.7 570.3,282.5 570.9,283.3 571.5,284.1 572.0,284.8 572.6,285.5 573.1,286.2 573.7,286.7 574.2,287.2 574.8,287.8 575.4,288.3 575.9,289.0 576.5,289.7 577.0,290.5 577.6,291.3 578.2,292.3 578.7,293.2 579.3,294.2 579.8,295.1 580.4,296.0 581.0,296.7 581.5,297.5 582.1,298.4 582.6,299.2 583.2,300.0 583.8,300.8 584.3,301.5 584.9,302.1 585.4,302.6 586.0,303.2 586.6,303.8 587.1,304.5 587.7,305.3 588.2,306.2 588.8,307.1 589.4,308.1 589.9,309.0 590.5,310.0 591.0,310.9 591.6,311.8 592.2,312.6 592.7,313.4 593.3,314.1 593.8,314.8 594.4,315.5 595.0,316.3 595.5,317.0 596.1,317.9 596.6,318.7 597.2,319.5 597.7,320.3 598.3,321.0 598.9,321.6 599.4,322.1 600.0,322.6 600.5,323.2 601.1,323.9 601.7,324.7 602.2,325.6 602.8,326.6 603.3,327.5 603.9,328.4 604.5,329.3 605.0,330.2 605.6,331.1 606.1,332.0 606.7,332.7 607.3,333.3 607.8,333.8 608.4,334.3 608.9,334.9 609.5,335.5 610.1,336.4 610.6,337.3 611.2,338.4 611.7,339.4 612.3,340.3 612.9,341.0 613.4,341.7 614.0,342.2 614.5,342.8 615.1,343.3 615.7,344.0 616.2,344.7 616.8,345.4 617.3,346.2 617.9,347.1 618.5,347.9 619.0,348.6 619.6,349.3 620.1,349.9 620.7,350.6 621.3,351.2 621.8,352.0 622.4,352.9 622.9,353.7 623.5,354.4 624.0,355.0 624.6,355.5 625.2,356.0 625.7,356.5 626.3,357.2 626.8,358.0 627.4,358.9 628.0,359.7 628.5,360.6 629.1,361.3 629.6,362.0 630.2,362.7 630.8,363.3 631.3,364.0 631.9,364.6 632.4,365.2 633.0,365.8 633.6,366.2 634.1,366.8 634.7,367.4 635.2,368.1 635.8,368.8 636.4,369.6 636.9,370.3 637.5,371.0 638.0,371.7 638.6,372.5 639.2,373.3 639.7,374.1 640.3,374.9 640.8,375.6 641.4,376.2 642.0,376.8 642.5,377.4 643.1,377.9 643.6,378.5 644.2,379.2 644.8,379.8 645.3,380.4 645.9,380.9 646.4,381.5 647.0,382.0 647.5,382.6 648.1,383.4 648.7,384.3 649.2,385.2 649.8,386.2 650.3,387.0 650.9,387.8 651.5,388.4 652.0,389.0 652.6,389.6 653.1,390.3 653.7,391.1 654.3,391.9 654.8,392.7 655.4,393.5 655.9,394.2 656.5,394.8 657.1,395.3 657.6,395.8 658.2,396.2 658.7,396.8 659.3,397.4 659.9,398.2 660.4,398.9 661.0,399.7 661.5,400.5 662.1,401.3 662.7,402.0 663.2,402.7 663.8,403.4 664.3,404.1 664.9,404.8 665.5,405.5 666.0,406.2 666.6,406.9 667.1,407.5 667.7,408.1 668.3,408.7 668.8,409.3 669.4,409.9 669.9,410.6 670.5,411.2 671.1,411.9 671.6,412.5 672.2,413.1 672.7,413.7 673.3,414.3 673.8,415.0 674.4,415.7 675.0,416.5 675.5,417.3 676.1,418.0 676.6,418.6 677.2,419.1 677.8,419.5 678.3,420.0 678.9,420.5 679.4,421.1 680.0,421.7 680.6,422.3 681.1,422.9 681.7,423.6 682.2,424.4 682.8,425.2 683.4,425.9 683.9,426.6 684.5,427.2 685.0,427.8 685.6,428.3 686.2,428.8 686.7,429.3 687.3,429.9 687.8,430.5 688.4,431.2 689.0,431.9 689.5,432.6 690.1,433.3 690.6,433.9 691.2,434.5 691.8,435.1 692.3,435.7 692.9,436.4 693.4,437.0 694.0,437.6 694.6,438.1 695.1,438.4 695.7,438.7 696.2,438.9 696.8,439.2 697.3,439.7 697.9,440.4 698.5,441.1 699.0,442.0 699.6,442.9 700.1,443.9 700.7,444.7 701.3,445.5 701.8,446.2 702.4,446.8 702.9,447.3 703.5,447.8 704.1,448.4 704.6,449.1 705.2,449.8 705.7,450.5 706.3,451.2 706.9,451.8 707.4,452.3 708.0,452.7 708.5,453.2 709.1,453.7 709.7,454.4 710.2,455.2 710.8,456.0 711.3,456.8 711.9,457.5 712.5,458.1 713.0,458.7 713.6,459.3 714.1,459.8 714.7,460.3 715.3,460.8 715.8,461.3 716.4,461.9 716.9,462.6 717.5,463.3 718.1,464.0 718.6,464.6 719.2,465.2 719.7,465.6 720.3,466.0 720.8,466.4 721.4,466.7 722.0,467.1 722.5,467.6 723.1,468.1 723.6,468.8 724.2,469.4 724.8,470.1 725.3,470.7 725.9,471.2 726.4,471.7 727.0,472.2 727.6,472.8 728.1,473.4 728.7,473.9 729.2,474.5 729.8,475.0 730.4,475.5 730.9,476.0 731.5,476.5 732.0,476.9 732.6,477.2 733.2,477.3 733.8,477.2 734.4,477.0 735.0,476.5 735.6,475.0 736.2,471.7 736.8,467.1 737.2,462.1 737.6,454.7 738.0,445.9 738.5,429.7 739.1,410.5 739.7,389.9 740.3,368.8 740.6,356.5 741.0,344.0 741.5,322.7 742.1,302.9 742.7,286.2 743.2,271.4 743.8,259.5 744.3,250.8 744.9,243.4 745.4,236.8 746.0,230.0 746.5,224.0 747.1,220.5 747.6,219.1 748.2,217.9 748.8,217.0 749.3,216.2 749.9,215.6 750.4,215.2 750.9,215.1 751.5,215.0 752.0,214.9 752.6,215.0 753.1,215.1 753.7,215.2 754.2,215.4 754.8,215.8 755.3,216.3 755.9,217.0 756.4,217.9 757.0,218.9 757.5,219.8 758.1,220.7 758.6,221.5 759.2,222.2 759.8,222.8 760.3,223.5 760.9,224.1 761.5,224.9 762.0,225.8 762.6,226.8 763.2,227.8 763.8,228.8 764.3,229.7 764.9,230.6 765.5,231.6 766.1,232.6 766.6,233.6 767.2,234.5 767.8,235.3 768.4,236.0 768.9,236.7 769.5,237.3 770.1,238.0 770.7,238.7 771.3,239.5 771.9,240.2 772.5,240.8 773.1,241.5 773.7,242.1 774.3,242.7 774.9,243.4 775.5,244.2 776.1,245.0 776.7,246.0 777.3,246.9 777.9,247.8 778.5,248.6 779.1,249.2 779.7,249.8 780.3,250.4 780.9,251.0 781.5,251.7 782.1,252.6 782.7,253.6 783.3,254.7 783.8,255.6 784.4,256.5 784.9,257.3 785.5,257.9 786.0,258.6 786.6,259.3 787.1,260.0 787.7,260.8 788.2,261.7 788.8,262.6 789.4,263.6 789.9,264.4 790.5,265.2 791.1,265.9 791.7,266.5 792.2,267.0 792.8,267.6 793.4,268.3 794.0,269.1 794.6,270.0 795.2,270.9 795.8,271.8 796.4,272.7 796.9,273.5 797.5,274.3 798.1,274.9 798.7,275.6 799.3,276.4 799.9,277.3 800.5,278.4 801.1,279.6 801.7,280.9 802.3,282.1 802.9,283.3 803.5,284.4 804.1,285.2 804.7,285.9 805.3,286.4 805.9,286.9 806.5,287.5 807.1,288.1 807.6,288.7 808.2,289.3 808.8,289.7 809.4,290.1 810.0,290.3 810.6,290.4 811.2,290.5 811.8,290.5 812.3,290.6 812.9,290.6 813.5,290.7 814.1,290.8 814.7,290.9 815.3,290.7 815.9,290.5 816.4,290.0 817.0,289.5 817.6,288.8 818.2,288.0 818.8,287.0 819.4,286.0 819.9,284.8 820.5,283.7 821.1,282.6 821.7,281.5 822.2,280.5 822.8,279.4 823.4,278.3 823.9,277.0 824.5,275.6 825.0,273.9 825.6,272.1 826.1,270.2 826.7,268.1 827.2,266.1 827.8,263.9 828.3,261.6 828.9,259.2 829.4,256.8 830.0,254.5 830.5,252.4 831.1,250.7 831.6,249.5 832.1,248.6 832.7,247.8 833.2,247.1 833.8,246.5 834.4,245.9 834.9,245.4 835.5,245.0 836.0,244.5 836.6,244.0 837.1,243.6 837.7,243.1 838.3,242.6 838.9,242.2 839.5,241.7 840.1,241.2 840.7,240.7 841.3,240.4 841.9,240.1 842.5,240.0 843.1,240.0 843.7,240.0 844.2,240.0 844.8,240.1 845.4,240.2 846.0,240.4 846.5,240.6 847.1,240.8 847.7,241.1 848.3,241.4 848.9,241.9 849.4,242.4 850.0,242.9 850.5,243.4 851.1,243.9 851.6,244.3 852.2,244.8 852.8,245.3 853.3,245.8 853.9,246.5 854.4,247.2 855.0,248.0 855.5,248.9 856.1,249.8 856.6,250.6 857.2,251.3 857.7,252.0 858.3,252.6 858.8,253.4 859.4,254.2 859.9,255.1 860.5,256.0 861.0,256.8 861.6,257.6 862.1,258.3 862.7,259.0 863.3,259.6 863.9,260.2 864.5,260.8 865.1,261.4 865.6,261.9 866.2,262.5 866.8,263.1 867.4,263.7 868.0,264.4 868.6,265.0 869.2,265.6 869.8,266.1 870.3,266.6 870.9,267.1 871.5,267.7 872.1,268.3 872.7,268.8 873.3,269.2 873.9,269.5 874.5,269.8 875.0,270.2 875.6,270.6 876.2,271.2 876.8,271.8 877.4,272.3 878.0,272.7 878.5,273.0 879.1,273.2 879.7,273.3 880.3,273.3 880.9,273.3 881.5,273.4 882.0,273.6 882.6,273.8 883.2,273.9 883.8,274.1 884.4,274.0 885.0,273.9 885.6,273.6 886.2,273.3 886.7,272.9 887.3,272.6 887.9,272.4 888.5,272.2 889.1,272.0 889.7,271.6 890.3,271.1 890.8,270.5 891.4,269.7 892.0,268.9 892.6,267.9 893.2,266.8 893.8,265.6 894.3,264.3 894.9,263.0 895.5,261.8 896.1,260.7 896.6,259.6 897.2,258.6 897.8,257.7 898.3,256.6 898.9,255.6 899.4,254.4 900.0,253.1 900.5,251.7 901.0,250.2 901.5,248.5 902.1,246.9 902.6,245.5 903.1,244.3 903.6,243.6 904.2,242.9 904.8,242.3 905.3,241.7 905.9,241.0 906.5,240.3 907.1,239.6 907.7,239.0 908.3,238.5 908.8,238.3 909.4,238.3 910.0,238.4 910.6,238.6 911.1,238.8 911.7,239.0 912.2,239.2 912.8,239.5 913.4,239.8 913.9,240.1 914.5,240.4 915.1,240.6 915.6,240.9 916.2,241.3 916.7,241.7 917.3,242.2 917.9,242.8 918.4,243.5 919.0,244.2 919.6,244.8 920.2,245.3 920.7,245.7 921.3,246.1 921.9,246.4 922.5,246.8 923.0,247.2 923.6,247.7 924.2,248.3 924.8,249.1 925.4,250.0 925.9,250.9 926.5,251.8 927.1,252.7 927.7,253.6 928.3,254.5 928.9,255.3 929.5,256.1 930.0,256.8 930.6,257.5 931.2,258.1 931.8,258.9 932.4,259.6 932.9,260.4 933.5,261.2 934.1,261.9 934.6,262.4 935.2,262.9 935.8,263.2 936.3,263.6 936.9,264.0 937.5,264.6 938.1,265.3 938.6,266.0 939.2,266.9 939.8,267.8 940.3,268.6 940.9,269.4 941.5,270.1 942.0,270.8 942.6,271.4 943.1,272.0 943.7,272.6 944.3,273.1 944.8,273.6 945.4,274.2 946.0,275.0 946.5,275.8 947.1,276.5 947.6,277.0 948.2,277.3 948.8,277.6 949.3,277.7 949.9,277.8 950.5,277.9 951.0,277.9 951.6,277.8 952.1,277.8 952.7,277.9 953.3,277.9 953.9,277.7 954.4,277.5 955.0,277.1 955.6,276.6 956.2,276.0 956.8,275.3 957.4,274.6 957.9,273.8 958.5,273.2 959.1,272.6 959.7,272.1 960.3,271.7 960.8,271.5 961.4,271.2 962.0,270.9 962.6,270.5 963.2,270.0 963.8,269.5 964.3,268.9 964.9,268.2 965.5,267.4 966.0,266.5 966.5,265.3 967.0,263.8 967.6,262.3 968.1,260.9 968.6,259.6 969.1,258.6 969.7,257.7 970.3,256.8 970.8,256.0 971.4,255.3 972.0,254.5 972.6,253.7 973.2,253.0 973.8,252.2 974.3,251.6 974.9,251.1 975.5,250.7 976.1,250.3 976.7,249.9 977.3,249.4 977.9,248.9 978.5,248.5 979.1,248.2 979.7,248.0 980.3,247.9 980.9,247.9 981.5,247.9 982.0,247.8 982.6,247.8 983.2,247.7 983.7,247.6 984.3,247.5 984.9,247.4 985.5,247.3 986.0,247.2 986.6,247.2 987.2,247.2 987.7,247.3 988.3,247.5 988.9,247.9 989.4,248.4 990.0,248.9 990.6,249.3 991.2,249.5 991.8,249.7 992.4,249.8 992.9,249.8 993.5,249.9 994.1,250.1 994.7,250.5 995.3,250.8 995.9,251.2 996.5,251.6 997.1,251.9 997.6,252.2 998.2,252.7 998.8,253.3 999.4,253.8 1000.0,254.4 1000.6,254.9 1001.1,255.3 1001.7,255.7 1002.3,256.1 1002.9,256.4 1003.4,256.8 1004.0,257.2 1004.6,257.7 1005.2,258.3 1005.7,259.0 1006.3,259.7 1006.9,260.3 1007.5,260.8 1008.0,261.1 1008.6,261.5 1009.2,261.8 1009.8,262.0 1010.3,262.3 1010.9,262.5 1011.5,262.6 1012.0,262.8 1012.6,262.9 1013.2,263.0 1013.8,263.0 1014.3,263.0 1014.9,263.0 1015.5,262.9 1016.1,262.8 1016.6,262.8 1017.2,262.8 1017.8,262.9 1018.4,262.9 1018.9,263.0 1019.5,263.0 1020.1,263.0 1020.7,263.1 1021.2,263.2 1021.8,263.4 1022.4,263.5 1022.9,263.6 1023.5,263.6 1024.0,263.5 1024.6,263.4 1025.2,263.1 1025.7,262.8 1026.3,262.4 1026.9,262.0 1027.4,261.7 1028.0,261.5 1028.5,261.4 1029.1,261.3 1029.7,261.3 1030.2,261.1 1030.8,260.7 1031.3,260.2 1031.9,259.5 1032.5,258.7 1033.0,257.9 1033.6,257.2 1034.2,256.5 1034.7,256.0 1035.3,255.4 1035.8,254.9 1036.4,254.5 1037.0,254.3 1037.5,254.2 1038.1,254.1 1038.7,254.2 1039.3,254.3 1039.8,254.3 1040.4,254.3 1041.0,254.2 1041.6,254.0 1042.1,253.7 1042.7,253.4 1043.3,253.0 1043.9,252.6 1044.4,252.4 1045.0,252.3 1045.6,252.3 1046.2,252.5 1046.7,252.6 1047.3,252.8 1047.9,252.8 1048.4,252.8 1049.0,252.6 1049.6,252.4 1050.1,252.1 1050.7,252.0 1051.3,252.0 1051.8,252.1 1052.4,252.3 1053.0,252.6 1053.6,252.9 1054.1,253.1 1054.7,253.2 1055.3,253.2 1055.8,253.1 1056.4,253.1 1057.0,253.0 1057.5,253.0 1058.1,253.0 1058.7,253.0 1059.2,253.0 1059.8,253.1 1060.4,253.2 1061.0,253.3 1061.5,253.5 1062.1,253.9 1062.7,254.2 1063.2,254.6 1063.8,254.9 1064.4,255.2 1064.9,255.3 1065.5,255.5 1066.1,255.6 1066.7,255.9 1067.3,256.3 1067.9,256.7 1068.5,257.3 1069.1,257.7 1069.7,258.1 1070.3,258.4 1070.9,258.5 1071.5,258.5 1072.1,258.5 1072.7,258.4 1073.3,258.3 1073.9,258.2 1074.5,258.1 1075.1,258.1 1075.7,258.1 1076.2,258.2 1076.8,258.3 1077.4,258.3 1078.0,258.2 1078.6,257.9 1079.1,257.5 1079.7,257.1 1080.3,256.6 1080.9,256.2 1081.4,255.8 1082.0,255.5 1082.6,255.3 1083.2,255.1 1083.8,255.0 1084.3,254.9 1084.9,254.8 1085.5,254.8 1086.1,254.8 1086.7,254.9 1087.3,255.1 1087.9,255.3 1088.5,255.4 1089.1,255.5 1089.7,255.6 1090.3,255.7 1090.9,255.8 1091.5,256.1 1092.1,256.3 1092.7,256.5 1093.3,256.7 1093.9,256.8 1094.5,256.8 1095.1,256.9 1095.7,257.0 1096.2,257.2 1096.8,257.3 1097.4,257.4 1098.0,257.5 1098.6,257.6 1099.1,257.6 1099.7,257.7 1100.3,257.8 1100.9,257.9 1101.4,257.9 1102.0,257.8 1102.6,257.7 1103.2,257.7 1103.8,257.7 1104.3,257.8 1104.9,257.9 1105.5,257.9 1106.1,257.9 1106.6,257.9 1107.2,257.9 1107.8,258.0 1108.4,258.2 1108.9,258.5 1109.5,258.8 1110.1,259.0 1110.7,259.3 1111.2,259.4 1111.8,259.5 1112.4,259.6 1113.0,259.6 1113.5,259.6 1114.1,259.5 1114.7,259.4 1115.3,259.4 1115.8,259.4 1116.4,259.5 1117.0,259.7 1117.6,260.1 1118.1,260.6 1118.7,261.0 1119.3,261.3 1119.9,261.5 1120.5,261.5 1121.0,261.6 1121.6,261.8 1122.2,262.1 1122.8,262.5 1123.3,262.9 1123.9,263.1 1124.5,263.3 1125.1,263.2 1125.7,263.1 1126.3,262.9 1126.8,262.7 1127.4,262.3 1128.0,261.8 1128.6,261.3 1129.2,260.8 1129.8,260.5 1130.4,260.3 1130.9,260.1 1131.5,259.9 1132.1,259.7 1132.7,259.5 1133.3,259.3 1133.8,259.2 1134.4,259.1 1134.9,259.0 1135.5,258.9 1136.0,258.6 1136.6,258.4 1137.2,258.3 1137.7,258.3 1138.3,258.4 1138.9,258.6 1139.5,258.7 1140.0,258.8 1140.6,258.9 1141.2,258.9 1141.8,259.0 1142.3,259.2 1142.9,259.5 1143.5,259.8 1144.0,260.0 1144.6,260.1 1145.2,260.1 1145.8,260.0 1146.3,260.0 1146.9,259.9 1147.4,259.9 1148.0,259.7 1148.5,259.6 1149.1,259.3 1149.6,259.0 1150.2,258.7 1150.7,258.3 1151.3,257.8 1151.8,257.2 1152.4,256.4 1152.9,255.6 1153.5,254.8 1154.1,254.1 1154.6,253.4 1155.2,252.8 1155.7,252.4 1156.3,252.0 1156.9,251.8 1157.4,251.5 1158.0,251.2 1158.6,250.9 1159.1,250.6 1159.7,250.4 1160.3,250.2 1160.8,250.0 1161.4,249.8 1162.0,249.5 1162.5,249.2 1163.1,248.9 1163.7,248.7 1164.2,248.6 1164.8,248.7 1165.4,248.9 1166.0,249.2 1166.5,249.5 1167.1,249.7 1167.7,249.9 1168.3,249.9 1168.8,249.9 1169.4,249.8 1170.0,249.7 1170.6,249.7 1171.1,249.8 1171.7,250.0 1172.3,250.3 1172.9,250.8 1173.5,251.4 1174.1,252.1 1174.7,252.8 1175.3,253.5 1175.8,254.2 1176.4,255.0 1177.0,255.8 1177.6,256.6 1178.2,257.3 1178.8,257.9 1179.4,258.3 1180.0,258.7 1180.6,258.9 1181.2,259.0 1181.7,259.1 1182.3,259.2 1182.9,259.3 1183.5,259.4 1184.1,259.5 1184.7,259.6 1185.3,259.8 1185.8,259.9 1186.4,260.0 1187.0,260.2 1187.6,260.3 1188.2,260.4 1188.8,260.3 1189.4,260.1 1190.0,259.8 1190.5,259.4 1191.1,259.0 1191.7,258.6 1192.3,258.1 1192.9,257.7 1193.5,257.4 1194.0,257.1 1194.6,256.8 1195.2,256.4 1195.8,256.0 1196.4,255.5 1197.0,254.9 1197.5,254.2 1198.1,253.5 1198.7,252.7 1199.3,251.9 1199.9,251.1 1200.4,250.4 1201.0,249.8 1201.6,249.2 1202.2,248.6 1202.8,248.0 1203.4,247.4 1203.9,246.8 1204.5,246.5 1205.1,246.2 1205.7,246.0 1206.3,245.7 1206.9,245.3 1207.4,245.0 1208.0,244.7 1208.6,244.6 1209.2,244.6 1209.8,244.8 1210.3,245.0 1210.9,245.3 1211.5,245.5 1212.0,245.7 1212.5,245.9 1213.1,246.0 1213.7,246.2 1214.2,246.3 1214.8,246.6 1215.3,246.8 1215.9,247.1 1216.4,247.3 1217.0,247.6 1217.6,247.9 1218.2,248.2 1218.8,248.5 1219.3,248.7 1219.9,248.9 1220.5,249.0 1221.1,249.1 1221.7,249.3 1222.3,249.4 1222.9,249.6 1223.5,249.8 1224.0,250.1 1224.6,250.4 1225.2,250.6 1225.8,250.9 1226.4,251.3 1227.0,251.7 1227.6,252.2 1228.2,252.7 1228.7,253.3 1229.3,253.9 1229.9,254.5 1230.5,255.1 1231.1,255.6 1231.7,256.1 1232.3,256.5 1232.8,256.9 1233.4,257.3 1234.0,257.7 1234.6,258.1 1235.2,258.6 1235.8,259.0 1236.4,259.4 1237.0,259.7 1237.5,260.1 1238.1,260.4 1238.7,260.8 1239.3,261.3 1239.9,261.9 1240.5,262.5 1241.1,263.1 1241.7,263.6 1242.2,263.9 1242.8,264.2 1243.4,264.5 1244.0,264.7 1244.6,264.9 1245.2,265.1 1245.7,265.3 1246.3,265.5 1246.9,265.7 1247.5,266.0 1248.0,266.4 1248.6,266.8 1249.2,267.2 1249.8,267.5 1250.3,267.8 1250.9,268.0 1251.5,268.1 1252.0,268.3 1252.6,268.5 1253.2,268.8 1253.8,269.1 1254.3,269.3 1254.9,269.3 1255.5,269.2 1256.1,268.9 1256.6,268.5 1257.2,268.0 1257.8,267.5 1258.4,267.1 1259.0,266.7 1259.5,266.3 1260.1,266.1 1260.7,265.9 1261.3,265.7 1261.9,265.4 1262.5,264.9 1263.0,264.3 1263.6,263.6 1264.2,262.8 1264.8,261.9 1265.4,261.2 1265.9,260.5 1266.5,259.9 1267.1,259.5 1267.7,259.1 1268.3,258.5 1268.8,257.8 1269.4,256.9 1270.0,255.9 1270.6,254.8 1271.1,253.8 1271.7,252.9 1272.3,252.1 1272.9,251.3 1273.5,250.6 1274.0,249.9 1274.6,249.2 1275.2,248.4 1275.8,247.7 1276.3,247.0 1276.9,246.4 1277.5,245.9 1278.1,245.7 1278.6,245.6 1279.2,245.7 1279.7,245.8 1280.3,246.0 1280.9,246.0 1281.4,246.0 1282.0,246.0 1282.5,245.9 1283.1,245.8 1283.7,245.6 1284.2,245.5 1284.8,245.3 1285.3,245.2 1285.9,245.2 1286.5,245.2 1287.1,245.1 1287.7,245.0 1288.2,244.9 1288.8,244.8 1289.4,244.7 1290.0,244.7 1290.6,244.7 1291.2,244.9 1291.8,245.2 1292.4,245.7 1293.0,246.2 1293.5,246.7 1294.1,247.1 1294.7,247.4 1295.3,247.6 1295.9,247.8 1296.5,247.9 1297.1,248.1 1297.7,248.2 1298.2,248.2 1298.8,248.1 1299.4,248.1 1300.0,248.1 1300.6,248.1 1301.2,248.3 1301.8,248.7 1302.3,249.1 1302.9,249.6 1303.5,250.2 1304.1,250.6 1304.7,251.1 1305.3,251.4 1305.9,251.8 1306.5,252.2 1307.0,252.7 1307.6,253.2 1308.2,253.7 1308.8,254.3 1309.4,254.7 1310.0,255.2 1310.6,255.7 1311.2,256.2 1311.8,256.7 1312.3,257.3 1312.9,257.8 1313.5,258.3 1314.1,258.5 1314.7,258.6 1315.3,258.6 1315.9,258.7 1316.5,258.8 1317.1,258.9 1317.7,259.0 1318.3,259.1 1318.9,259.1 1319.5,259.0 1320.0,258.8 1320.6,258.7 1321.2,258.7 1321.8,258.8 1322.4,259.0 1323.0,259.2 1323.6,259.4 1324.2,259.6 1324.8,259.7 1325.4,259.9 1326.0,260.1 1326.6,260.4 1327.2,260.7 1327.8,261.0 1328.4,261.2 1329.0,261.4 1329.6,261.6 1330.2,261.9 1330.8,262.2 1331.4,262.6 1332.0,263.0 1332.5,263.5 1333.1,263.9 1333.7,264.3 1334.3,264.6 1334.9,264.7 1335.5,264.8 1336.1,264.8 1336.7,264.8 1337.3,264.9 1337.9,264.9 1338.5,264.8 1339.1,264.7 1339.7,264.5 1340.3,264.4 1340.8,264.4 1341.4,264.4 1342.0,264.4 1342.6,264.5 1343.2,264.6 1343.8,264.6 1344.4,264.7 1345.0,264.6 1345.6,264.6 1346.1,264.4 1346.7,264.2 1347.3,264.1 1347.9,263.9 1348.5,263.9 1349.1,264.0 1349.7,264.1 1350.2,264.2 1350.8,264.3 1351.4,264.3 1352.0,264.3 1352.6,264.4 1353.2,264.6 1353.8,264.8 1354.4,265.0 1355.0,265.1 1355.5,265.3 1356.1,265.4 1356.7,265.5 1357.3,265.6 1357.9,265.7 1358.5,265.7 1359.1,265.6 1359.7,265.3 1360.3,265.0 1360.9,264.5 1361.5,264.0 1362.1,263.3 1362.7,262.7 1363.2,262.1 1363.8,261.5 1364.4,260.9 1365.0,260.3 1365.6,259.8 1366.2,259.3 1366.8,258.8 1367.4,258.3 1368.0,257.8 1368.6,257.3 1369.2,256.9 1369.8,256.6 1370.3,256.4 1370.9,256.3 1371.5,256.2 1372.1,255.9 1372.6,255.7 1373.2,255.4 1373.8,255.2 1374.4,255.0 1374.9,254.9 1375.5,254.8 1376.1,254.5 1376.7,254.0 1377.2,253.3 1377.8,252.4 1378.4,251.5 1379.0,250.5 1379.5,249.7 1380.1,248.9 1380.7,248.2 1381.2,247.6 1381.8,247.1 1382.4,246.6 1383.0,246.1 1383.5,245.5 1384.1,244.9 1384.7,244.4 1385.3,243.9 1385.8,243.6 1386.4,243.4 1387.0,243.5 1387.6,243.7 1388.2,243.9 1388.8,244.2 1389.4,244.4 1390.0,244.4 1390.6,244.5 1391.2,244.6 1391.8,244.7 1392.4,245.0 1393.0,245.4 1393.6,245.7 1394.2,246.0 1394.8,246.3 1395.3,246.7 1395.9,247.1 1396.5,247.6 1397.1,248.1 1397.7,248.7 1398.3,249.3 1398.9,249.9 1399.5,250.5 1400.0,251.0 1400.6,251.4 1401.2,251.9 1401.8,252.3 1402.4,252.8 1403.0,253.4 1403.6,254.1 1404.2,254.8 1404.8,255.5 1405.3,256.1 1405.9,256.7 1406.5,257.2 1407.1,257.7 1407.7,258.2 1408.3,258.7 1408.9,259.1 1409.5,259.4 1410.0,259.6 1410.6,259.8 1411.2,259.9 1411.8,260.1 1412.4,260.4 1412.9,260.8 1413.5,261.1 1414.0,261.4 1414.6,261.7 1415.2,261.8 1415.7,261.9 1416.3,261.9 1416.8,262.0 1417.4,262.1 1418.0,262.2 1418.6,262.3 1419.2,262.3 1419.8,262.2 1420.3,262.2 1420.9,262.1 1421.5,262.1 1422.1,262.1 1422.7,262.1 1423.3,262.1 1423.9,262.0 1424.5,261.8 1425.0,261.6 1425.6,261.4 1426.2,261.2 1426.8,261.0"/>
</g>
<rect x="207.8" y="153.7" width="1278.1" height="982.5" fill="none" stroke="#000" stroke-width="1.667" stroke-linecap="square"/>
<g stroke="#000" stroke-width="1.667">
<line x1="264.80" y1="1136.2" x2="264.80" y2="1143.5"/><line x1="424.23" y1="1136.2" x2="424.23" y2="1143.5"/><line x1="583.66" y1="1136.2" x2="583.66" y2="1143.5"/><line x1="743.09" y1="1136.2" x2="743.09" y2="1143.5"/><line x1="902.51" y1="1136.2" x2="902.51" y2="1143.5"/><line x1="1061.94" y1="1136.2" x2="1061.94" y2="1143.5"/><line x1="1221.37" y1="1136.2" x2="1221.37" y2="1143.5"/><line x1="1380.80" y1="1136.2" x2="1380.80" y2="1143.5"/><line x1="207.8" y1="1086.75" x2="200.3" y2="1086.75"/><line x1="207.8" y1="909.73" x2="200.3" y2="909.73"/><line x1="207.8" y1="732.71" x2="200.3" y2="732.71"/><line x1="207.8" y1="555.69" x2="200.3" y2="555.69"/><line x1="207.8" y1="378.67" x2="200.3" y2="378.67"/><line x1="207.8" y1="201.65" x2="200.3" y2="201.65"/>
</g>
<g font-size="21.6">
<text x="266.00" y="1165.7" text-anchor="middle" textLength="12.5" lengthAdjust="spacingAndGlyphs">0</text><text x="422.40" y="1165.7" text-anchor="middle" textLength="37.5" lengthAdjust="spacingAndGlyphs">500</text><text x="583.50" y="1165.7" text-anchor="middle" textLength="50.0" lengthAdjust="spacingAndGlyphs">1000</text><text x="742.80" y="1165.7" text-anchor="middle" textLength="50.0" lengthAdjust="spacingAndGlyphs">1500</text><text x="902.20" y="1165.7" text-anchor="middle" textLength="50.0" lengthAdjust="spacingAndGlyphs">2000</text><text x="1060.90" y="1165.7" text-anchor="middle" textLength="50.0" lengthAdjust="spacingAndGlyphs">2500</text><text x="1219.55" y="1165.7" text-anchor="middle" textLength="50.0" lengthAdjust="spacingAndGlyphs">3000</text><text x="1378.80" y="1165.7" text-anchor="middle" textLength="50.0" lengthAdjust="spacingAndGlyphs">3500</text><text x="190.9" y="1094.85" text-anchor="end" textLength="30" lengthAdjust="spacingAndGlyphs">0.0</text><text x="190.9" y="917.83" text-anchor="end" textLength="30" lengthAdjust="spacingAndGlyphs">0.2</text><text x="190.9" y="740.81" text-anchor="end" textLength="30" lengthAdjust="spacingAndGlyphs">0.4</text><text x="190.9" y="563.79" text-anchor="end" textLength="30" lengthAdjust="spacingAndGlyphs">0.6</text><text x="190.9" y="386.77" text-anchor="end" textLength="30" lengthAdjust="spacingAndGlyphs">0.8</text><text x="190.9" y="209.75" text-anchor="end" textLength="30" lengthAdjust="spacingAndGlyphs">1.0</text>
</g>
<g font-size="26">
<text x="719.5" y="140.9" textLength="57.0" lengthAdjust="spacingAndGlyphs">SEIR</text>
<text x="784.0" y="140.9" textLength="56.0" lengthAdjust="spacingAndGlyphs">Vital</text>
<text x="849.0" y="140.9" textLength="124.5" lengthAdjust="spacingAndGlyphs">Dynamics</text>
</g>
<rect x="1163.2" y="578.2" width="312" height="131.6" rx="4.2" ry="4.2" fill="#fff" fill-opacity="0.8" stroke="#d6d6d6" stroke-width="1.8"/>
<g font-size="21.6">
<line x1="1168.5" y1="595.40" x2="1213.5" y2="595.40" stroke="#1f77b4" stroke-width="3.125" stroke-linecap="butt"/><text x="1228.6" y="602.70" textLength="236.5" lengthAdjust="spacingAndGlyphs">Susceptible Population</text><line x1="1168.5" y1="626.90" x2="1213.5" y2="626.90" stroke="#ff7f0e" stroke-width="3.125" stroke-linecap="butt"/><text x="1228.6" y="634.20" textLength="204.5" lengthAdjust="spacingAndGlyphs">Exposed Population</text><line x1="1168.5" y1="658.40" x2="1213.5" y2="658.40" stroke="#2ca02c" stroke-width="3.125" stroke-linecap="butt"/><text x="1228.6" y="665.70" textLength="217.5" lengthAdjust="spacingAndGlyphs">Infectious Population</text><line x1="1168.5" y1="689.90" x2="1213.5" y2="689.90" stroke="#d62728" stroke-width="3.125" stroke-linecap="butt"/><text x="1228.6" y="697.20" textLength="227.5" lengthAdjust="spacingAndGlyphs">Recovered Population</text>
</g>
</svg>
</body></html>
